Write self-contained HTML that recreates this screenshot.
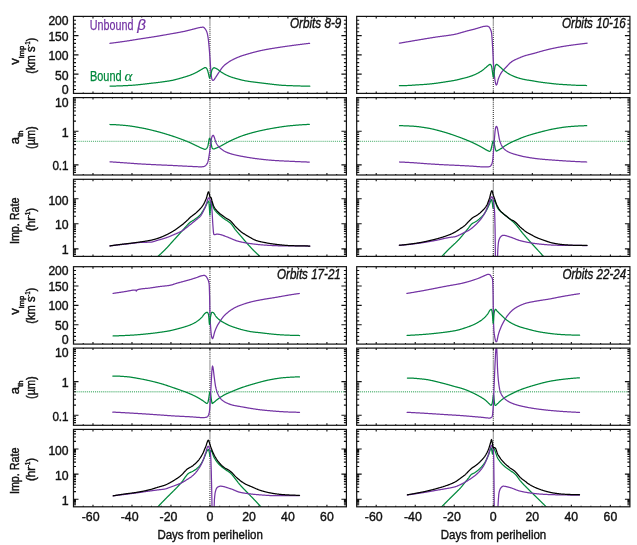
<!DOCTYPE html>
<html><head><meta charset="utf-8"><style>
html,body{margin:0;padding:0;background:#fff;}
svg{display:block;will-change:transform;}
text{font-family:"Liberation Sans",sans-serif;}
</style></head><body>
<svg xmlns="http://www.w3.org/2000/svg" width="637" height="545" viewBox="0 0 637 545"><defs><clipPath id="c00"><rect x="73.50" y="16.40" width="272.90" height="77.00"/></clipPath><clipPath id="c01"><rect x="73.50" y="97.60" width="272.90" height="77.40"/></clipPath><clipPath id="c02"><rect x="73.50" y="179.30" width="272.90" height="77.10"/></clipPath><clipPath id="c03"><rect x="73.50" y="266.70" width="272.90" height="77.40"/></clipPath><clipPath id="c04"><rect x="73.50" y="348.10" width="272.90" height="77.20"/></clipPath><clipPath id="c05"><rect x="73.50" y="429.40" width="272.90" height="77.40"/></clipPath><clipPath id="c10"><rect x="356.70" y="16.40" width="273.20" height="77.00"/></clipPath><clipPath id="c11"><rect x="356.70" y="97.60" width="273.20" height="77.40"/></clipPath><clipPath id="c12"><rect x="356.70" y="179.30" width="273.20" height="77.10"/></clipPath><clipPath id="c13"><rect x="356.70" y="266.70" width="273.20" height="77.40"/></clipPath><clipPath id="c14"><rect x="356.70" y="348.10" width="273.20" height="77.20"/></clipPath><clipPath id="c15"><rect x="356.70" y="429.40" width="273.20" height="77.40"/></clipPath></defs><rect width="637" height="545" fill="#fff"/><line x1="209.95" y1="16.40" x2="209.95" y2="93.40" stroke="#333" stroke-width="1.1" stroke-dasharray="1 1.05"/>
<line x1="209.95" y1="97.60" x2="209.95" y2="175.00" stroke="#333" stroke-width="1.1" stroke-dasharray="1 1.05"/>
<line x1="209.95" y1="179.30" x2="209.95" y2="256.40" stroke="#333" stroke-width="1.1" stroke-dasharray="1 1.05"/>
<line x1="209.95" y1="266.70" x2="209.95" y2="344.10" stroke="#333" stroke-width="1.1" stroke-dasharray="1 1.05"/>
<line x1="209.95" y1="348.10" x2="209.95" y2="425.30" stroke="#333" stroke-width="1.1" stroke-dasharray="1 1.05"/>
<line x1="209.95" y1="429.40" x2="209.95" y2="506.80" stroke="#333" stroke-width="1.1" stroke-dasharray="1 1.05"/>
<line x1="74.50" y1="141.36" x2="346.40" y2="141.36" stroke="#6fbf8b" stroke-width="1.4" stroke-dasharray="1.1 0.95"/>
<line x1="74.50" y1="391.75" x2="346.40" y2="391.75" stroke="#6fbf8b" stroke-width="1.4" stroke-dasharray="1.1 0.95"/>
<line x1="493.30" y1="16.40" x2="493.30" y2="93.40" stroke="#333" stroke-width="1.1" stroke-dasharray="1 1.05"/>
<line x1="493.30" y1="97.60" x2="493.30" y2="175.00" stroke="#333" stroke-width="1.1" stroke-dasharray="1 1.05"/>
<line x1="493.30" y1="179.30" x2="493.30" y2="256.40" stroke="#333" stroke-width="1.1" stroke-dasharray="1 1.05"/>
<line x1="493.30" y1="266.70" x2="493.30" y2="344.10" stroke="#333" stroke-width="1.1" stroke-dasharray="1 1.05"/>
<line x1="493.30" y1="348.10" x2="493.30" y2="425.30" stroke="#333" stroke-width="1.1" stroke-dasharray="1 1.05"/>
<line x1="493.30" y1="429.40" x2="493.30" y2="506.80" stroke="#333" stroke-width="1.1" stroke-dasharray="1 1.05"/>
<line x1="357.70" y1="141.36" x2="629.90" y2="141.36" stroke="#6fbf8b" stroke-width="1.4" stroke-dasharray="1.1 0.95"/>
<line x1="357.70" y1="391.75" x2="629.90" y2="391.75" stroke="#6fbf8b" stroke-width="1.4" stroke-dasharray="1.1 0.95"/>
<path d="M109.90 43.30 L110.24 43.26 L110.59 43.22 L110.93 43.18 L111.27 43.14 L111.62 43.09 L111.96 43.05 L112.30 43.01 L112.65 42.97 L112.99 42.92 L113.33 42.88 L113.68 42.84 L114.02 42.79 L114.36 42.75 L114.70 42.71 L115.05 42.66 L115.39 42.62 L115.73 42.57 L116.08 42.53 L116.42 42.49 L116.76 42.44 L117.11 42.40 L117.45 42.35 L117.79 42.30 L118.14 42.26 L118.48 42.21 L118.82 42.17 L119.17 42.12 L119.51 42.07 L119.85 42.03 L120.20 41.98 L120.54 41.93 L120.88 41.88 L121.22 41.84 L121.57 41.79 L121.91 41.74 L122.25 41.69 L122.60 41.64 L122.94 41.60 L123.28 41.55 L123.63 41.50 L123.97 41.45 L124.31 41.40 L124.66 41.35 L125.00 41.30 L125.35 41.25 L125.70 41.20 L126.05 41.15 L126.40 41.09 L126.74 41.04 L127.09 40.99 L127.44 40.93 L127.79 40.88 L128.14 40.83 L128.49 40.77 L128.84 40.72 L129.19 40.66 L129.53 40.60 L129.88 40.55 L130.23 40.49 L130.58 40.44 L130.93 40.38 L131.28 40.32 L131.63 40.27 L131.98 40.21 L132.33 40.15 L132.67 40.09 L133.02 40.04 L133.37 39.98 L133.72 39.92 L134.07 39.86 L134.42 39.81 L134.77 39.75 L135.12 39.69 L135.47 39.63 L135.81 39.58 L136.16 39.52 L136.51 39.46 L136.86 39.40 L137.21 39.35 L137.56 39.29 L137.91 39.23 L138.26 39.18 L138.60 39.12 L138.95 39.07 L139.30 39.01 L139.65 38.95 L140.00 38.90 L140.35 38.85 L140.70 38.79 L141.05 38.74 L141.40 38.68 L141.74 38.63 L142.09 38.58 L142.44 38.52 L142.79 38.47 L143.14 38.42 L143.49 38.36 L143.84 38.31 L144.19 38.26 L144.53 38.21 L144.88 38.15 L145.23 38.10 L145.58 38.05 L145.93 38.00 L146.28 37.94 L146.63 37.89 L146.98 37.84 L147.33 37.79 L147.67 37.74 L148.02 37.68 L148.37 37.63 L148.72 37.58 L149.07 37.53 L149.42 37.47 L149.77 37.42 L150.12 37.37 L150.47 37.31 L150.81 37.26 L151.16 37.21 L151.51 37.15 L151.86 37.10 L152.21 37.04 L152.56 36.99 L152.91 36.93 L153.26 36.88 L153.60 36.82 L153.95 36.77 L154.30 36.71 L154.65 36.66 L155.00 36.60 L155.35 36.54 L155.70 36.49 L156.05 36.43 L156.40 36.37 L156.74 36.31 L157.09 36.26 L157.44 36.20 L157.79 36.14 L158.14 36.08 L158.49 36.02 L158.84 35.96 L159.19 35.90 L159.53 35.84 L159.88 35.78 L160.23 35.72 L160.58 35.66 L160.93 35.60 L161.28 35.54 L161.63 35.48 L161.98 35.42 L162.33 35.36 L162.67 35.30 L163.02 35.24 L163.37 35.18 L163.72 35.12 L164.07 35.06 L164.42 35.00 L164.77 34.93 L165.12 34.87 L165.47 34.81 L165.81 34.75 L166.16 34.69 L166.51 34.62 L166.86 34.56 L167.21 34.50 L167.56 34.44 L167.91 34.38 L168.26 34.31 L168.60 34.25 L168.95 34.19 L169.30 34.13 L169.65 34.06 L170.00 34.00 L170.35 33.94 L170.70 33.88 L171.05 33.81 L171.40 33.75 L171.74 33.69 L172.09 33.63 L172.44 33.57 L172.79 33.50 L173.14 33.44 L173.49 33.38 L173.84 33.32 L174.19 33.26 L174.53 33.20 L174.88 33.14 L175.23 33.07 L175.58 33.01 L175.93 32.95 L176.28 32.89 L176.63 32.82 L176.98 32.76 L177.33 32.70 L177.67 32.64 L178.02 32.57 L178.37 32.51 L178.72 32.44 L179.07 32.38 L179.42 32.32 L179.77 32.25 L180.12 32.18 L180.47 32.12 L180.81 32.05 L181.16 31.98 L181.51 31.92 L181.86 31.85 L182.21 31.78 L182.56 31.71 L182.91 31.64 L183.26 31.57 L183.60 31.49 L183.95 31.42 L184.30 31.35 L184.65 31.27 L185.00 31.20 L185.34 31.12 L185.69 31.05 L186.03 30.97 L186.38 30.89 L186.72 30.81 L187.07 30.73 L187.41 30.64 L187.76 30.56 L188.10 30.47 L188.45 30.38 L188.79 30.30 L189.14 30.21 L189.48 30.12 L189.83 30.03 L190.17 29.94 L190.52 29.85 L190.86 29.76 L191.21 29.67 L191.55 29.58 L191.90 29.49 L192.24 29.40 L192.59 29.31 L192.93 29.22 L193.28 29.13 L193.62 29.04 L193.97 28.96 L194.31 28.87 L194.66 28.78 L195.00 28.70 L195.33 28.62 L195.67 28.53 L196.00 28.44 L196.33 28.35 L196.67 28.26 L197.00 28.16 L197.33 28.07 L197.67 27.98 L198.00 27.90 L198.33 27.82 L198.67 27.74 L199.00 27.67 L199.33 27.60 L199.67 27.55 L200.00 27.50 L200.32 27.46 L200.64 27.42 L200.96 27.37 L201.28 27.33 L201.60 27.30 L201.92 27.27 L202.24 27.24 L202.56 27.22 L202.88 27.20 L203.20 27.20 L203.52 27.27 L203.83 27.45 L204.15 27.72 L204.47 28.05 L204.78 28.42 L205.10 28.80 L205.43 29.23 L205.77 29.74 L206.10 30.34 L206.43 31.04 L206.77 31.86 L207.10 32.80 L207.40 33.91 L207.70 35.39 L208.00 37.18 L208.30 39.20 L208.60 41.72 L208.90 44.83 L209.20 48.20 L209.47 51.38 L209.73 54.85 L210.00 58.50 L210.25 62.18 L210.50 66.00 L210.70 69.19 L210.90 72.00 L211.20 75.04 L211.50 77.20 L211.85 78.85 L212.20 79.80 L212.47 80.11 L212.73 80.32 L213.00 80.40 L213.33 80.31 L213.67 80.08 L214.00 79.80 L214.33 79.40 L214.67 78.85 L215.00 78.30 L215.32 77.81 L215.65 77.33 L215.97 76.84 L216.30 76.35 L216.62 75.87 L216.95 75.38 L217.28 74.89 L217.60 74.40 L217.91 73.93 L218.22 73.45 L218.54 72.96 L218.85 72.48 L219.16 72.00 L219.47 71.53 L219.79 71.06 L220.10 70.60 L220.43 70.12 L220.76 69.64 L221.09 69.16 L221.41 68.69 L221.74 68.23 L222.07 67.80 L222.40 67.40 L222.72 67.03 L223.04 66.67 L223.37 66.33 L223.69 65.99 L224.01 65.67 L224.33 65.36 L224.66 65.06 L224.98 64.78 L225.30 64.50 L225.65 64.21 L225.99 63.93 L226.34 63.66 L226.68 63.40 L227.03 63.14 L227.38 62.89 L227.72 62.65 L228.07 62.41 L228.42 62.18 L228.76 61.95 L229.11 61.73 L229.45 61.51 L229.80 61.30 L230.15 61.09 L230.49 60.89 L230.84 60.69 L231.18 60.49 L231.53 60.30 L231.88 60.12 L232.22 59.93 L232.57 59.75 L232.92 59.58 L233.26 59.40 L233.61 59.23 L233.95 59.07 L234.30 58.90 L234.64 58.74 L234.97 58.58 L235.31 58.43 L235.65 58.27 L235.98 58.12 L236.32 57.97 L236.66 57.82 L236.99 57.67 L237.33 57.53 L237.67 57.39 L238.01 57.25 L238.34 57.11 L238.68 56.97 L239.02 56.84 L239.35 56.70 L239.69 56.57 L240.03 56.45 L240.36 56.32 L240.70 56.20 L241.04 56.08 L241.37 55.96 L241.71 55.85 L242.05 55.74 L242.38 55.63 L242.72 55.52 L243.06 55.41 L243.39 55.31 L243.73 55.20 L244.07 55.10 L244.41 55.00 L244.74 54.90 L245.08 54.80 L245.42 54.70 L245.75 54.60 L246.09 54.50 L246.43 54.40 L246.76 54.30 L247.10 54.20 L247.43 54.10 L247.76 54.00 L248.09 53.90 L248.43 53.81 L248.76 53.71 L249.09 53.61 L249.42 53.51 L249.75 53.42 L250.08 53.32 L250.42 53.22 L250.75 53.13 L251.08 53.04 L251.41 52.94 L251.74 52.85 L252.07 52.76 L252.41 52.67 L252.74 52.58 L253.07 52.49 L253.40 52.40 L253.74 52.31 L254.08 52.22 L254.42 52.13 L254.76 52.04 L255.10 51.96 L255.43 51.87 L255.77 51.78 L256.11 51.70 L256.45 51.61 L256.79 51.53 L257.13 51.44 L257.47 51.36 L257.81 51.28 L258.15 51.19 L258.49 51.11 L258.83 51.03 L259.17 50.95 L259.50 50.87 L259.84 50.80 L260.18 50.72 L260.52 50.65 L260.86 50.57 L261.20 50.50 L261.55 50.43 L261.90 50.35 L262.25 50.28 L262.59 50.21 L262.94 50.14 L263.29 50.07 L263.64 50.00 L263.99 49.93 L264.34 49.87 L264.68 49.80 L265.03 49.73 L265.38 49.67 L265.73 49.60 L266.08 49.54 L266.43 49.47 L266.77 49.41 L267.12 49.35 L267.47 49.28 L267.82 49.22 L268.17 49.16 L268.52 49.10 L268.86 49.04 L269.21 48.98 L269.56 48.92 L269.91 48.86 L270.26 48.80 L270.61 48.74 L270.95 48.68 L271.30 48.62 L271.65 48.56 L272.00 48.50 L272.34 48.44 L272.68 48.39 L273.03 48.33 L273.37 48.27 L273.71 48.22 L274.05 48.16 L274.39 48.11 L274.74 48.05 L275.08 48.00 L275.42 47.94 L275.76 47.89 L276.11 47.83 L276.45 47.78 L276.79 47.73 L277.13 47.67 L277.47 47.62 L277.82 47.57 L278.16 47.51 L278.50 47.46 L278.84 47.41 L279.18 47.36 L279.53 47.31 L279.87 47.26 L280.21 47.20 L280.55 47.15 L280.89 47.10 L281.24 47.05 L281.58 47.00 L281.92 46.95 L282.26 46.90 L282.61 46.85 L282.95 46.80 L283.29 46.75 L283.63 46.70 L283.97 46.65 L284.32 46.60 L284.66 46.55 L285.00 46.50 L285.35 46.45 L285.70 46.40 L286.04 46.35 L286.39 46.30 L286.74 46.25 L287.09 46.20 L287.44 46.15 L287.79 46.10 L288.13 46.05 L288.48 46.00 L288.83 45.96 L289.18 45.91 L289.53 45.86 L289.87 45.81 L290.22 45.76 L290.57 45.72 L290.92 45.67 L291.27 45.62 L291.61 45.57 L291.96 45.53 L292.31 45.48 L292.66 45.43 L293.01 45.39 L293.36 45.34 L293.70 45.29 L294.05 45.25 L294.40 45.20 L294.75 45.15 L295.10 45.11 L295.44 45.06 L295.79 45.02 L296.14 44.97 L296.49 44.93 L296.84 44.88 L297.19 44.84 L297.53 44.79 L297.88 44.75 L298.23 44.70 L298.58 44.66 L298.93 44.61 L299.27 44.57 L299.62 44.52 L299.97 44.48 L300.32 44.43 L300.67 44.39 L301.01 44.35 L301.36 44.30 L301.71 44.26 L302.06 44.22 L302.41 44.17 L302.76 44.13 L303.10 44.09 L303.45 44.04 L303.80 44.00 L304.14 43.96 L304.48 43.92 L304.82 43.87 L305.16 43.83 L305.51 43.79 L305.85 43.75 L306.19 43.71 L306.53 43.67 L306.87 43.63 L307.21 43.58 L307.55 43.54 L307.89 43.50 L308.24 43.46 L308.58 43.42 L308.92 43.38 L309.26 43.34 L309.60 43.30" fill="none" stroke="#7434a4" stroke-width="1.25" stroke-linejoin="round" stroke-linecap="round" clip-path="url(#c00)"/>
<path d="M110.00 86.10 L110.34 86.10 L110.69 86.10 L111.03 86.09 L111.38 86.09 L111.72 86.09 L112.07 86.08 L112.41 86.08 L112.76 86.08 L113.10 86.07 L113.45 86.06 L113.79 86.06 L114.14 86.05 L114.48 86.04 L114.83 86.04 L115.17 86.03 L115.52 86.02 L115.86 86.01 L116.21 86.00 L116.55 85.99 L116.90 85.98 L117.24 85.97 L117.59 85.96 L117.93 85.95 L118.28 85.94 L118.62 85.92 L118.97 85.91 L119.31 85.90 L119.66 85.89 L120.00 85.87 L120.34 85.86 L120.69 85.85 L121.03 85.83 L121.38 85.82 L121.72 85.80 L122.07 85.79 L122.41 85.77 L122.76 85.76 L123.10 85.74 L123.45 85.73 L123.79 85.71 L124.14 85.69 L124.48 85.68 L124.83 85.66 L125.17 85.64 L125.52 85.63 L125.86 85.61 L126.21 85.59 L126.55 85.58 L126.90 85.56 L127.24 85.54 L127.59 85.52 L127.93 85.51 L128.28 85.49 L128.62 85.47 L128.97 85.45 L129.31 85.44 L129.66 85.42 L130.00 85.40 L130.34 85.38 L130.69 85.36 L131.03 85.34 L131.38 85.32 L131.72 85.30 L132.07 85.28 L132.41 85.25 L132.76 85.23 L133.10 85.20 L133.45 85.18 L133.79 85.15 L134.14 85.12 L134.48 85.09 L134.83 85.06 L135.17 85.03 L135.52 85.00 L135.86 84.97 L136.21 84.94 L136.55 84.91 L136.90 84.88 L137.24 84.84 L137.59 84.81 L137.93 84.77 L138.28 84.74 L138.62 84.70 L138.97 84.67 L139.31 84.63 L139.66 84.60 L140.00 84.56 L140.34 84.52 L140.69 84.48 L141.03 84.44 L141.38 84.41 L141.72 84.37 L142.07 84.33 L142.41 84.29 L142.76 84.25 L143.10 84.21 L143.45 84.17 L143.79 84.13 L144.14 84.09 L144.48 84.05 L144.83 84.01 L145.17 83.97 L145.52 83.93 L145.86 83.89 L146.21 83.84 L146.55 83.80 L146.90 83.76 L147.24 83.72 L147.59 83.68 L147.93 83.64 L148.28 83.60 L148.62 83.56 L148.97 83.52 L149.31 83.48 L149.66 83.44 L150.00 83.40 L150.35 83.36 L150.70 83.32 L151.05 83.28 L151.40 83.24 L151.75 83.20 L152.10 83.16 L152.44 83.12 L152.79 83.08 L153.14 83.04 L153.49 83.00 L153.84 82.96 L154.19 82.92 L154.54 82.88 L154.89 82.84 L155.24 82.80 L155.59 82.76 L155.94 82.72 L156.29 82.67 L156.63 82.63 L156.98 82.59 L157.33 82.55 L157.68 82.51 L158.03 82.47 L158.38 82.42 L158.73 82.38 L159.08 82.34 L159.43 82.29 L159.78 82.25 L160.13 82.21 L160.48 82.16 L160.83 82.12 L161.17 82.07 L161.52 82.03 L161.87 81.98 L162.22 81.93 L162.57 81.89 L162.92 81.84 L163.27 81.79 L163.62 81.74 L163.97 81.69 L164.32 81.65 L164.67 81.60 L165.02 81.55 L165.37 81.49 L165.71 81.44 L166.06 81.39 L166.41 81.34 L166.76 81.28 L167.11 81.23 L167.46 81.18 L167.81 81.12 L168.16 81.06 L168.51 81.01 L168.86 80.95 L169.21 80.89 L169.56 80.83 L169.90 80.77 L170.25 80.71 L170.60 80.65 L170.95 80.59 L171.30 80.53 L171.65 80.46 L172.00 80.40 L172.34 80.34 L172.67 80.27 L173.01 80.20 L173.34 80.12 L173.68 80.04 L174.01 79.96 L174.35 79.88 L174.68 79.80 L175.02 79.71 L175.35 79.63 L175.69 79.54 L176.02 79.45 L176.36 79.36 L176.69 79.27 L177.03 79.18 L177.36 79.09 L177.70 79.00 L178.03 78.91 L178.36 78.82 L178.69 78.73 L179.02 78.64 L179.35 78.55 L179.68 78.46 L180.01 78.37 L180.34 78.27 L180.66 78.18 L180.99 78.08 L181.32 77.99 L181.65 77.89 L181.98 77.79 L182.31 77.69 L182.64 77.60 L182.97 77.50 L183.30 77.40 L183.64 77.30 L183.97 77.20 L184.31 77.10 L184.64 77.00 L184.98 76.90 L185.31 76.80 L185.65 76.70 L185.98 76.59 L186.32 76.49 L186.65 76.38 L186.99 76.28 L187.32 76.17 L187.66 76.06 L187.99 75.95 L188.33 75.83 L188.66 75.72 L189.00 75.60 L189.35 75.47 L189.70 75.35 L190.05 75.21 L190.40 75.08 L190.75 74.95 L191.10 74.81 L191.45 74.67 L191.80 74.53 L192.15 74.38 L192.50 74.24 L192.85 74.09 L193.20 73.93 L193.55 73.78 L193.90 73.62 L194.25 73.46 L194.60 73.30 L194.94 73.14 L195.27 72.98 L195.61 72.81 L195.94 72.64 L196.28 72.46 L196.61 72.28 L196.95 72.10 L197.28 71.91 L197.62 71.73 L197.95 71.54 L198.29 71.35 L198.62 71.16 L198.96 70.97 L199.29 70.77 L199.63 70.58 L199.96 70.39 L200.30 70.20 L200.64 70.00 L200.98 69.80 L201.32 69.59 L201.66 69.37 L202.00 69.16 L202.34 68.95 L202.68 68.75 L203.02 68.55 L203.36 68.37 L203.70 68.20 L204.04 68.02 L204.38 67.84 L204.72 67.67 L205.06 67.55 L205.40 67.50 L205.68 67.56 L205.95 67.72 L206.22 67.94 L206.50 68.20 L206.78 68.57 L207.05 69.12 L207.32 69.78 L207.60 70.50 L207.87 71.32 L208.13 72.29 L208.40 73.30 L208.70 74.66 L209.00 76.20 L209.30 77.47 L209.60 78.00 L209.90 77.60 L210.20 76.64 L210.50 75.43 L210.80 74.30 L211.15 73.01 L211.50 71.60 L211.85 70.34 L212.20 69.50 L212.52 69.03 L212.83 68.60 L213.15 68.24 L213.47 67.95 L213.78 67.77 L214.10 67.70 L214.40 67.75 L214.70 67.87 L215.00 68.00 L215.32 68.13 L215.65 68.27 L215.97 68.42 L216.30 68.58 L216.62 68.75 L216.95 68.92 L217.28 69.11 L217.60 69.30 L217.91 69.50 L218.22 69.73 L218.54 69.97 L218.85 70.22 L219.16 70.47 L219.47 70.73 L219.79 70.97 L220.10 71.20 L220.45 71.44 L220.79 71.69 L221.14 71.93 L221.48 72.16 L221.83 72.40 L222.18 72.63 L222.52 72.86 L222.87 73.08 L223.22 73.30 L223.56 73.51 L223.91 73.71 L224.25 73.91 L224.60 74.10 L224.94 74.28 L225.28 74.46 L225.63 74.63 L225.97 74.81 L226.31 74.97 L226.65 75.14 L226.99 75.30 L227.34 75.46 L227.68 75.62 L228.02 75.77 L228.36 75.92 L228.71 76.07 L229.05 76.21 L229.39 76.35 L229.73 76.49 L230.07 76.62 L230.42 76.75 L230.76 76.88 L231.10 77.00 L231.44 77.12 L231.77 77.23 L232.11 77.35 L232.45 77.46 L232.78 77.56 L233.12 77.67 L233.46 77.77 L233.79 77.87 L234.13 77.97 L234.47 78.07 L234.81 78.16 L235.14 78.26 L235.48 78.35 L235.82 78.44 L236.15 78.53 L236.49 78.63 L236.83 78.72 L237.16 78.81 L237.50 78.90 L237.84 78.99 L238.17 79.08 L238.51 79.17 L238.85 79.27 L239.18 79.36 L239.52 79.45 L239.86 79.54 L240.19 79.62 L240.53 79.71 L240.87 79.80 L241.21 79.88 L241.54 79.97 L241.88 80.05 L242.22 80.13 L242.55 80.21 L242.89 80.28 L243.23 80.36 L243.56 80.43 L243.90 80.50 L244.24 80.57 L244.57 80.63 L244.91 80.70 L245.25 80.76 L245.58 80.83 L245.92 80.89 L246.26 80.95 L246.59 81.01 L246.93 81.07 L247.27 81.13 L247.61 81.18 L247.94 81.24 L248.28 81.29 L248.62 81.35 L248.95 81.40 L249.29 81.45 L249.63 81.50 L249.96 81.55 L250.30 81.60 L250.64 81.65 L250.97 81.69 L251.31 81.74 L251.64 81.78 L251.98 81.83 L252.31 81.87 L252.65 81.91 L252.99 81.95 L253.32 81.99 L253.66 82.04 L253.99 82.08 L254.33 82.12 L254.66 82.16 L255.00 82.20 L255.34 82.24 L255.67 82.28 L256.01 82.33 L256.35 82.37 L256.69 82.41 L257.02 82.45 L257.36 82.49 L257.70 82.53 L258.03 82.57 L258.37 82.61 L258.71 82.65 L259.04 82.69 L259.38 82.73 L259.72 82.77 L260.06 82.81 L260.39 82.86 L260.73 82.90 L261.07 82.94 L261.40 82.98 L261.74 83.02 L262.08 83.06 L262.41 83.10 L262.75 83.14 L263.09 83.18 L263.43 83.22 L263.76 83.26 L264.10 83.30 L264.45 83.34 L264.80 83.39 L265.15 83.43 L265.50 83.47 L265.85 83.51 L266.20 83.56 L266.55 83.60 L266.90 83.65 L267.25 83.69 L267.60 83.73 L267.95 83.78 L268.30 83.82 L268.65 83.86 L269.00 83.91 L269.35 83.95 L269.70 83.99 L270.05 84.04 L270.40 84.08 L270.75 84.12 L271.10 84.16 L271.45 84.20 L271.80 84.24 L272.15 84.28 L272.50 84.32 L272.85 84.36 L273.20 84.40 L273.54 84.44 L273.87 84.47 L274.21 84.51 L274.55 84.55 L274.89 84.59 L275.22 84.63 L275.56 84.66 L275.90 84.70 L276.23 84.74 L276.57 84.78 L276.91 84.81 L277.24 84.85 L277.58 84.89 L277.92 84.92 L278.26 84.96 L278.59 84.99 L278.93 85.03 L279.27 85.06 L279.60 85.09 L279.94 85.12 L280.28 85.15 L280.61 85.18 L280.95 85.21 L281.29 85.23 L281.63 85.26 L281.96 85.28 L282.30 85.30 L282.65 85.32 L283.00 85.34 L283.35 85.36 L283.70 85.38 L284.05 85.40 L284.40 85.42 L284.75 85.43 L285.10 85.45 L285.45 85.47 L285.80 85.48 L286.15 85.50 L286.50 85.51 L286.85 85.53 L287.20 85.54 L287.55 85.55 L287.90 85.57 L288.25 85.58 L288.60 85.60 L288.95 85.61 L289.30 85.62 L289.65 85.63 L290.00 85.65 L290.35 85.66 L290.70 85.67 L291.05 85.69 L291.40 85.70 L291.74 85.71 L292.07 85.73 L292.41 85.74 L292.75 85.75 L293.09 85.76 L293.42 85.77 L293.76 85.79 L294.10 85.80 L294.43 85.81 L294.77 85.82 L295.11 85.83 L295.44 85.85 L295.78 85.86 L296.12 85.87 L296.46 85.88 L296.79 85.89 L297.13 85.90 L297.47 85.91 L297.80 85.92 L298.14 85.93 L298.48 85.94 L298.81 85.95 L299.15 85.96 L299.49 85.97 L299.83 85.98 L300.16 85.99 L300.50 86.00 L300.84 86.01 L301.19 86.02 L301.53 86.03 L301.88 86.04 L302.22 86.04 L302.57 86.05 L302.91 86.06 L303.26 86.07 L303.60 86.08 L303.94 86.08 L304.29 86.09 L304.63 86.10 L304.98 86.11 L305.32 86.12 L305.67 86.12 L306.01 86.13 L306.36 86.14 L306.70 86.14 L307.04 86.15 L307.39 86.16 L307.73 86.16 L308.08 86.17 L308.42 86.18 L308.77 86.18 L309.11 86.19 L309.46 86.19 L309.80 86.20" fill="none" stroke="#00893c" stroke-width="1.25" stroke-linejoin="round" stroke-linecap="round" clip-path="url(#c00)"/>
<path d="M110.00 124.50 L110.35 124.51 L110.70 124.52 L111.05 124.52 L111.40 124.53 L111.74 124.55 L112.09 124.56 L112.44 124.57 L112.79 124.58 L113.14 124.60 L113.49 124.61 L113.84 124.63 L114.19 124.64 L114.54 124.66 L114.88 124.68 L115.23 124.70 L115.58 124.72 L115.93 124.74 L116.28 124.76 L116.63 124.78 L116.98 124.80 L117.33 124.83 L117.68 124.85 L118.02 124.87 L118.37 124.90 L118.72 124.92 L119.07 124.95 L119.42 124.97 L119.77 125.00 L120.12 125.03 L120.47 125.05 L120.82 125.08 L121.16 125.11 L121.51 125.14 L121.86 125.17 L122.21 125.20 L122.56 125.22 L122.91 125.25 L123.26 125.28 L123.61 125.31 L123.96 125.35 L124.30 125.38 L124.65 125.41 L125.00 125.44 L125.35 125.47 L125.70 125.50 L126.05 125.53 L126.40 125.57 L126.75 125.60 L127.10 125.64 L127.44 125.67 L127.79 125.71 L128.14 125.75 L128.49 125.80 L128.84 125.84 L129.19 125.88 L129.54 125.93 L129.89 125.97 L130.24 126.02 L130.58 126.07 L130.93 126.12 L131.28 126.17 L131.63 126.22 L131.98 126.27 L132.33 126.32 L132.68 126.38 L133.03 126.43 L133.38 126.49 L133.72 126.54 L134.07 126.60 L134.42 126.66 L134.77 126.72 L135.12 126.78 L135.47 126.84 L135.82 126.90 L136.17 126.96 L136.52 127.02 L136.86 127.08 L137.21 127.14 L137.56 127.20 L137.91 127.26 L138.26 127.33 L138.61 127.39 L138.96 127.45 L139.31 127.52 L139.66 127.58 L140.00 127.64 L140.35 127.71 L140.70 127.77 L141.05 127.84 L141.40 127.90 L141.75 127.96 L142.10 128.03 L142.45 128.10 L142.80 128.16 L143.14 128.23 L143.49 128.30 L143.84 128.37 L144.19 128.44 L144.54 128.51 L144.89 128.58 L145.24 128.66 L145.59 128.73 L145.94 128.81 L146.28 128.88 L146.63 128.96 L146.98 129.03 L147.33 129.11 L147.68 129.19 L148.03 129.27 L148.38 129.35 L148.73 129.43 L149.08 129.51 L149.42 129.59 L149.77 129.67 L150.12 129.76 L150.47 129.84 L150.82 129.92 L151.17 130.01 L151.52 130.09 L151.87 130.18 L152.22 130.26 L152.56 130.35 L152.91 130.43 L153.26 130.52 L153.61 130.61 L153.96 130.70 L154.31 130.78 L154.66 130.87 L155.01 130.96 L155.36 131.05 L155.70 131.14 L156.05 131.23 L156.40 131.32 L156.75 131.41 L157.10 131.50 L157.45 131.59 L157.80 131.68 L158.15 131.78 L158.50 131.87 L158.84 131.96 L159.19 132.06 L159.54 132.15 L159.89 132.25 L160.24 132.34 L160.59 132.44 L160.94 132.54 L161.29 132.64 L161.64 132.74 L161.98 132.84 L162.33 132.94 L162.68 133.04 L163.03 133.14 L163.38 133.24 L163.73 133.35 L164.08 133.45 L164.43 133.55 L164.78 133.66 L165.12 133.76 L165.47 133.87 L165.82 133.98 L166.17 134.08 L166.52 134.19 L166.87 134.30 L167.22 134.41 L167.57 134.51 L167.92 134.62 L168.26 134.73 L168.61 134.84 L168.96 134.95 L169.31 135.07 L169.66 135.18 L170.01 135.29 L170.36 135.40 L170.71 135.51 L171.06 135.63 L171.40 135.74 L171.75 135.86 L172.10 135.97 L172.45 136.08 L172.80 136.20 L173.15 136.32 L173.50 136.43 L173.85 136.55 L174.20 136.67 L174.54 136.78 L174.89 136.90 L175.24 137.02 L175.59 137.14 L175.94 137.26 L176.29 137.38 L176.64 137.50 L176.99 137.62 L177.34 137.74 L177.68 137.86 L178.03 137.99 L178.38 138.11 L178.73 138.24 L179.08 138.36 L179.43 138.49 L179.78 138.61 L180.13 138.74 L180.48 138.87 L180.82 138.99 L181.17 139.12 L181.52 139.25 L181.87 139.38 L182.22 139.51 L182.57 139.65 L182.92 139.78 L183.27 139.91 L183.62 140.04 L183.96 140.18 L184.31 140.31 L184.66 140.45 L185.01 140.59 L185.36 140.72 L185.71 140.86 L186.06 141.00 L186.41 141.14 L186.76 141.28 L187.10 141.42 L187.45 141.57 L187.80 141.71 L188.15 141.85 L188.50 142.00 L188.85 142.15 L189.20 142.30 L189.54 142.45 L189.89 142.60 L190.24 142.76 L190.59 142.92 L190.94 143.08 L191.29 143.24 L191.63 143.40 L191.98 143.56 L192.33 143.73 L192.68 143.90 L193.03 144.06 L193.37 144.23 L193.72 144.40 L194.07 144.57 L194.42 144.74 L194.77 144.91 L195.11 145.08 L195.46 145.24 L195.81 145.41 L196.16 145.58 L196.51 145.75 L196.86 145.91 L197.20 146.08 L197.55 146.24 L197.90 146.40 L198.23 146.55 L198.56 146.71 L198.89 146.87 L199.21 147.03 L199.54 147.19 L199.87 147.35 L200.20 147.50 L200.53 147.66 L200.86 147.81 L201.19 147.96 L201.51 148.10 L201.84 148.24 L202.17 148.37 L202.50 148.50 L202.81 148.62 L203.12 148.76 L203.44 148.89 L203.75 149.02 L204.06 149.13 L204.38 149.22 L204.69 149.28 L205.00 149.30 L205.33 149.26 L205.67 149.15 L206.00 149.00 L206.33 148.73 L206.67 148.30 L207.00 147.80 L207.27 147.37 L207.53 146.86 L207.80 146.20 L208.07 145.21 L208.33 143.89 L208.60 142.50 L208.83 141.03 L209.07 139.49 L209.30 138.60 L209.55 138.32 L209.80 138.20 L210.10 138.82 L210.40 140.00 L210.70 141.37 L211.00 143.00 L211.30 144.50 L211.63 146.05 L211.97 147.49 L212.30 148.30 L212.62 148.59 L212.95 148.81 L213.28 148.95 L213.60 149.00 L213.92 148.97 L214.23 148.90 L214.55 148.79 L214.87 148.66 L215.18 148.52 L215.50 148.40 L215.81 148.28 L216.12 148.16 L216.43 148.04 L216.74 147.90 L217.06 147.77 L217.37 147.63 L217.68 147.49 L217.99 147.34 L218.30 147.20 L218.64 147.04 L218.97 146.88 L219.31 146.72 L219.64 146.55 L219.98 146.38 L220.31 146.21 L220.65 146.04 L220.99 145.87 L221.32 145.69 L221.66 145.51 L221.99 145.34 L222.33 145.16 L222.66 144.98 L223.00 144.80 L223.34 144.62 L223.67 144.44 L224.01 144.25 L224.34 144.06 L224.68 143.87 L225.01 143.68 L225.35 143.49 L225.69 143.30 L226.02 143.11 L226.36 142.92 L226.69 142.74 L227.03 142.55 L227.36 142.37 L227.70 142.20 L228.04 142.03 L228.38 141.85 L228.72 141.68 L229.06 141.51 L229.40 141.34 L229.73 141.17 L230.07 141.01 L230.41 140.84 L230.75 140.67 L231.09 140.51 L231.43 140.35 L231.77 140.19 L232.11 140.03 L232.45 139.87 L232.79 139.71 L233.13 139.55 L233.47 139.40 L233.80 139.25 L234.14 139.09 L234.48 138.94 L234.82 138.79 L235.16 138.65 L235.50 138.50 L235.84 138.35 L236.19 138.21 L236.53 138.06 L236.87 137.91 L237.22 137.77 L237.56 137.63 L237.90 137.48 L238.25 137.34 L238.59 137.20 L238.93 137.06 L239.28 136.92 L239.62 136.79 L239.97 136.65 L240.31 136.52 L240.65 136.39 L241.00 136.26 L241.34 136.13 L241.68 136.00 L242.03 135.88 L242.37 135.75 L242.71 135.63 L243.06 135.52 L243.40 135.40 L243.75 135.28 L244.10 135.17 L244.45 135.06 L244.80 134.94 L245.14 134.83 L245.49 134.72 L245.84 134.61 L246.19 134.50 L246.54 134.39 L246.89 134.28 L247.24 134.17 L247.59 134.07 L247.94 133.96 L248.28 133.86 L248.63 133.75 L248.98 133.65 L249.33 133.55 L249.68 133.45 L250.03 133.35 L250.38 133.25 L250.73 133.15 L251.08 133.05 L251.42 132.95 L251.77 132.86 L252.12 132.76 L252.47 132.66 L252.82 132.57 L253.17 132.48 L253.52 132.38 L253.87 132.29 L254.22 132.20 L254.56 132.11 L254.91 132.02 L255.26 131.93 L255.61 131.84 L255.96 131.76 L256.31 131.67 L256.66 131.58 L257.01 131.50 L257.36 131.41 L257.70 131.33 L258.05 131.25 L258.40 131.16 L258.75 131.08 L259.10 131.00 L259.45 130.92 L259.80 130.84 L260.15 130.76 L260.50 130.68 L260.84 130.60 L261.19 130.52 L261.54 130.45 L261.89 130.37 L262.24 130.29 L262.59 130.22 L262.94 130.14 L263.29 130.07 L263.64 129.99 L263.98 129.92 L264.33 129.85 L264.68 129.78 L265.03 129.70 L265.38 129.63 L265.73 129.56 L266.08 129.49 L266.43 129.42 L266.78 129.35 L267.12 129.28 L267.47 129.21 L267.82 129.15 L268.17 129.08 L268.52 129.01 L268.87 128.95 L269.22 128.88 L269.57 128.82 L269.92 128.75 L270.26 128.69 L270.61 128.62 L270.96 128.56 L271.31 128.50 L271.66 128.44 L272.01 128.37 L272.36 128.31 L272.71 128.25 L273.06 128.19 L273.40 128.13 L273.75 128.07 L274.10 128.02 L274.45 127.96 L274.80 127.90 L275.15 127.84 L275.50 127.79 L275.85 127.73 L276.20 127.67 L276.54 127.61 L276.89 127.56 L277.24 127.50 L277.59 127.44 L277.94 127.39 L278.29 127.33 L278.64 127.28 L278.99 127.22 L279.34 127.17 L279.68 127.11 L280.03 127.06 L280.38 127.00 L280.73 126.95 L281.08 126.90 L281.43 126.84 L281.78 126.79 L282.13 126.74 L282.48 126.69 L282.82 126.64 L283.17 126.59 L283.52 126.54 L283.87 126.49 L284.22 126.44 L284.57 126.39 L284.92 126.34 L285.27 126.30 L285.62 126.25 L285.96 126.21 L286.31 126.16 L286.66 126.12 L287.01 126.08 L287.36 126.03 L287.71 125.99 L288.06 125.95 L288.41 125.91 L288.76 125.88 L289.10 125.84 L289.45 125.80 L289.80 125.77 L290.15 125.73 L290.50 125.70 L290.85 125.67 L291.20 125.64 L291.54 125.60 L291.89 125.57 L292.24 125.54 L292.59 125.51 L292.94 125.48 L293.29 125.44 L293.63 125.41 L293.98 125.38 L294.33 125.35 L294.68 125.32 L295.03 125.29 L295.37 125.26 L295.72 125.23 L296.07 125.20 L296.42 125.17 L296.77 125.14 L297.11 125.12 L297.46 125.09 L297.81 125.06 L298.16 125.03 L298.51 125.01 L298.86 124.98 L299.20 124.95 L299.55 124.93 L299.90 124.90 L300.25 124.88 L300.60 124.85 L300.94 124.83 L301.29 124.80 L301.64 124.78 L301.99 124.76 L302.34 124.74 L302.69 124.71 L303.03 124.69 L303.38 124.67 L303.73 124.65 L304.08 124.63 L304.43 124.61 L304.77 124.59 L305.12 124.57 L305.47 124.56 L305.82 124.54 L306.17 124.52 L306.51 124.51 L306.86 124.49 L307.21 124.48 L307.56 124.46 L307.91 124.45 L308.26 124.43 L308.60 124.42 L308.95 124.41 L309.30 124.40" fill="none" stroke="#00893c" stroke-width="1.25" stroke-linejoin="round" stroke-linecap="round" clip-path="url(#c01)"/>
<path d="M110.00 161.80 L110.35 161.82 L110.70 161.85 L111.05 161.87 L111.40 161.90 L111.74 161.92 L112.09 161.95 L112.44 161.97 L112.79 162.00 L113.14 162.02 L113.49 162.04 L113.84 162.07 L114.19 162.09 L114.54 162.12 L114.88 162.14 L115.23 162.17 L115.58 162.19 L115.93 162.22 L116.28 162.24 L116.63 162.26 L116.98 162.29 L117.33 162.31 L117.68 162.34 L118.02 162.36 L118.37 162.39 L118.72 162.41 L119.07 162.44 L119.42 162.46 L119.77 162.48 L120.12 162.51 L120.47 162.53 L120.82 162.56 L121.16 162.58 L121.51 162.61 L121.86 162.63 L122.21 162.66 L122.56 162.68 L122.91 162.70 L123.26 162.73 L123.61 162.75 L123.96 162.78 L124.30 162.80 L124.65 162.83 L125.00 162.85 L125.35 162.88 L125.70 162.90 L126.05 162.92 L126.40 162.95 L126.75 162.97 L127.10 163.00 L127.44 163.02 L127.79 163.05 L128.14 163.07 L128.49 163.10 L128.84 163.13 L129.19 163.15 L129.54 163.18 L129.89 163.20 L130.24 163.23 L130.58 163.25 L130.93 163.28 L131.28 163.31 L131.63 163.33 L131.98 163.36 L132.33 163.38 L132.68 163.41 L133.03 163.43 L133.38 163.46 L133.72 163.48 L134.07 163.51 L134.42 163.53 L134.77 163.56 L135.12 163.59 L135.47 163.61 L135.82 163.63 L136.17 163.66 L136.52 163.68 L136.86 163.71 L137.21 163.73 L137.56 163.76 L137.91 163.78 L138.26 163.80 L138.61 163.83 L138.96 163.85 L139.31 163.87 L139.66 163.89 L140.00 163.92 L140.35 163.94 L140.70 163.96 L141.05 163.98 L141.40 164.00 L141.75 164.02 L142.10 164.04 L142.45 164.06 L142.80 164.08 L143.14 164.10 L143.49 164.12 L143.84 164.14 L144.19 164.16 L144.54 164.18 L144.89 164.20 L145.24 164.22 L145.59 164.23 L145.94 164.25 L146.28 164.27 L146.63 164.29 L146.98 164.31 L147.33 164.33 L147.68 164.34 L148.03 164.36 L148.38 164.38 L148.73 164.40 L149.08 164.41 L149.42 164.43 L149.77 164.45 L150.12 164.47 L150.47 164.48 L150.82 164.50 L151.17 164.52 L151.52 164.53 L151.87 164.55 L152.22 164.57 L152.56 164.58 L152.91 164.60 L153.26 164.62 L153.61 164.63 L153.96 164.65 L154.31 164.67 L154.66 164.68 L155.01 164.70 L155.36 164.72 L155.70 164.73 L156.05 164.75 L156.40 164.77 L156.75 164.78 L157.10 164.80 L157.45 164.82 L157.80 164.83 L158.15 164.85 L158.50 164.87 L158.84 164.88 L159.19 164.90 L159.54 164.91 L159.89 164.93 L160.24 164.94 L160.59 164.96 L160.94 164.98 L161.29 164.99 L161.64 165.01 L161.98 165.02 L162.33 165.04 L162.68 165.05 L163.03 165.07 L163.38 165.08 L163.73 165.10 L164.08 165.11 L164.43 165.13 L164.78 165.14 L165.12 165.16 L165.47 165.17 L165.82 165.19 L166.17 165.20 L166.52 165.22 L166.87 165.23 L167.22 165.25 L167.57 165.26 L167.92 165.28 L168.26 165.29 L168.61 165.31 L168.96 165.32 L169.31 165.34 L169.66 165.36 L170.01 165.37 L170.36 165.39 L170.71 165.40 L171.06 165.42 L171.40 165.43 L171.75 165.45 L172.10 165.47 L172.45 165.48 L172.80 165.50 L173.15 165.52 L173.50 165.53 L173.85 165.55 L174.20 165.57 L174.54 165.59 L174.89 165.60 L175.24 165.62 L175.59 165.64 L175.94 165.66 L176.29 165.67 L176.64 165.69 L176.99 165.71 L177.34 165.73 L177.68 165.75 L178.03 165.77 L178.38 165.78 L178.73 165.80 L179.08 165.82 L179.43 165.84 L179.78 165.86 L180.13 165.88 L180.48 165.90 L180.82 165.92 L181.17 165.93 L181.52 165.95 L181.87 165.97 L182.22 165.99 L182.57 166.01 L182.92 166.03 L183.27 166.04 L183.62 166.06 L183.96 166.08 L184.31 166.10 L184.66 166.12 L185.01 166.13 L185.36 166.15 L185.71 166.17 L186.06 166.19 L186.41 166.20 L186.76 166.22 L187.10 166.24 L187.45 166.25 L187.80 166.27 L188.15 166.28 L188.50 166.30 L188.85 166.32 L189.20 166.33 L189.55 166.35 L189.90 166.37 L190.25 166.38 L190.60 166.40 L190.95 166.42 L191.30 166.44 L191.65 166.46 L192.00 166.48 L192.35 166.49 L192.70 166.51 L193.05 166.53 L193.40 166.55 L193.75 166.57 L194.10 166.59 L194.45 166.60 L194.80 166.62 L195.15 166.64 L195.50 166.65 L195.85 166.67 L196.20 166.68 L196.55 166.70 L196.90 166.71 L197.25 166.72 L197.60 166.74 L197.95 166.75 L198.30 166.76 L198.65 166.77 L199.00 166.78 L199.35 166.78 L199.70 166.79 L200.05 166.79 L200.40 166.80 L200.75 166.80 L201.10 166.80 L201.44 166.80 L201.79 166.78 L202.13 166.76 L202.47 166.73 L202.81 166.69 L203.16 166.65 L203.50 166.60 L203.80 166.54 L204.10 166.44 L204.40 166.31 L204.70 166.16 L205.00 166.00 L205.32 165.78 L205.65 165.49 L205.98 165.16 L206.30 164.80 L206.63 164.42 L206.97 163.97 L207.30 163.40 L207.60 162.66 L207.90 161.66 L208.20 160.50 L208.48 159.21 L208.76 157.68 L209.04 155.98 L209.32 154.16 L209.60 152.30 L209.90 150.12 L210.20 147.71 L210.50 145.32 L210.80 143.20 L211.10 141.19 L211.40 139.22 L211.70 137.58 L212.00 136.60 L212.30 136.09 L212.60 135.68 L212.90 135.40 L213.20 135.30 L213.50 135.55 L213.80 136.13 L214.10 136.80 L214.43 137.68 L214.77 138.76 L215.10 139.80 L215.38 140.61 L215.66 141.42 L215.94 142.20 L216.22 142.90 L216.50 143.50 L216.80 144.04 L217.10 144.53 L217.40 144.97 L217.70 145.37 L218.00 145.75 L218.30 146.10 L218.64 146.48 L218.97 146.84 L219.31 147.20 L219.64 147.54 L219.98 147.87 L220.31 148.19 L220.65 148.49 L220.99 148.78 L221.32 149.07 L221.66 149.34 L221.99 149.59 L222.33 149.84 L222.66 150.08 L223.00 150.30 L223.34 150.51 L223.67 150.72 L224.01 150.92 L224.34 151.12 L224.68 151.30 L225.01 151.48 L225.35 151.66 L225.69 151.82 L226.02 151.99 L226.36 152.14 L226.69 152.29 L227.03 152.43 L227.36 152.57 L227.70 152.70 L228.04 152.83 L228.38 152.95 L228.72 153.07 L229.06 153.19 L229.40 153.31 L229.73 153.42 L230.07 153.53 L230.41 153.63 L230.75 153.74 L231.09 153.84 L231.43 153.94 L231.77 154.04 L232.11 154.13 L232.45 154.23 L232.79 154.32 L233.13 154.41 L233.47 154.50 L233.80 154.58 L234.14 154.67 L234.48 154.75 L234.82 154.84 L235.16 154.92 L235.50 155.00 L235.84 155.08 L236.19 155.16 L236.53 155.24 L236.87 155.32 L237.22 155.39 L237.56 155.47 L237.90 155.54 L238.25 155.62 L238.59 155.69 L238.93 155.76 L239.28 155.83 L239.62 155.90 L239.97 155.96 L240.31 156.03 L240.65 156.10 L241.00 156.16 L241.34 156.23 L241.68 156.29 L242.03 156.35 L242.37 156.42 L242.71 156.48 L243.06 156.54 L243.40 156.60 L243.75 156.66 L244.10 156.72 L244.45 156.78 L244.80 156.85 L245.14 156.91 L245.49 156.97 L245.84 157.03 L246.19 157.09 L246.54 157.15 L246.89 157.21 L247.24 157.26 L247.59 157.32 L247.94 157.38 L248.28 157.44 L248.63 157.50 L248.98 157.55 L249.33 157.61 L249.68 157.67 L250.03 157.72 L250.38 157.78 L250.73 157.83 L251.08 157.89 L251.42 157.94 L251.77 158.00 L252.12 158.05 L252.47 158.10 L252.82 158.16 L253.17 158.21 L253.52 158.26 L253.87 158.31 L254.22 158.36 L254.56 158.41 L254.91 158.46 L255.26 158.51 L255.61 158.56 L255.96 158.60 L256.31 158.65 L256.66 158.70 L257.01 158.74 L257.36 158.79 L257.70 158.83 L258.05 158.87 L258.40 158.92 L258.75 158.96 L259.10 159.00 L259.45 159.04 L259.80 159.08 L260.15 159.12 L260.50 159.16 L260.84 159.20 L261.19 159.24 L261.54 159.28 L261.89 159.32 L262.24 159.36 L262.59 159.40 L262.94 159.44 L263.29 159.47 L263.64 159.51 L263.98 159.55 L264.33 159.59 L264.68 159.62 L265.03 159.66 L265.38 159.69 L265.73 159.73 L266.08 159.76 L266.43 159.80 L266.78 159.83 L267.12 159.87 L267.47 159.90 L267.82 159.93 L268.17 159.97 L268.52 160.00 L268.87 160.03 L269.22 160.06 L269.57 160.09 L269.92 160.12 L270.26 160.15 L270.61 160.18 L270.96 160.21 L271.31 160.24 L271.66 160.27 L272.01 160.30 L272.36 160.32 L272.71 160.35 L273.06 160.38 L273.40 160.40 L273.75 160.43 L274.10 160.45 L274.45 160.48 L274.80 160.50 L275.15 160.52 L275.50 160.55 L275.85 160.57 L276.20 160.59 L276.54 160.61 L276.89 160.63 L277.24 160.65 L277.59 160.67 L277.94 160.69 L278.29 160.71 L278.64 160.73 L278.99 160.75 L279.34 160.77 L279.68 160.79 L280.03 160.81 L280.38 160.83 L280.73 160.84 L281.08 160.86 L281.43 160.88 L281.78 160.90 L282.13 160.91 L282.48 160.93 L282.82 160.95 L283.17 160.96 L283.52 160.98 L283.87 161.00 L284.22 161.01 L284.57 161.03 L284.92 161.05 L285.27 161.06 L285.62 161.08 L285.96 161.09 L286.31 161.11 L286.66 161.13 L287.01 161.14 L287.36 161.16 L287.71 161.17 L288.06 161.19 L288.41 161.20 L288.76 161.22 L289.10 161.24 L289.45 161.25 L289.80 161.27 L290.15 161.28 L290.50 161.30 L290.85 161.32 L291.20 161.33 L291.54 161.35 L291.89 161.36 L292.24 161.38 L292.59 161.40 L292.94 161.41 L293.29 161.43 L293.63 161.44 L293.98 161.46 L294.33 161.48 L294.68 161.49 L295.03 161.51 L295.37 161.52 L295.72 161.54 L296.07 161.55 L296.42 161.57 L296.77 161.58 L297.11 161.60 L297.46 161.61 L297.81 161.63 L298.16 161.65 L298.51 161.66 L298.86 161.68 L299.20 161.69 L299.55 161.71 L299.90 161.72 L300.25 161.73 L300.60 161.75 L300.94 161.76 L301.29 161.78 L301.64 161.79 L301.99 161.81 L302.34 161.82 L302.69 161.84 L303.03 161.85 L303.38 161.87 L303.73 161.88 L304.08 161.89 L304.43 161.91 L304.77 161.92 L305.12 161.94 L305.47 161.95 L305.82 161.96 L306.17 161.98 L306.51 161.99 L306.86 162.01 L307.21 162.02 L307.56 162.03 L307.91 162.05 L308.26 162.06 L308.60 162.07 L308.95 162.09 L309.30 162.10" fill="none" stroke="#7434a4" stroke-width="1.25" stroke-linejoin="round" stroke-linecap="round" clip-path="url(#c01)"/>
<path d="M157.20 257.00 L157.43 256.80 L157.67 256.60 L157.90 256.40 L158.24 256.09 L158.59 255.79 L158.93 255.48 L159.27 255.17 L159.62 254.85 L159.96 254.54 L160.30 254.22 L160.65 253.91 L160.99 253.59 L161.33 253.27 L161.68 252.94 L162.02 252.62 L162.37 252.29 L162.71 251.96 L163.05 251.63 L163.40 251.30 L163.74 250.96 L164.08 250.62 L164.43 250.28 L164.77 249.94 L165.11 249.60 L165.46 249.25 L165.80 248.90 L166.14 248.55 L166.49 248.19 L166.83 247.83 L167.17 247.46 L167.52 247.09 L167.86 246.72 L168.20 246.35 L168.55 245.97 L168.89 245.59 L169.23 245.21 L169.58 244.82 L169.92 244.44 L170.27 244.05 L170.61 243.67 L170.95 243.28 L171.30 242.89 L171.64 242.50 L171.98 242.12 L172.33 241.73 L172.67 241.34 L173.01 240.96 L173.36 240.58 L173.70 240.20 L174.04 239.83 L174.38 239.45 L174.72 239.08 L175.06 238.71 L175.40 238.33 L175.73 237.96 L176.07 237.59 L176.41 237.22 L176.75 236.84 L177.09 236.47 L177.43 236.10 L177.77 235.73 L178.11 235.35 L178.45 234.98 L178.79 234.61 L179.13 234.23 L179.47 233.86 L179.80 233.48 L180.14 233.11 L180.48 232.73 L180.82 232.35 L181.16 231.98 L181.50 231.60 L181.85 231.21 L182.20 230.81 L182.55 230.42 L182.90 230.02 L183.25 229.62 L183.60 229.22 L183.95 228.82 L184.30 228.42 L184.65 228.03 L185.00 227.63 L185.35 227.23 L185.70 226.84 L186.05 226.45 L186.40 226.06 L186.75 225.68 L187.10 225.30 L187.43 224.94 L187.76 224.58 L188.09 224.21 L188.41 223.85 L188.74 223.51 L189.07 223.19 L189.40 222.90 L189.74 222.62 L190.09 222.36 L190.43 222.12 L190.77 221.89 L191.11 221.66 L191.46 221.45 L191.80 221.24 L192.14 221.03 L192.49 220.82 L192.83 220.61 L193.17 220.40 L193.51 220.17 L193.86 219.94 L194.20 219.70 L194.54 219.45 L194.88 219.21 L195.22 218.96 L195.56 218.72 L195.91 218.47 L196.25 218.22 L196.59 217.97 L196.93 217.72 L197.27 217.45 L197.61 217.18 L197.95 216.91 L198.29 216.62 L198.64 216.32 L198.98 216.01 L199.32 215.69 L199.66 215.35 L200.00 215.00 L200.33 214.63 L200.67 214.23 L201.00 213.81 L201.33 213.36 L201.67 212.89 L202.00 212.39 L202.33 211.89 L202.67 211.37 L203.00 210.84 L203.33 210.30 L203.67 209.76 L204.00 209.21 L204.33 208.67 L204.67 208.13 L205.00 207.60 L205.35 207.00 L205.69 206.31 L206.04 205.57 L206.38 204.79 L206.73 204.02 L207.07 203.29 L207.42 202.62 L207.76 202.04 L208.11 201.60 L208.45 201.30 L208.80 201.20 L209.10 203.66 L209.40 208.00 L209.65 212.29 L209.90 215.00 L210.15 212.29 L210.40 208.00 L210.70 203.66 L211.00 201.20 L211.31 201.40 L211.62 201.94 L211.93 202.75 L212.24 203.73 L212.56 204.82 L212.87 205.92 L213.18 206.95 L213.49 207.84 L213.80 208.50 L214.14 209.05 L214.49 209.57 L214.83 210.06 L215.18 210.53 L215.52 210.96 L215.86 211.38 L216.21 211.77 L216.55 212.14 L216.89 212.50 L217.24 212.85 L217.58 213.19 L217.93 213.52 L218.27 213.84 L218.61 214.16 L218.96 214.48 L219.30 214.80 L219.64 215.12 L219.99 215.43 L220.33 215.73 L220.68 216.02 L221.02 216.31 L221.36 216.59 L221.71 216.87 L222.05 217.14 L222.39 217.40 L222.74 217.67 L223.08 217.93 L223.43 218.18 L223.77 218.44 L224.11 218.69 L224.46 218.95 L224.80 219.20 L225.14 219.45 L225.49 219.69 L225.83 219.91 L226.18 220.13 L226.52 220.35 L226.86 220.56 L227.21 220.77 L227.55 220.99 L227.89 221.20 L228.24 221.43 L228.58 221.66 L228.93 221.90 L229.27 222.15 L229.61 222.42 L229.96 222.70 L230.30 223.00 L230.64 223.33 L230.99 223.69 L231.33 224.09 L231.68 224.51 L232.02 224.95 L232.36 225.41 L232.71 225.89 L233.05 226.37 L233.39 226.87 L233.74 227.37 L234.08 227.86 L234.43 228.36 L234.77 228.84 L235.11 229.31 L235.46 229.77 L235.80 230.20 L236.14 230.62 L236.49 231.04 L236.83 231.45 L237.18 231.85 L237.52 232.25 L237.86 232.65 L238.21 233.05 L238.55 233.44 L238.89 233.83 L239.24 234.23 L239.58 234.62 L239.93 235.01 L240.27 235.41 L240.61 235.80 L240.96 236.20 L241.30 236.60 L241.65 237.01 L242.00 237.42 L242.35 237.84 L242.70 238.26 L243.05 238.68 L243.40 239.09 L243.75 239.51 L244.10 239.93 L244.45 240.35 L244.80 240.76 L245.15 241.18 L245.50 241.59 L245.85 242.00 L246.20 242.40 L246.55 242.80 L246.90 243.20 L247.25 243.59 L247.59 243.98 L247.94 244.37 L248.29 244.76 L248.64 245.14 L248.98 245.53 L249.33 245.91 L249.68 246.29 L250.03 246.67 L250.37 247.04 L250.72 247.41 L251.07 247.79 L251.42 248.15 L251.76 248.52 L252.11 248.88 L252.46 249.24 L252.81 249.60 L253.15 249.95 L253.50 250.30 L253.84 250.64 L254.18 250.98 L254.52 251.32 L254.86 251.65 L255.20 251.98 L255.55 252.31 L255.89 252.64 L256.23 252.97 L256.57 253.29 L256.91 253.61 L257.25 253.93 L257.59 254.25 L257.93 254.57 L258.27 254.88 L258.61 255.19 L258.95 255.50 L259.30 255.81 L259.64 256.11 L259.98 256.41 L260.32 256.71 L260.66 257.01 L261.00 257.30" fill="none" stroke="#00893c" stroke-width="1.25" stroke-linejoin="round" stroke-linecap="round" clip-path="url(#c02)"/>
<path d="M110.00 245.90 L110.35 245.86 L110.69 245.82 L111.04 245.77 L111.39 245.73 L111.73 245.69 L112.08 245.65 L112.43 245.61 L112.77 245.57 L113.12 245.53 L113.47 245.48 L113.81 245.44 L114.16 245.40 L114.51 245.36 L114.85 245.32 L115.20 245.28 L115.54 245.24 L115.89 245.20 L116.24 245.16 L116.58 245.12 L116.93 245.08 L117.28 245.04 L117.62 245.00 L117.97 244.96 L118.32 244.92 L118.66 244.88 L119.01 244.84 L119.36 244.80 L119.70 244.76 L120.05 244.72 L120.40 244.68 L120.74 244.64 L121.09 244.60 L121.44 244.56 L121.78 244.52 L122.13 244.48 L122.48 244.44 L122.82 244.40 L123.17 244.36 L123.52 244.32 L123.86 244.29 L124.21 244.25 L124.56 244.21 L124.90 244.17 L125.25 244.13 L125.59 244.09 L125.94 244.05 L126.29 244.02 L126.63 243.98 L126.98 243.94 L127.33 243.90 L127.67 243.86 L128.02 243.83 L128.37 243.79 L128.71 243.75 L129.06 243.71 L129.41 243.68 L129.75 243.64 L130.10 243.60 L130.45 243.56 L130.80 243.52 L131.15 243.48 L131.50 243.44 L131.85 243.40 L132.20 243.35 L132.55 243.31 L132.90 243.26 L133.25 243.22 L133.60 243.17 L133.95 243.13 L134.30 243.08 L134.65 243.04 L135.00 242.99 L135.35 242.95 L135.70 242.90 L136.05 242.86 L136.40 242.82 L136.75 242.77 L137.10 242.73 L137.45 242.69 L137.80 242.65 L138.15 242.61 L138.50 242.58 L138.85 242.54 L139.20 242.51 L139.55 242.48 L139.90 242.45 L140.25 242.42 L140.60 242.40 L140.95 242.38 L141.30 242.35 L141.65 242.34 L142.00 242.32 L142.35 242.31 L142.70 242.30 L143.05 242.29 L143.40 242.29 L143.74 242.28 L144.09 242.28 L144.44 242.27 L144.79 242.27 L145.13 242.26 L145.48 242.26 L145.83 242.26 L146.18 242.25 L146.52 242.25 L146.87 242.25 L147.22 242.25 L147.57 242.24 L147.91 242.24 L148.26 242.23 L148.61 242.23 L148.96 242.22 L149.30 242.22 L149.65 242.21 L150.00 242.20 L150.34 242.18 L150.69 242.16 L151.03 242.12 L151.37 242.07 L151.72 242.01 L152.06 241.94 L152.40 241.86 L152.75 241.78 L153.09 241.69 L153.43 241.59 L153.78 241.49 L154.12 241.39 L154.47 241.28 L154.81 241.17 L155.15 241.06 L155.50 240.95 L155.84 240.83 L156.18 240.72 L156.53 240.61 L156.87 240.50 L157.21 240.40 L157.56 240.30 L157.90 240.20 L158.24 240.11 L158.59 240.01 L158.93 239.92 L159.27 239.83 L159.62 239.74 L159.96 239.64 L160.30 239.55 L160.65 239.45 L160.99 239.36 L161.33 239.26 L161.68 239.17 L162.02 239.07 L162.37 238.97 L162.71 238.87 L163.05 238.77 L163.40 238.67 L163.74 238.56 L164.08 238.46 L164.43 238.35 L164.77 238.24 L165.11 238.13 L165.46 238.02 L165.80 237.90 L166.14 237.78 L166.49 237.66 L166.83 237.54 L167.17 237.41 L167.52 237.28 L167.86 237.15 L168.20 237.01 L168.55 236.88 L168.89 236.74 L169.23 236.60 L169.58 236.46 L169.92 236.31 L170.27 236.17 L170.61 236.02 L170.95 235.88 L171.30 235.73 L171.64 235.58 L171.98 235.44 L172.33 235.29 L172.67 235.14 L173.01 234.99 L173.36 234.85 L173.70 234.70 L174.04 234.56 L174.38 234.41 L174.72 234.27 L175.06 234.13 L175.40 234.00 L175.73 233.86 L176.07 233.72 L176.41 233.58 L176.75 233.44 L177.09 233.30 L177.43 233.15 L177.77 233.01 L178.11 232.86 L178.45 232.71 L178.79 232.56 L179.13 232.40 L179.47 232.25 L179.80 232.08 L180.14 231.92 L180.48 231.75 L180.82 231.57 L181.16 231.39 L181.50 231.20 L181.84 231.00 L182.19 230.80 L182.53 230.58 L182.87 230.35 L183.22 230.12 L183.56 229.88 L183.90 229.64 L184.25 229.38 L184.59 229.13 L184.93 228.87 L185.28 228.60 L185.62 228.33 L185.97 228.06 L186.31 227.78 L186.65 227.50 L187.00 227.23 L187.34 226.95 L187.68 226.67 L188.03 226.39 L188.37 226.12 L188.71 225.84 L189.06 225.57 L189.40 225.30 L189.74 225.03 L190.09 224.76 L190.43 224.49 L190.77 224.22 L191.12 223.95 L191.46 223.68 L191.80 223.40 L192.15 223.13 L192.49 222.85 L192.83 222.57 L193.18 222.30 L193.52 222.02 L193.87 221.74 L194.21 221.46 L194.55 221.17 L194.90 220.89 L195.24 220.61 L195.58 220.33 L195.93 220.04 L196.27 219.76 L196.61 219.47 L196.96 219.19 L197.30 218.90 L197.64 218.63 L197.98 218.36 L198.31 218.11 L198.65 217.84 L198.99 217.57 L199.32 217.28 L199.66 216.96 L200.00 216.60 L200.33 216.21 L200.67 215.77 L201.00 215.30 L201.33 214.79 L201.67 214.25 L202.00 213.68 L202.33 213.08 L202.67 212.46 L203.00 211.81 L203.33 211.16 L203.67 210.48 L204.00 209.80 L204.31 209.12 L204.62 208.39 L204.94 207.62 L205.25 206.82 L205.56 205.99 L205.88 205.15 L206.19 204.32 L206.50 203.50 L206.85 202.45 L207.20 201.24 L207.55 200.02 L207.90 198.95 L208.25 198.19 L208.60 197.90 L208.93 198.02 L209.25 198.34 L209.57 198.79 L209.90 199.30 L210.18 199.80 L210.46 200.43 L210.74 201.24 L211.02 202.25 L211.30 203.50 L211.57 205.51 L211.83 208.53 L212.10 212.00 L212.33 215.80 L212.57 220.22 L212.80 224.00 L213.13 228.53 L213.47 232.44 L213.80 234.30 L214.15 234.59 L214.50 234.70 L214.81 234.67 L215.12 234.61 L215.44 234.51 L215.75 234.40 L216.06 234.29 L216.38 234.19 L216.69 234.13 L217.00 234.10 L217.33 234.11 L217.67 234.13 L218.00 234.16 L218.33 234.21 L218.67 234.26 L219.00 234.32 L219.33 234.38 L219.67 234.44 L220.00 234.50 L220.35 234.57 L220.70 234.65 L221.05 234.73 L221.40 234.83 L221.75 234.93 L222.10 235.04 L222.45 235.16 L222.80 235.28 L223.15 235.41 L223.50 235.54 L223.85 235.67 L224.20 235.81 L224.55 235.95 L224.90 236.09 L225.25 236.23 L225.60 236.37 L225.95 236.50 L226.30 236.64 L226.65 236.77 L227.00 236.90 L227.34 237.03 L227.69 237.16 L228.03 237.29 L228.38 237.43 L228.72 237.57 L229.06 237.71 L229.41 237.85 L229.75 238.00 L230.09 238.14 L230.44 238.29 L230.78 238.44 L231.12 238.59 L231.47 238.74 L231.81 238.89 L232.16 239.04 L232.50 239.19 L232.84 239.33 L233.19 239.48 L233.53 239.62 L233.88 239.76 L234.22 239.90 L234.56 240.04 L234.91 240.18 L235.25 240.31 L235.59 240.43 L235.94 240.56 L236.28 240.68 L236.62 240.79 L236.97 240.90 L237.31 241.01 L237.66 241.11 L238.00 241.20 L238.34 241.29 L238.69 241.38 L239.03 241.47 L239.38 241.55 L239.72 241.64 L240.06 241.72 L240.41 241.80 L240.75 241.88 L241.09 241.96 L241.44 242.04 L241.78 242.11 L242.12 242.19 L242.47 242.26 L242.81 242.33 L243.16 242.40 L243.50 242.47 L243.84 242.54 L244.19 242.60 L244.53 242.67 L244.88 242.73 L245.22 242.79 L245.56 242.86 L245.91 242.92 L246.25 242.97 L246.59 243.03 L246.94 243.09 L247.28 243.14 L247.62 243.20 L247.97 243.25 L248.31 243.30 L248.66 243.35 L249.00 243.40 L249.35 243.45 L249.70 243.50 L250.04 243.55 L250.39 243.59 L250.74 243.64 L251.09 243.69 L251.43 243.73 L251.78 243.78 L252.13 243.82 L252.48 243.87 L252.83 243.91 L253.17 243.96 L253.52 244.00 L253.87 244.04 L254.22 244.09 L254.57 244.13 L254.91 244.17 L255.26 244.21 L255.61 244.25 L255.96 244.29 L256.30 244.33 L256.65 244.37 L257.00 244.40 L257.35 244.44 L257.70 244.48 L258.04 244.51 L258.39 244.55 L258.74 244.58 L259.09 244.62 L259.43 244.65 L259.78 244.68 L260.13 244.72 L260.48 244.75 L260.83 244.78 L261.17 244.81 L261.52 244.84 L261.87 244.87 L262.22 244.90 L262.57 244.93 L262.91 244.95 L263.26 244.98 L263.61 245.00 L263.96 245.03 L264.30 245.05 L264.65 245.08 L265.00 245.10 L265.35 245.12 L265.70 245.14 L266.05 245.17 L266.40 245.19 L266.74 245.21 L267.09 245.23 L267.44 245.26 L267.79 245.28 L268.14 245.30 L268.49 245.32 L268.84 245.34 L269.19 245.36 L269.53 245.38 L269.88 245.40 L270.23 245.42 L270.58 245.44 L270.93 245.46 L271.28 245.48 L271.63 245.50 L271.98 245.52 L272.33 245.54 L272.67 245.56 L273.02 245.57 L273.37 245.59 L273.72 245.61 L274.07 245.62 L274.42 245.64 L274.77 245.65 L275.12 245.67 L275.47 245.68 L275.81 245.69 L276.16 245.71 L276.51 245.72 L276.86 245.73 L277.21 245.74 L277.56 245.75 L277.91 245.76 L278.26 245.77 L278.60 245.78 L278.95 245.78 L279.30 245.79 L279.65 245.80 L280.00 245.80 L280.35 245.80 L280.69 245.81 L281.04 245.81 L281.39 245.82 L281.73 245.82 L282.08 245.83 L282.43 245.83 L282.77 245.83 L283.12 245.84 L283.47 245.84 L283.81 245.85 L284.16 245.85 L284.50 245.85 L284.85 245.86 L285.20 245.86 L285.54 245.87 L285.89 245.87 L286.24 245.87 L286.58 245.88 L286.93 245.88 L287.28 245.88 L287.62 245.89 L287.97 245.89 L288.32 245.89 L288.66 245.90 L289.01 245.90 L289.36 245.90 L289.70 245.91 L290.05 245.91 L290.40 245.91 L290.74 245.92 L291.09 245.92 L291.43 245.92 L291.78 245.92 L292.13 245.93 L292.47 245.93 L292.82 245.93 L293.17 245.94 L293.51 245.94 L293.86 245.94 L294.21 245.94 L294.55 245.95 L294.90 245.95 L295.25 245.95 L295.59 245.95 L295.94 245.95 L296.29 245.96 L296.63 245.96 L296.98 245.96 L297.33 245.96 L297.67 245.97 L298.02 245.97 L298.37 245.97 L298.71 245.97 L299.06 245.97 L299.40 245.97 L299.75 245.98 L300.10 245.98 L300.44 245.98 L300.79 245.98 L301.14 245.98 L301.48 245.98 L301.83 245.98 L302.18 245.99 L302.52 245.99 L302.87 245.99 L303.22 245.99 L303.56 245.99 L303.91 245.99 L304.26 245.99 L304.60 245.99 L304.95 245.99 L305.30 246.00 L305.64 246.00 L305.99 246.00 L306.33 246.00 L306.68 246.00 L307.03 246.00 L307.37 246.00 L307.72 246.00 L308.07 246.00 L308.41 246.00 L308.76 246.00 L309.11 246.00 L309.45 246.00 L309.80 246.00" fill="none" stroke="#7434a4" stroke-width="1.25" stroke-linejoin="round" stroke-linecap="round" clip-path="url(#c02)"/>
<path d="M110.00 245.90 L110.35 245.85 L110.69 245.79 L111.04 245.74 L111.38 245.69 L111.73 245.64 L112.07 245.58 L112.42 245.53 L112.76 245.48 L113.11 245.43 L113.45 245.38 L113.80 245.33 L114.15 245.28 L114.49 245.23 L114.84 245.18 L115.18 245.13 L115.53 245.08 L115.87 245.03 L116.22 244.99 L116.56 244.94 L116.91 244.89 L117.25 244.85 L117.60 244.80 L117.95 244.75 L118.29 244.71 L118.64 244.66 L118.99 244.62 L119.34 244.58 L119.68 244.53 L120.03 244.49 L120.38 244.45 L120.72 244.41 L121.07 244.37 L121.42 244.32 L121.77 244.28 L122.11 244.24 L122.46 244.20 L122.81 244.16 L123.16 244.12 L123.50 244.08 L123.85 244.04 L124.20 244.00 L124.54 243.96 L124.89 243.92 L125.24 243.88 L125.59 243.84 L125.93 243.80 L126.28 243.76 L126.63 243.72 L126.97 243.68 L127.32 243.64 L127.67 243.60 L128.02 243.56 L128.36 243.51 L128.71 243.47 L129.06 243.43 L129.41 243.39 L129.75 243.34 L130.10 243.30 L130.45 243.26 L130.80 243.21 L131.15 243.17 L131.50 243.12 L131.85 243.08 L132.20 243.03 L132.55 242.99 L132.90 242.94 L133.25 242.90 L133.60 242.85 L133.95 242.81 L134.30 242.76 L134.65 242.72 L135.00 242.67 L135.35 242.62 L135.70 242.58 L136.05 242.53 L136.40 242.49 L136.75 242.44 L137.10 242.39 L137.45 242.34 L137.80 242.30 L138.15 242.25 L138.50 242.20 L138.85 242.15 L139.20 242.10 L139.55 242.06 L139.90 242.01 L140.25 241.96 L140.60 241.91 L140.95 241.86 L141.30 241.81 L141.65 241.76 L142.00 241.70 L142.35 241.65 L142.70 241.60 L143.05 241.55 L143.40 241.50 L143.74 241.44 L144.09 241.39 L144.44 241.34 L144.79 241.29 L145.13 241.24 L145.48 241.18 L145.83 241.13 L146.18 241.08 L146.52 241.02 L146.87 240.96 L147.22 240.91 L147.57 240.85 L147.91 240.79 L148.26 240.73 L148.61 240.67 L148.96 240.60 L149.30 240.54 L149.65 240.47 L150.00 240.40 L150.34 240.33 L150.69 240.26 L151.03 240.18 L151.37 240.11 L151.72 240.03 L152.06 239.95 L152.40 239.86 L152.75 239.78 L153.09 239.69 L153.43 239.60 L153.78 239.51 L154.12 239.42 L154.47 239.33 L154.81 239.23 L155.15 239.13 L155.50 239.04 L155.84 238.94 L156.18 238.83 L156.53 238.73 L156.87 238.62 L157.21 238.52 L157.56 238.41 L157.90 238.30 L158.24 238.19 L158.59 238.07 L158.93 237.96 L159.27 237.83 L159.62 237.71 L159.96 237.58 L160.30 237.45 L160.65 237.32 L160.99 237.19 L161.33 237.05 L161.68 236.91 L162.02 236.77 L162.37 236.63 L162.71 236.48 L163.05 236.33 L163.40 236.19 L163.74 236.04 L164.08 235.88 L164.43 235.73 L164.77 235.57 L165.11 235.42 L165.46 235.26 L165.80 235.10 L166.14 234.94 L166.49 234.78 L166.83 234.61 L167.17 234.44 L167.52 234.27 L167.86 234.10 L168.20 233.92 L168.55 233.74 L168.89 233.56 L169.23 233.38 L169.58 233.19 L169.92 233.00 L170.27 232.81 L170.61 232.62 L170.95 232.43 L171.30 232.23 L171.64 232.03 L171.98 231.83 L172.33 231.63 L172.67 231.42 L173.01 231.22 L173.36 231.01 L173.70 230.80 L174.04 230.59 L174.38 230.38 L174.72 230.16 L175.06 229.94 L175.40 229.72 L175.73 229.50 L176.07 229.27 L176.41 229.04 L176.75 228.81 L177.09 228.57 L177.43 228.33 L177.77 228.09 L178.11 227.85 L178.45 227.61 L178.79 227.36 L179.13 227.11 L179.47 226.86 L179.80 226.60 L180.14 226.35 L180.48 226.09 L180.82 225.83 L181.16 225.56 L181.50 225.30 L181.84 225.03 L182.17 224.76 L182.51 224.49 L182.85 224.21 L183.18 223.93 L183.52 223.65 L183.86 223.36 L184.19 223.07 L184.53 222.78 L184.87 222.48 L185.21 222.18 L185.54 221.88 L185.88 221.57 L186.22 221.27 L186.55 220.96 L186.89 220.65 L187.23 220.33 L187.56 220.02 L187.90 219.70 L188.24 219.37 L188.59 219.01 L188.93 218.65 L189.27 218.29 L189.61 217.94 L189.96 217.61 L190.30 217.30 L190.63 217.03 L190.96 216.78 L191.29 216.54 L191.61 216.31 L191.94 216.08 L192.27 215.85 L192.60 215.60 L192.94 215.34 L193.27 215.08 L193.61 214.82 L193.95 214.56 L194.28 214.30 L194.62 214.03 L194.95 213.76 L195.29 213.48 L195.63 213.20 L195.96 212.90 L196.30 212.60 L196.65 212.28 L196.99 211.96 L197.34 211.64 L197.69 211.32 L198.04 210.99 L198.38 210.66 L198.73 210.32 L199.08 209.98 L199.43 209.63 L199.77 209.26 L200.12 208.89 L200.47 208.51 L200.82 208.11 L201.16 207.70 L201.51 207.27 L201.86 206.83 L202.21 206.37 L202.55 205.90 L202.90 205.40 L203.23 204.90 L203.56 204.35 L203.89 203.76 L204.22 203.14 L204.55 202.49 L204.88 201.80 L205.21 201.08 L205.54 200.34 L205.87 199.58 L206.20 198.80 L206.54 197.81 L206.89 196.57 L207.23 195.24 L207.57 193.95 L207.91 192.85 L208.26 192.09 L208.60 191.80 L208.90 192.40 L209.20 193.72 L209.50 195.00 L209.77 196.08 L210.03 197.13 L210.30 197.60 L210.65 197.55 L211.00 197.50 L211.33 198.17 L211.67 199.61 L212.00 201.00 L212.30 201.99 L212.60 202.98 L212.90 203.95 L213.20 204.86 L213.50 205.65 L213.80 206.30 L214.14 206.92 L214.49 207.51 L214.83 208.05 L215.18 208.57 L215.52 209.05 L215.86 209.50 L216.21 209.93 L216.55 210.34 L216.89 210.72 L217.24 211.09 L217.58 211.45 L217.93 211.79 L218.27 212.12 L218.61 212.45 L218.96 212.78 L219.30 213.10 L219.64 213.42 L219.99 213.73 L220.33 214.02 L220.68 214.31 L221.02 214.58 L221.36 214.85 L221.71 215.12 L222.05 215.37 L222.39 215.62 L222.74 215.87 L223.08 216.11 L223.43 216.35 L223.77 216.59 L224.11 216.83 L224.46 217.06 L224.80 217.30 L225.14 217.53 L225.49 217.75 L225.83 217.97 L226.18 218.18 L226.52 218.38 L226.86 218.58 L227.21 218.77 L227.55 218.97 L227.89 219.17 L228.24 219.38 L228.58 219.59 L228.93 219.81 L229.27 220.04 L229.61 220.28 L229.96 220.53 L230.30 220.80 L230.64 221.09 L230.99 221.41 L231.33 221.76 L231.68 222.12 L232.02 222.50 L232.36 222.90 L232.71 223.31 L233.05 223.72 L233.39 224.14 L233.74 224.56 L234.08 224.97 L234.43 225.38 L234.77 225.78 L235.11 226.17 L235.46 226.55 L235.80 226.90 L236.14 227.24 L236.49 227.58 L236.83 227.92 L237.18 228.26 L237.52 228.59 L237.86 228.92 L238.21 229.25 L238.55 229.57 L238.89 229.88 L239.24 230.19 L239.58 230.50 L239.93 230.79 L240.27 231.08 L240.61 231.36 L240.96 231.64 L241.30 231.90 L241.65 232.16 L242.00 232.42 L242.35 232.67 L242.70 232.92 L243.05 233.16 L243.40 233.40 L243.75 233.64 L244.10 233.87 L244.45 234.09 L244.80 234.32 L245.15 234.54 L245.50 234.76 L245.85 234.97 L246.20 235.18 L246.55 235.39 L246.90 235.60 L247.25 235.80 L247.60 236.01 L247.95 236.21 L248.30 236.41 L248.65 236.60 L249.00 236.80 L249.34 236.99 L249.68 237.18 L250.02 237.38 L250.36 237.57 L250.70 237.76 L251.03 237.96 L251.37 238.15 L251.71 238.34 L252.05 238.53 L252.39 238.71 L252.73 238.90 L253.07 239.08 L253.41 239.25 L253.75 239.42 L254.09 239.59 L254.43 239.75 L254.77 239.91 L255.10 240.06 L255.44 240.20 L255.78 240.34 L256.12 240.47 L256.46 240.59 L256.80 240.70 L257.14 240.81 L257.48 240.91 L257.82 241.01 L258.17 241.10 L258.51 241.20 L258.85 241.29 L259.19 241.37 L259.53 241.46 L259.88 241.54 L260.22 241.62 L260.56 241.69 L260.90 241.77 L261.24 241.84 L261.58 241.92 L261.93 241.99 L262.27 242.06 L262.61 242.13 L262.95 242.19 L263.29 242.26 L263.63 242.33 L263.98 242.40 L264.32 242.46 L264.66 242.53 L265.00 242.60 L265.33 242.67 L265.67 242.73 L266.00 242.80 L266.33 242.86 L266.67 242.92 L267.00 242.99 L267.33 243.05 L267.67 243.11 L268.00 243.17 L268.33 243.23 L268.67 243.28 L269.00 243.34 L269.33 243.39 L269.67 243.45 L270.00 243.50 L270.34 243.55 L270.69 243.61 L271.03 243.66 L271.38 243.71 L271.72 243.76 L272.07 243.81 L272.41 243.86 L272.76 243.91 L273.10 243.96 L273.45 244.01 L273.79 244.06 L274.14 244.10 L274.48 244.15 L274.83 244.20 L275.17 244.24 L275.52 244.29 L275.86 244.33 L276.21 244.37 L276.55 244.42 L276.90 244.46 L277.24 244.50 L277.59 244.54 L277.93 244.58 L278.28 244.62 L278.62 244.66 L278.97 244.69 L279.31 244.73 L279.66 244.77 L280.00 244.80 L280.34 244.83 L280.69 244.87 L281.03 244.90 L281.38 244.94 L281.72 244.97 L282.07 245.01 L282.41 245.04 L282.76 245.07 L283.10 245.11 L283.45 245.14 L283.79 245.17 L284.14 245.20 L284.48 245.24 L284.83 245.27 L285.17 245.30 L285.52 245.32 L285.86 245.35 L286.21 245.38 L286.55 245.41 L286.90 245.43 L287.24 245.46 L287.59 245.48 L287.93 245.50 L288.28 245.52 L288.62 245.54 L288.97 245.56 L289.31 245.57 L289.66 245.59 L290.00 245.60 L290.35 245.61 L290.69 245.62 L291.04 245.64 L291.39 245.65 L291.74 245.66 L292.08 245.67 L292.43 245.68 L292.78 245.69 L293.13 245.70 L293.47 245.71 L293.82 245.72 L294.17 245.74 L294.52 245.75 L294.86 245.76 L295.21 245.77 L295.56 245.78 L295.91 245.79 L296.25 245.80 L296.60 245.80 L296.95 245.81 L297.29 245.82 L297.64 245.83 L297.99 245.84 L298.34 245.85 L298.68 245.86 L299.03 245.87 L299.38 245.87 L299.73 245.88 L300.07 245.89 L300.42 245.90 L300.77 245.90 L301.12 245.91 L301.46 245.92 L301.81 245.92 L302.16 245.93 L302.51 245.94 L302.85 245.94 L303.20 245.95 L303.55 245.95 L303.89 245.96 L304.24 245.96 L304.59 245.97 L304.94 245.97 L305.28 245.97 L305.63 245.98 L305.98 245.98 L306.33 245.98 L306.67 245.99 L307.02 245.99 L307.37 245.99 L307.72 245.99 L308.06 246.00 L308.41 246.00 L308.76 246.00 L309.11 246.00 L309.45 246.00 L309.80 246.00" fill="none" stroke="#000" stroke-width="1.25" stroke-linejoin="round" stroke-linecap="round" clip-path="url(#c02)"/>
<path d="M113.10 293.40 L113.44 293.35 L113.78 293.30 L114.12 293.25 L114.46 293.19 L114.80 293.14 L115.14 293.09 L115.48 293.04 L115.82 292.99 L116.16 292.94 L116.50 292.89 L116.84 292.83 L117.18 292.78 L117.52 292.73 L117.86 292.68 L118.20 292.63 L118.54 292.58 L118.88 292.53 L119.22 292.47 L119.56 292.42 L119.90 292.37 L120.24 292.32 L120.58 292.27 L120.92 292.22 L121.26 292.17 L121.60 292.11 L121.94 292.06 L122.28 292.01 L122.62 291.96 L122.96 291.91 L123.30 291.86 L123.64 291.81 L123.98 291.75 L124.32 291.70 L124.66 291.65 L125.00 291.60 L125.34 291.55 L125.68 291.49 L126.03 291.43 L126.37 291.37 L126.71 291.31 L127.05 291.24 L127.39 291.18 L127.74 291.11 L128.08 291.04 L128.42 290.97 L128.76 290.90 L129.10 290.83 L129.45 290.77 L129.79 290.70 L130.13 290.63 L130.47 290.57 L130.81 290.51 L131.15 290.44 L131.50 290.39 L131.84 290.33 L132.18 290.28 L132.52 290.23 L132.86 290.19 L133.21 290.14 L133.55 290.11 L133.89 290.08 L134.23 290.05 L134.57 290.03 L134.92 290.01 L135.26 290.00 L135.60 290.00 L135.83 290.26 L136.07 290.74 L136.30 291.00 L136.57 290.74 L136.83 290.23 L137.10 289.90 L137.45 289.78 L137.80 289.67 L138.15 289.57 L138.49 289.47 L138.84 289.38 L139.19 289.30 L139.54 289.22 L139.89 289.14 L140.24 289.08 L140.59 289.01 L140.94 288.95 L141.28 288.90 L141.63 288.85 L141.98 288.80 L142.33 288.76 L142.68 288.72 L143.03 288.68 L143.38 288.64 L143.72 288.61 L144.07 288.58 L144.42 288.55 L144.77 288.52 L145.12 288.49 L145.47 288.46 L145.82 288.43 L146.16 288.41 L146.51 288.38 L146.86 288.35 L147.21 288.32 L147.56 288.29 L147.91 288.25 L148.26 288.22 L148.61 288.18 L148.95 288.14 L149.30 288.10 L149.65 288.05 L150.00 288.00 L150.34 287.95 L150.69 287.90 L151.03 287.84 L151.38 287.79 L151.72 287.74 L152.07 287.69 L152.41 287.63 L152.76 287.58 L153.10 287.53 L153.45 287.47 L153.79 287.42 L154.14 287.36 L154.48 287.31 L154.83 287.26 L155.17 287.20 L155.52 287.15 L155.86 287.10 L156.21 287.05 L156.55 286.99 L156.90 286.94 L157.24 286.89 L157.59 286.84 L157.93 286.79 L158.28 286.74 L158.62 286.69 L158.97 286.64 L159.31 286.59 L159.66 286.55 L160.00 286.50 L160.34 286.45 L160.69 286.41 L161.03 286.37 L161.38 286.33 L161.72 286.29 L162.07 286.25 L162.41 286.22 L162.76 286.18 L163.10 286.15 L163.45 286.11 L163.79 286.08 L164.14 286.04 L164.48 286.01 L164.83 285.97 L165.17 285.94 L165.52 285.90 L165.86 285.86 L166.21 285.83 L166.55 285.79 L166.90 285.75 L167.24 285.71 L167.59 285.66 L167.93 285.62 L168.28 285.57 L168.62 285.52 L168.97 285.47 L169.31 285.42 L169.66 285.36 L170.00 285.30 L170.35 285.23 L170.69 285.16 L171.04 285.08 L171.39 284.98 L171.74 284.89 L172.08 284.78 L172.43 284.68 L172.78 284.56 L173.13 284.45 L173.47 284.33 L173.82 284.21 L174.17 284.09 L174.52 283.97 L174.86 283.85 L175.21 283.74 L175.56 283.62 L175.91 283.51 L176.25 283.40 L176.60 283.30 L176.95 283.20 L177.29 283.10 L177.64 283.01 L177.99 282.91 L178.34 282.81 L178.68 282.72 L179.03 282.62 L179.38 282.53 L179.73 282.43 L180.07 282.34 L180.42 282.25 L180.77 282.16 L181.12 282.06 L181.46 281.97 L181.81 281.88 L182.16 281.78 L182.51 281.69 L182.85 281.59 L183.20 281.50 L183.55 281.41 L183.89 281.31 L184.24 281.22 L184.59 281.13 L184.94 281.03 L185.28 280.94 L185.63 280.85 L185.98 280.76 L186.33 280.66 L186.67 280.57 L187.02 280.48 L187.37 280.38 L187.72 280.29 L188.06 280.19 L188.41 280.10 L188.76 280.00 L189.11 279.90 L189.45 279.80 L189.80 279.70 L190.15 279.60 L190.49 279.49 L190.84 279.39 L191.19 279.28 L191.54 279.18 L191.88 279.07 L192.23 278.96 L192.58 278.85 L192.93 278.74 L193.27 278.63 L193.62 278.51 L193.97 278.40 L194.32 278.29 L194.66 278.17 L195.01 278.06 L195.36 277.95 L195.71 277.83 L196.05 277.72 L196.40 277.60 L196.75 277.48 L197.09 277.36 L197.44 277.22 L197.79 277.09 L198.13 276.95 L198.48 276.82 L198.83 276.68 L199.17 276.55 L199.52 276.42 L199.87 276.29 L200.21 276.17 L200.56 276.06 L200.91 275.96 L201.25 275.88 L201.60 275.80 L201.94 275.73 L202.28 275.66 L202.61 275.59 L202.95 275.53 L203.29 275.48 L203.62 275.44 L203.96 275.41 L204.30 275.40 L204.62 275.44 L204.94 275.57 L205.26 275.74 L205.58 275.96 L205.90 276.20 L206.24 276.53 L206.58 277.00 L206.92 277.57 L207.26 278.22 L207.60 278.90 L207.93 279.55 L208.25 280.28 L208.57 281.22 L208.90 282.50 L209.10 283.77 L209.30 286.00 L209.60 296.00 L209.90 312.50 L210.25 321.14 L210.60 326.80 L210.83 330.06 L211.07 332.81 L211.30 334.80 L211.65 336.81 L212.00 338.00 L212.30 338.49 L212.60 338.70 L212.83 338.41 L213.07 337.74 L213.30 337.00 L213.60 335.98 L213.90 334.78 L214.20 333.56 L214.50 332.50 L214.84 331.48 L215.19 330.52 L215.53 329.61 L215.87 328.76 L216.21 327.96 L216.56 327.21 L216.90 326.50 L217.23 325.86 L217.55 325.25 L217.88 324.67 L218.21 324.11 L218.54 323.57 L218.86 323.05 L219.19 322.54 L219.52 322.05 L219.85 321.56 L220.17 321.08 L220.50 320.60 L220.83 320.12 L221.15 319.64 L221.48 319.17 L221.81 318.70 L222.14 318.24 L222.46 317.80 L222.79 317.36 L223.12 316.94 L223.45 316.54 L223.77 316.16 L224.10 315.80 L224.44 315.44 L224.79 315.09 L225.13 314.76 L225.47 314.43 L225.81 314.12 L226.16 313.81 L226.50 313.51 L226.84 313.22 L227.19 312.94 L227.53 312.66 L227.87 312.39 L228.21 312.12 L228.56 311.86 L228.90 311.60 L229.25 311.34 L229.59 311.08 L229.94 310.82 L230.29 310.57 L230.64 310.32 L230.98 310.07 L231.33 309.83 L231.68 309.60 L232.02 309.36 L232.37 309.13 L232.72 308.91 L233.06 308.69 L233.41 308.48 L233.76 308.28 L234.11 308.08 L234.45 307.89 L234.80 307.70 L235.13 307.53 L235.47 307.36 L235.80 307.19 L236.13 307.03 L236.47 306.88 L236.80 306.72 L237.13 306.57 L237.47 306.42 L237.80 306.28 L238.13 306.14 L238.47 306.00 L238.80 305.86 L239.13 305.73 L239.47 305.60 L239.80 305.47 L240.13 305.35 L240.47 305.22 L240.80 305.10 L241.15 304.97 L241.50 304.85 L241.85 304.72 L242.20 304.60 L242.55 304.48 L242.90 304.36 L243.25 304.24 L243.60 304.12 L243.95 304.00 L244.30 303.89 L244.65 303.77 L245.00 303.66 L245.35 303.55 L245.70 303.44 L246.05 303.33 L246.40 303.22 L246.75 303.11 L247.10 303.01 L247.45 302.90 L247.80 302.80 L248.15 302.70 L248.50 302.60 L248.85 302.50 L249.20 302.40 L249.55 302.30 L249.90 302.21 L250.25 302.12 L250.60 302.02 L250.95 301.93 L251.30 301.84 L251.65 301.76 L252.00 301.67 L252.35 301.58 L252.70 301.50 L253.04 301.42 L253.38 301.34 L253.72 301.26 L254.07 301.18 L254.41 301.11 L254.75 301.03 L255.09 300.96 L255.43 300.89 L255.77 300.81 L256.12 300.74 L256.46 300.67 L256.80 300.60 L257.14 300.53 L257.48 300.47 L257.82 300.40 L258.17 300.33 L258.51 300.27 L258.85 300.20 L259.19 300.14 L259.53 300.07 L259.88 300.01 L260.22 299.94 L260.56 299.88 L260.90 299.82 L261.24 299.76 L261.58 299.70 L261.93 299.64 L262.27 299.58 L262.61 299.52 L262.95 299.46 L263.29 299.40 L263.63 299.34 L263.98 299.28 L264.32 299.22 L264.66 299.16 L265.00 299.10 L265.35 299.04 L265.70 298.98 L266.05 298.92 L266.40 298.87 L266.75 298.81 L267.10 298.76 L267.45 298.70 L267.80 298.65 L268.15 298.59 L268.50 298.54 L268.85 298.49 L269.20 298.44 L269.55 298.38 L269.90 298.33 L270.25 298.28 L270.60 298.22 L270.95 298.17 L271.30 298.11 L271.65 298.06 L272.00 298.00 L272.34 297.94 L272.68 297.89 L273.01 297.83 L273.35 297.78 L273.69 297.72 L274.03 297.67 L274.37 297.61 L274.70 297.55 L275.04 297.50 L275.38 297.44 L275.72 297.38 L276.06 297.32 L276.40 297.27 L276.73 297.21 L277.07 297.15 L277.41 297.09 L277.75 297.03 L278.09 296.98 L278.42 296.92 L278.76 296.86 L279.10 296.80 L279.44 296.74 L279.78 296.68 L280.12 296.62 L280.46 296.56 L280.80 296.50 L281.14 296.44 L281.48 296.38 L281.81 296.31 L282.15 296.25 L282.49 296.19 L282.83 296.13 L283.17 296.06 L283.51 296.00 L283.85 295.94 L284.19 295.88 L284.53 295.81 L284.87 295.75 L285.21 295.69 L285.55 295.63 L285.89 295.57 L286.23 295.51 L286.56 295.45 L286.90 295.39 L287.24 295.33 L287.58 295.27 L287.92 295.21 L288.26 295.16 L288.60 295.10 L288.95 295.04 L289.29 294.99 L289.64 294.93 L289.98 294.88 L290.33 294.82 L290.67 294.77 L291.02 294.71 L291.36 294.66 L291.71 294.60 L292.05 294.55 L292.40 294.50 L292.74 294.44 L293.09 294.39 L293.43 294.34 L293.78 294.29 L294.12 294.24 L294.47 294.18 L294.81 294.13 L295.16 294.08 L295.50 294.03 L295.85 293.98 L296.19 293.93 L296.54 293.88 L296.88 293.83 L297.23 293.78 L297.57 293.74 L297.92 293.69 L298.26 293.64 L298.61 293.59 L298.95 293.55 L299.30 293.50" fill="none" stroke="#7434a4" stroke-width="1.25" stroke-linejoin="round" stroke-linecap="round" clip-path="url(#c03)"/>
<path d="M113.10 335.90 L113.45 335.89 L113.80 335.89 L114.15 335.88 L114.50 335.87 L114.85 335.87 L115.19 335.86 L115.54 335.85 L115.89 335.84 L116.24 335.83 L116.59 335.82 L116.94 335.81 L117.29 335.80 L117.64 335.79 L117.99 335.78 L118.34 335.77 L118.68 335.76 L119.03 335.74 L119.38 335.73 L119.73 335.72 L120.08 335.71 L120.43 335.69 L120.78 335.68 L121.13 335.67 L121.48 335.65 L121.83 335.64 L122.17 335.62 L122.52 335.61 L122.87 335.59 L123.22 335.58 L123.57 335.56 L123.92 335.55 L124.27 335.53 L124.62 335.52 L124.97 335.50 L125.32 335.48 L125.66 335.47 L126.01 335.45 L126.36 335.43 L126.71 335.42 L127.06 335.40 L127.41 335.38 L127.76 335.36 L128.11 335.35 L128.46 335.33 L128.81 335.31 L129.15 335.29 L129.50 335.27 L129.85 335.26 L130.20 335.24 L130.55 335.22 L130.90 335.20 L131.25 335.18 L131.60 335.16 L131.94 335.14 L132.29 335.12 L132.64 335.10 L132.99 335.08 L133.34 335.06 L133.69 335.03 L134.03 335.01 L134.38 334.99 L134.73 334.96 L135.08 334.94 L135.43 334.91 L135.77 334.89 L136.12 334.86 L136.47 334.83 L136.82 334.81 L137.17 334.78 L137.51 334.75 L137.86 334.72 L138.21 334.70 L138.56 334.67 L138.91 334.64 L139.26 334.61 L139.60 334.58 L139.95 334.55 L140.30 334.52 L140.65 334.49 L141.00 334.46 L141.34 334.42 L141.69 334.39 L142.04 334.36 L142.39 334.33 L142.74 334.29 L143.09 334.26 L143.43 334.23 L143.78 334.20 L144.13 334.16 L144.48 334.13 L144.83 334.09 L145.17 334.06 L145.52 334.03 L145.87 333.99 L146.22 333.96 L146.57 333.92 L146.91 333.89 L147.26 333.85 L147.61 333.81 L147.96 333.78 L148.31 333.74 L148.66 333.71 L149.00 333.67 L149.35 333.64 L149.70 333.60 L150.04 333.56 L150.39 333.53 L150.73 333.49 L151.07 333.45 L151.42 333.41 L151.76 333.37 L152.10 333.34 L152.45 333.29 L152.79 333.25 L153.13 333.21 L153.48 333.17 L153.82 333.13 L154.16 333.09 L154.51 333.04 L154.85 333.00 L155.19 332.95 L155.54 332.91 L155.88 332.86 L156.22 332.82 L156.57 332.77 L156.91 332.73 L157.25 332.68 L157.60 332.63 L157.94 332.59 L158.28 332.54 L158.63 332.49 L158.97 332.44 L159.31 332.40 L159.66 332.35 L160.00 332.30 L160.34 332.25 L160.69 332.20 L161.03 332.15 L161.38 332.10 L161.72 332.06 L162.07 332.01 L162.41 331.96 L162.76 331.91 L163.10 331.85 L163.45 331.80 L163.79 331.75 L164.14 331.70 L164.48 331.65 L164.83 331.59 L165.17 331.54 L165.52 331.49 L165.86 331.43 L166.21 331.38 L166.55 331.32 L166.90 331.26 L167.24 331.20 L167.59 331.14 L167.93 331.08 L168.28 331.02 L168.62 330.96 L168.97 330.90 L169.31 330.83 L169.66 330.77 L170.00 330.70 L170.35 330.63 L170.69 330.56 L171.04 330.48 L171.39 330.41 L171.74 330.33 L172.08 330.25 L172.43 330.16 L172.78 330.08 L173.13 329.99 L173.47 329.91 L173.82 329.82 L174.17 329.73 L174.52 329.64 L174.86 329.55 L175.21 329.46 L175.56 329.37 L175.91 329.28 L176.25 329.19 L176.60 329.10 L176.95 329.01 L177.29 328.92 L177.64 328.83 L177.99 328.74 L178.34 328.65 L178.68 328.56 L179.03 328.47 L179.38 328.38 L179.73 328.28 L180.07 328.19 L180.42 328.09 L180.77 328.00 L181.12 327.90 L181.46 327.80 L181.81 327.71 L182.16 327.61 L182.51 327.51 L182.85 327.40 L183.20 327.30 L183.55 327.20 L183.89 327.09 L184.24 326.99 L184.59 326.88 L184.94 326.77 L185.28 326.67 L185.63 326.56 L185.98 326.45 L186.33 326.34 L186.67 326.23 L187.02 326.11 L187.37 325.99 L187.72 325.87 L188.06 325.75 L188.41 325.63 L188.76 325.50 L189.11 325.37 L189.45 325.24 L189.80 325.10 L190.15 324.96 L190.49 324.82 L190.84 324.67 L191.19 324.52 L191.54 324.37 L191.88 324.21 L192.23 324.05 L192.58 323.89 L192.93 323.72 L193.27 323.55 L193.62 323.38 L193.97 323.20 L194.32 323.01 L194.66 322.82 L195.01 322.63 L195.36 322.43 L195.71 322.23 L196.05 322.02 L196.40 321.80 L196.75 321.58 L197.09 321.34 L197.44 321.10 L197.79 320.84 L198.13 320.57 L198.48 320.30 L198.83 320.02 L199.17 319.72 L199.52 319.42 L199.87 319.12 L200.21 318.81 L200.56 318.49 L200.91 318.16 L201.25 317.83 L201.60 317.50 L201.93 317.15 L202.27 316.76 L202.60 316.34 L202.93 315.89 L203.27 315.43 L203.60 314.98 L203.93 314.54 L204.27 314.12 L204.60 313.73 L204.93 313.40 L205.27 313.11 L205.60 312.90 L205.92 312.73 L206.24 312.57 L206.56 312.43 L206.88 312.34 L207.20 312.30 L207.48 312.42 L207.76 312.77 L208.04 313.31 L208.32 314.03 L208.60 314.90 L208.90 317.86 L209.20 322.31 L209.50 324.60 L209.77 323.20 L210.03 320.33 L210.30 318.00 L210.62 316.34 L210.94 314.79 L211.26 313.51 L211.58 312.63 L211.90 312.30 L212.18 312.32 L212.45 312.36 L212.72 312.42 L213.00 312.50 L213.33 312.67 L213.66 312.96 L213.99 313.36 L214.32 313.84 L214.65 314.37 L214.98 314.93 L215.31 315.49 L215.64 316.02 L215.97 316.50 L216.30 316.90 L216.64 317.26 L216.98 317.61 L217.32 317.95 L217.65 318.28 L217.99 318.59 L218.33 318.90 L218.67 319.20 L219.01 319.49 L219.35 319.77 L219.68 320.05 L220.02 320.31 L220.36 320.56 L220.70 320.80 L221.03 321.03 L221.36 321.25 L221.69 321.46 L222.02 321.66 L222.35 321.85 L222.68 322.04 L223.02 322.23 L223.35 322.41 L223.68 322.59 L224.01 322.77 L224.34 322.95 L224.67 323.12 L225.00 323.30 L225.33 323.48 L225.66 323.65 L225.99 323.83 L226.31 324.00 L226.64 324.18 L226.97 324.35 L227.30 324.52 L227.63 324.68 L227.96 324.84 L228.29 325.00 L228.61 325.16 L228.94 325.31 L229.27 325.46 L229.60 325.60 L229.93 325.74 L230.26 325.87 L230.59 326.00 L230.91 326.13 L231.24 326.26 L231.57 326.38 L231.90 326.50 L232.23 326.62 L232.56 326.74 L232.89 326.85 L233.21 326.97 L233.54 327.08 L233.87 327.19 L234.20 327.30 L234.54 327.41 L234.87 327.52 L235.21 327.63 L235.55 327.74 L235.89 327.85 L236.22 327.96 L236.56 328.07 L236.90 328.18 L237.23 328.28 L237.57 328.39 L237.91 328.49 L238.24 328.60 L238.58 328.70 L238.92 328.80 L239.26 328.90 L239.59 329.00 L239.93 329.10 L240.27 329.20 L240.60 329.29 L240.94 329.39 L241.28 329.48 L241.61 329.57 L241.95 329.66 L242.29 329.75 L242.63 329.83 L242.96 329.92 L243.30 330.00 L243.64 330.08 L243.98 330.17 L244.32 330.25 L244.66 330.33 L245.00 330.41 L245.34 330.49 L245.69 330.57 L246.03 330.65 L246.37 330.73 L246.71 330.81 L247.05 330.88 L247.39 330.96 L247.73 331.03 L248.07 331.11 L248.41 331.18 L248.75 331.25 L249.09 331.32 L249.43 331.38 L249.77 331.45 L250.11 331.51 L250.46 331.57 L250.80 331.63 L251.14 331.69 L251.48 331.75 L251.82 331.80 L252.16 331.85 L252.50 331.90 L252.84 331.95 L253.18 331.99 L253.52 332.03 L253.86 332.07 L254.20 332.11 L254.55 332.15 L254.89 332.19 L255.23 332.22 L255.57 332.26 L255.91 332.29 L256.25 332.33 L256.59 332.36 L256.93 332.39 L257.27 332.42 L257.61 332.46 L257.95 332.49 L258.30 332.52 L258.64 332.56 L258.98 332.59 L259.32 332.63 L259.66 332.66 L260.00 332.70 L260.34 332.74 L260.68 332.78 L261.02 332.82 L261.36 332.85 L261.70 332.89 L262.04 332.93 L262.38 332.97 L262.71 333.01 L263.05 333.05 L263.39 333.10 L263.73 333.14 L264.07 333.18 L264.41 333.22 L264.75 333.26 L265.09 333.30 L265.43 333.34 L265.77 333.38 L266.11 333.42 L266.45 333.46 L266.79 333.50 L267.12 333.54 L267.46 333.58 L267.80 333.62 L268.14 333.65 L268.48 333.69 L268.82 333.73 L269.16 333.76 L269.50 333.80 L269.84 333.84 L270.19 333.87 L270.53 333.91 L270.87 333.94 L271.21 333.98 L271.56 334.01 L271.90 334.05 L272.24 334.09 L272.59 334.12 L272.93 334.16 L273.27 334.19 L273.61 334.23 L273.96 334.26 L274.30 334.29 L274.64 334.33 L274.99 334.36 L275.33 334.39 L275.67 334.42 L276.01 334.45 L276.36 334.49 L276.70 334.52 L277.04 334.54 L277.39 334.57 L277.73 334.60 L278.07 334.63 L278.41 334.65 L278.76 334.68 L279.10 334.70 L279.44 334.72 L279.78 334.75 L280.12 334.77 L280.46 334.79 L280.80 334.81 L281.14 334.83 L281.48 334.85 L281.81 334.87 L282.15 334.89 L282.49 334.91 L282.83 334.93 L283.17 334.95 L283.51 334.97 L283.85 334.99 L284.19 335.00 L284.53 335.02 L284.87 335.04 L285.21 335.06 L285.55 335.07 L285.89 335.09 L286.23 335.10 L286.56 335.12 L286.90 335.13 L287.24 335.15 L287.58 335.16 L287.92 335.17 L288.26 335.19 L288.60 335.20 L288.94 335.21 L289.29 335.22 L289.63 335.24 L289.98 335.25 L290.32 335.26 L290.66 335.27 L291.01 335.28 L291.35 335.30 L291.69 335.31 L292.04 335.32 L292.38 335.33 L292.73 335.34 L293.07 335.35 L293.41 335.36 L293.76 335.37 L294.10 335.38 L294.44 335.39 L294.79 335.40 L295.13 335.41 L295.48 335.42 L295.82 335.43 L296.16 335.43 L296.51 335.44 L296.85 335.45 L297.19 335.46 L297.54 335.47 L297.88 335.47 L298.23 335.48 L298.57 335.48 L298.91 335.49 L299.26 335.50 L299.60 335.50" fill="none" stroke="#00893c" stroke-width="1.25" stroke-linejoin="round" stroke-linecap="round" clip-path="url(#c03)"/>
<path d="M112.80 376.00 L113.15 376.00 L113.49 376.00 L113.84 376.01 L114.19 376.01 L114.53 376.02 L114.88 376.02 L115.23 376.03 L115.57 376.04 L115.92 376.05 L116.27 376.06 L116.61 376.07 L116.96 376.08 L117.30 376.10 L117.65 376.11 L118.00 376.13 L118.34 376.14 L118.69 376.16 L119.04 376.18 L119.38 376.20 L119.73 376.22 L120.08 376.24 L120.42 376.26 L120.77 376.28 L121.12 376.30 L121.46 376.32 L121.81 376.35 L122.16 376.37 L122.50 376.39 L122.85 376.42 L123.20 376.44 L123.54 376.47 L123.89 376.50 L124.23 376.52 L124.58 376.55 L124.93 376.58 L125.27 376.60 L125.62 376.63 L125.97 376.66 L126.31 376.69 L126.66 376.71 L127.01 376.74 L127.35 376.77 L127.70 376.80 L128.04 376.83 L128.39 376.86 L128.73 376.90 L129.08 376.94 L129.42 376.98 L129.76 377.02 L130.11 377.07 L130.45 377.12 L130.80 377.17 L131.14 377.22 L131.48 377.28 L131.83 377.33 L132.17 377.39 L132.52 377.45 L132.86 377.51 L133.20 377.56 L133.55 377.62 L133.89 377.68 L134.24 377.74 L134.58 377.80 L134.92 377.86 L135.27 377.92 L135.61 377.98 L135.96 378.04 L136.30 378.10 L136.64 378.16 L136.98 378.21 L137.31 378.27 L137.65 378.33 L137.99 378.39 L138.33 378.45 L138.67 378.51 L139.00 378.57 L139.34 378.63 L139.68 378.69 L140.02 378.75 L140.36 378.81 L140.70 378.87 L141.03 378.94 L141.37 379.00 L141.71 379.07 L142.05 379.13 L142.39 379.20 L142.72 379.26 L143.06 379.33 L143.40 379.40 L143.75 379.47 L144.10 379.54 L144.45 379.61 L144.80 379.69 L145.14 379.76 L145.49 379.83 L145.84 379.91 L146.19 379.98 L146.54 380.06 L146.89 380.13 L147.24 380.21 L147.59 380.28 L147.94 380.36 L148.28 380.44 L148.63 380.51 L148.98 380.59 L149.33 380.67 L149.68 380.75 L150.03 380.83 L150.38 380.91 L150.73 380.99 L151.08 381.07 L151.42 381.15 L151.77 381.24 L152.12 381.32 L152.47 381.40 L152.82 381.49 L153.17 381.57 L153.52 381.66 L153.87 381.74 L154.22 381.83 L154.56 381.91 L154.91 382.00 L155.26 382.09 L155.61 382.18 L155.96 382.27 L156.31 382.36 L156.66 382.45 L157.01 382.54 L157.36 382.63 L157.70 382.72 L158.05 382.82 L158.40 382.91 L158.75 383.01 L159.10 383.10 L159.45 383.20 L159.80 383.29 L160.15 383.39 L160.50 383.49 L160.84 383.59 L161.19 383.69 L161.54 383.80 L161.89 383.90 L162.24 384.01 L162.59 384.11 L162.94 384.22 L163.29 384.33 L163.64 384.44 L163.98 384.55 L164.33 384.66 L164.68 384.77 L165.03 384.88 L165.38 384.99 L165.73 385.11 L166.08 385.22 L166.43 385.33 L166.78 385.45 L167.12 385.57 L167.47 385.68 L167.82 385.80 L168.17 385.92 L168.52 386.03 L168.87 386.15 L169.22 386.27 L169.57 386.39 L169.92 386.51 L170.26 386.63 L170.61 386.75 L170.96 386.87 L171.31 386.99 L171.66 387.11 L172.01 387.23 L172.36 387.35 L172.71 387.47 L173.06 387.60 L173.40 387.72 L173.75 387.84 L174.10 387.96 L174.45 388.08 L174.80 388.20 L175.15 388.32 L175.50 388.44 L175.85 388.56 L176.20 388.68 L176.54 388.80 L176.89 388.92 L177.24 389.04 L177.59 389.16 L177.94 389.28 L178.29 389.40 L178.64 389.52 L178.99 389.64 L179.34 389.76 L179.68 389.88 L180.03 390.00 L180.38 390.12 L180.73 390.25 L181.08 390.37 L181.43 390.49 L181.78 390.61 L182.13 390.74 L182.48 390.86 L182.82 390.99 L183.17 391.11 L183.52 391.24 L183.87 391.37 L184.22 391.50 L184.57 391.63 L184.92 391.76 L185.27 391.89 L185.62 392.02 L185.96 392.15 L186.31 392.29 L186.66 392.42 L187.01 392.56 L187.36 392.70 L187.71 392.84 L188.06 392.98 L188.41 393.12 L188.76 393.26 L189.10 393.41 L189.45 393.55 L189.80 393.70 L190.15 393.85 L190.50 394.00 L190.85 394.15 L191.20 394.31 L191.54 394.46 L191.89 394.62 L192.24 394.78 L192.59 394.94 L192.94 395.11 L193.29 395.27 L193.63 395.44 L193.98 395.61 L194.33 395.78 L194.68 395.96 L195.03 396.13 L195.37 396.31 L195.72 396.49 L196.07 396.67 L196.42 396.86 L196.77 397.04 L197.11 397.23 L197.46 397.42 L197.81 397.61 L198.16 397.80 L198.51 398.00 L198.86 398.20 L199.20 398.40 L199.55 398.60 L199.90 398.80 L200.24 399.00 L200.58 399.21 L200.92 399.43 L201.26 399.65 L201.60 399.88 L201.94 400.11 L202.28 400.34 L202.62 400.57 L202.96 400.81 L203.30 401.04 L203.64 401.28 L203.98 401.51 L204.32 401.75 L204.66 401.97 L205.00 402.20 L205.33 402.45 L205.67 402.73 L206.00 403.01 L206.33 403.26 L206.67 403.43 L207.00 403.50 L207.33 403.29 L207.67 402.74 L208.00 402.00 L208.27 401.01 L208.53 399.56 L208.80 398.00 L209.07 396.26 L209.33 394.39 L209.60 393.00 L209.85 392.13 L210.10 391.70 L210.35 392.50 L210.60 394.00 L210.83 395.56 L211.07 397.38 L211.30 399.00 L211.60 400.96 L211.90 402.73 L212.20 403.50 L212.47 403.43 L212.75 403.25 L213.03 403.02 L213.30 402.80 L213.64 402.55 L213.98 402.29 L214.31 402.01 L214.65 401.73 L214.99 401.44 L215.32 401.15 L215.66 400.87 L216.00 400.60 L216.34 400.33 L216.68 400.07 L217.02 399.80 L217.35 399.54 L217.69 399.28 L218.03 399.02 L218.37 398.76 L218.71 398.50 L219.05 398.25 L219.38 398.01 L219.72 397.76 L220.06 397.53 L220.40 397.30 L220.75 397.07 L221.09 396.84 L221.44 396.62 L221.78 396.40 L222.13 396.18 L222.48 395.97 L222.82 395.76 L223.17 395.55 L223.52 395.35 L223.86 395.16 L224.21 394.97 L224.55 394.78 L224.90 394.60 L225.24 394.43 L225.58 394.26 L225.92 394.09 L226.26 393.93 L226.60 393.77 L226.95 393.61 L227.29 393.46 L227.63 393.31 L227.97 393.16 L228.31 393.01 L228.65 392.86 L228.99 392.72 L229.33 392.58 L229.67 392.43 L230.01 392.29 L230.35 392.15 L230.70 392.01 L231.04 391.87 L231.38 391.73 L231.72 391.59 L232.06 391.44 L232.40 391.30 L232.74 391.16 L233.07 391.02 L233.41 390.87 L233.75 390.73 L234.08 390.59 L234.42 390.45 L234.75 390.30 L235.09 390.16 L235.43 390.02 L235.76 389.88 L236.10 389.74 L236.44 389.60 L236.77 389.47 L237.11 389.33 L237.45 389.20 L237.78 389.06 L238.12 388.93 L238.45 388.80 L238.79 388.67 L239.13 388.55 L239.46 388.42 L239.80 388.30 L240.15 388.18 L240.49 388.05 L240.84 387.93 L241.19 387.81 L241.53 387.69 L241.88 387.57 L242.23 387.45 L242.57 387.33 L242.92 387.21 L243.27 387.10 L243.61 386.98 L243.96 386.86 L244.30 386.75 L244.65 386.64 L245.00 386.52 L245.34 386.41 L245.69 386.30 L246.04 386.19 L246.38 386.08 L246.73 385.97 L247.08 385.86 L247.42 385.75 L247.77 385.64 L248.12 385.53 L248.46 385.43 L248.81 385.32 L249.16 385.22 L249.50 385.11 L249.85 385.01 L250.20 384.90 L250.54 384.80 L250.89 384.70 L251.23 384.60 L251.58 384.49 L251.93 384.39 L252.27 384.29 L252.62 384.19 L252.97 384.09 L253.31 383.99 L253.66 383.89 L254.01 383.80 L254.35 383.70 L254.70 383.60 L255.05 383.50 L255.40 383.40 L255.75 383.31 L256.10 383.21 L256.44 383.11 L256.79 383.01 L257.14 382.91 L257.49 382.81 L257.84 382.72 L258.19 382.62 L258.54 382.52 L258.89 382.42 L259.23 382.33 L259.58 382.23 L259.93 382.13 L260.28 382.04 L260.63 381.94 L260.98 381.85 L261.33 381.75 L261.68 381.66 L262.03 381.57 L262.37 381.48 L262.72 381.39 L263.07 381.30 L263.42 381.21 L263.77 381.12 L264.12 381.03 L264.47 380.94 L264.82 380.86 L265.17 380.77 L265.51 380.69 L265.86 380.61 L266.21 380.53 L266.56 380.45 L266.91 380.37 L267.26 380.30 L267.61 380.22 L267.96 380.15 L268.30 380.07 L268.65 380.00 L269.00 379.93 L269.35 379.87 L269.70 379.80 L270.05 379.74 L270.39 379.67 L270.74 379.61 L271.09 379.54 L271.43 379.48 L271.78 379.41 L272.13 379.35 L272.47 379.29 L272.82 379.22 L273.17 379.16 L273.51 379.10 L273.86 379.04 L274.20 378.98 L274.55 378.92 L274.90 378.86 L275.24 378.80 L275.59 378.74 L275.94 378.68 L276.28 378.62 L276.63 378.57 L276.98 378.51 L277.32 378.46 L277.67 378.40 L278.02 378.35 L278.36 378.30 L278.71 378.25 L279.06 378.20 L279.40 378.15 L279.75 378.11 L280.10 378.06 L280.44 378.02 L280.79 377.97 L281.13 377.93 L281.48 377.89 L281.83 377.85 L282.17 377.82 L282.52 377.78 L282.87 377.75 L283.21 377.71 L283.56 377.68 L283.91 377.65 L284.25 377.63 L284.60 377.60 L284.95 377.58 L285.29 377.55 L285.64 377.53 L285.99 377.50 L286.33 377.48 L286.68 377.45 L287.03 377.43 L287.37 377.41 L287.72 377.38 L288.07 377.36 L288.41 377.34 L288.76 377.31 L289.10 377.29 L289.45 377.27 L289.80 377.25 L290.14 377.23 L290.49 377.20 L290.84 377.18 L291.18 377.16 L291.53 377.15 L291.88 377.13 L292.22 377.11 L292.57 377.09 L292.92 377.07 L293.26 377.06 L293.61 377.04 L293.96 377.03 L294.30 377.01 L294.65 377.00 L295.00 376.99 L295.34 376.97 L295.69 376.96 L296.03 376.95 L296.38 376.94 L296.73 376.93 L297.07 376.93 L297.42 376.92 L297.77 376.91 L298.11 376.91 L298.46 376.90 L298.81 376.90 L299.15 376.90 L299.50 376.90" fill="none" stroke="#00893c" stroke-width="1.25" stroke-linejoin="round" stroke-linecap="round" clip-path="url(#c04)"/>
<path d="M112.80 412.10 L113.15 412.12 L113.49 412.13 L113.84 412.15 L114.18 412.17 L114.53 412.19 L114.87 412.20 L115.22 412.22 L115.56 412.24 L115.91 412.26 L116.26 412.28 L116.60 412.29 L116.95 412.31 L117.29 412.33 L117.64 412.35 L117.98 412.37 L118.33 412.38 L118.67 412.40 L119.02 412.42 L119.37 412.44 L119.71 412.46 L120.06 412.48 L120.40 412.49 L120.75 412.51 L121.09 412.53 L121.44 412.55 L121.79 412.57 L122.13 412.59 L122.48 412.61 L122.82 412.63 L123.17 412.64 L123.51 412.66 L123.86 412.68 L124.20 412.70 L124.55 412.72 L124.90 412.74 L125.24 412.76 L125.59 412.78 L125.93 412.80 L126.28 412.82 L126.62 412.84 L126.97 412.86 L127.31 412.88 L127.66 412.89 L128.01 412.91 L128.35 412.93 L128.70 412.95 L129.04 412.97 L129.39 412.99 L129.73 413.01 L130.08 413.03 L130.43 413.05 L130.77 413.07 L131.12 413.09 L131.46 413.11 L131.81 413.13 L132.15 413.15 L132.50 413.17 L132.84 413.19 L133.19 413.21 L133.54 413.24 L133.88 413.26 L134.23 413.28 L134.57 413.30 L134.92 413.32 L135.26 413.34 L135.61 413.36 L135.95 413.38 L136.30 413.40 L136.65 413.42 L136.99 413.44 L137.34 413.46 L137.68 413.48 L138.03 413.51 L138.37 413.53 L138.72 413.55 L139.06 413.57 L139.41 413.59 L139.75 413.61 L140.10 413.63 L140.45 413.66 L140.79 413.68 L141.14 413.70 L141.48 413.72 L141.83 413.74 L142.17 413.77 L142.52 413.79 L142.86 413.81 L143.21 413.83 L143.55 413.85 L143.90 413.88 L144.25 413.90 L144.59 413.92 L144.94 413.94 L145.28 413.97 L145.63 413.99 L145.97 414.01 L146.32 414.04 L146.66 414.06 L147.01 414.08 L147.35 414.10 L147.70 414.13 L148.05 414.15 L148.39 414.17 L148.74 414.20 L149.08 414.22 L149.43 414.24 L149.77 414.27 L150.12 414.29 L150.46 414.31 L150.81 414.34 L151.15 414.36 L151.50 414.38 L151.85 414.41 L152.19 414.43 L152.54 414.45 L152.88 414.48 L153.23 414.50 L153.57 414.52 L153.92 414.55 L154.26 414.57 L154.61 414.59 L154.95 414.62 L155.30 414.64 L155.65 414.66 L155.99 414.69 L156.34 414.71 L156.68 414.74 L157.03 414.76 L157.37 414.78 L157.72 414.81 L158.06 414.83 L158.41 414.85 L158.75 414.88 L159.10 414.90 L159.45 414.92 L159.80 414.95 L160.15 414.97 L160.50 415.00 L160.84 415.02 L161.19 415.05 L161.54 415.07 L161.89 415.10 L162.24 415.12 L162.59 415.15 L162.94 415.17 L163.29 415.20 L163.64 415.22 L163.98 415.25 L164.33 415.27 L164.68 415.30 L165.03 415.33 L165.38 415.35 L165.73 415.38 L166.08 415.40 L166.43 415.43 L166.78 415.45 L167.12 415.48 L167.47 415.51 L167.82 415.53 L168.17 415.56 L168.52 415.58 L168.87 415.61 L169.22 415.63 L169.57 415.66 L169.92 415.68 L170.26 415.71 L170.61 415.73 L170.96 415.75 L171.31 415.78 L171.66 415.80 L172.01 415.82 L172.36 415.85 L172.71 415.87 L173.06 415.89 L173.40 415.91 L173.75 415.94 L174.10 415.96 L174.45 415.98 L174.80 416.00 L175.15 416.02 L175.50 416.04 L175.85 416.06 L176.20 416.08 L176.54 416.10 L176.89 416.12 L177.24 416.14 L177.59 416.16 L177.94 416.17 L178.29 416.19 L178.64 416.21 L178.99 416.23 L179.34 416.24 L179.68 416.26 L180.03 416.28 L180.38 416.30 L180.73 416.31 L181.08 416.33 L181.43 416.35 L181.78 416.36 L182.13 416.38 L182.48 416.40 L182.82 416.41 L183.17 416.43 L183.52 416.45 L183.87 416.46 L184.22 416.48 L184.57 416.50 L184.92 416.51 L185.27 416.53 L185.62 416.55 L185.96 416.56 L186.31 416.58 L186.66 416.60 L187.01 416.61 L187.36 416.63 L187.71 416.65 L188.06 416.67 L188.41 416.69 L188.76 416.70 L189.10 416.72 L189.45 416.74 L189.80 416.76 L190.15 416.78 L190.50 416.80 L190.85 416.82 L191.20 416.84 L191.55 416.87 L191.90 416.89 L192.25 416.92 L192.60 416.94 L192.95 416.97 L193.30 417.00 L193.65 417.03 L194.00 417.05 L194.35 417.08 L194.70 417.11 L195.05 417.14 L195.40 417.17 L195.75 417.20 L196.10 417.23 L196.45 417.26 L196.80 417.29 L197.15 417.32 L197.50 417.34 L197.85 417.37 L198.20 417.40 L198.55 417.42 L198.90 417.45 L199.25 417.47 L199.60 417.49 L199.95 417.51 L200.30 417.53 L200.65 417.54 L201.00 417.56 L201.35 417.57 L201.70 417.58 L202.05 417.59 L202.40 417.59 L202.75 417.60 L203.10 417.60 L203.44 417.60 L203.79 417.58 L204.13 417.56 L204.48 417.54 L204.82 417.50 L205.17 417.46 L205.51 417.41 L205.86 417.36 L206.20 417.30 L206.50 417.22 L206.80 417.08 L207.10 416.89 L207.40 416.65 L207.70 416.35 L208.00 416.00 L208.30 415.60 L208.60 414.99 L208.90 414.02 L209.20 412.69 L209.50 411.00 L209.77 408.35 L210.03 404.36 L210.30 400.00 L210.57 395.34 L210.83 390.16 L211.10 385.00 L211.33 380.30 L211.57 375.62 L211.80 372.00 L212.15 367.97 L212.50 366.00 L212.80 366.66 L213.10 368.00 L213.43 370.23 L213.77 373.24 L214.10 376.10 L214.44 378.67 L214.78 381.25 L215.12 383.68 L215.46 385.82 L215.80 387.50 L216.15 388.88 L216.50 390.14 L216.85 391.28 L217.20 392.31 L217.55 393.24 L217.90 394.07 L218.25 394.82 L218.60 395.50 L218.94 396.10 L219.28 396.67 L219.62 397.21 L219.96 397.70 L220.30 398.17 L220.64 398.60 L220.98 399.00 L221.32 399.36 L221.66 399.70 L222.00 400.00 L222.34 400.28 L222.67 400.54 L223.01 400.80 L223.34 401.04 L223.68 401.27 L224.01 401.49 L224.35 401.70 L224.68 401.90 L225.02 402.09 L225.35 402.28 L225.69 402.46 L226.02 402.63 L226.36 402.79 L226.69 402.95 L227.03 403.10 L227.36 403.25 L227.70 403.40 L228.03 403.54 L228.36 403.68 L228.69 403.81 L229.02 403.94 L229.36 404.07 L229.69 404.19 L230.02 404.31 L230.35 404.42 L230.68 404.54 L231.01 404.64 L231.34 404.75 L231.68 404.84 L232.01 404.94 L232.34 405.03 L232.67 405.12 L233.00 405.20 L233.35 405.28 L233.70 405.36 L234.05 405.44 L234.40 405.51 L234.75 405.58 L235.10 405.65 L235.45 405.72 L235.80 405.78 L236.15 405.84 L236.50 405.90 L236.85 405.96 L237.20 406.02 L237.55 406.08 L237.90 406.14 L238.25 406.20 L238.60 406.26 L238.95 406.32 L239.30 406.38 L239.65 406.44 L240.00 406.50 L240.34 406.56 L240.68 406.62 L241.02 406.69 L241.36 406.75 L241.70 406.81 L242.04 406.87 L242.38 406.93 L242.72 407.00 L243.06 407.06 L243.40 407.12 L243.74 407.18 L244.08 407.24 L244.42 407.30 L244.76 407.37 L245.10 407.43 L245.44 407.49 L245.78 407.55 L246.12 407.61 L246.46 407.67 L246.80 407.73 L247.14 407.79 L247.48 407.85 L247.82 407.90 L248.16 407.96 L248.50 408.02 L248.84 408.08 L249.18 408.13 L249.52 408.19 L249.86 408.25 L250.20 408.30 L250.54 408.35 L250.88 408.41 L251.22 408.46 L251.56 408.52 L251.90 408.57 L252.24 408.63 L252.58 408.68 L252.92 408.74 L253.26 408.79 L253.60 408.84 L253.94 408.90 L254.28 408.95 L254.62 409.00 L254.96 409.05 L255.30 409.10 L255.64 409.16 L255.98 409.21 L256.32 409.26 L256.66 409.31 L257.00 409.35 L257.34 409.40 L257.68 409.45 L258.02 409.50 L258.36 409.54 L258.70 409.59 L259.04 409.63 L259.38 409.68 L259.72 409.72 L260.06 409.76 L260.40 409.80 L260.74 409.84 L261.08 409.88 L261.42 409.92 L261.76 409.96 L262.10 409.99 L262.44 410.03 L262.78 410.07 L263.12 410.10 L263.46 410.14 L263.80 410.17 L264.14 410.21 L264.48 410.24 L264.82 410.27 L265.16 410.31 L265.50 410.34 L265.84 410.37 L266.18 410.40 L266.52 410.44 L266.86 410.47 L267.20 410.50 L267.54 410.53 L267.88 410.56 L268.22 410.59 L268.56 410.62 L268.90 410.65 L269.24 410.68 L269.58 410.71 L269.92 410.74 L270.26 410.77 L270.60 410.80 L270.94 410.83 L271.28 410.86 L271.62 410.89 L271.96 410.92 L272.30 410.95 L272.64 410.98 L272.98 411.01 L273.32 411.04 L273.66 411.06 L274.00 411.09 L274.34 411.12 L274.68 411.15 L275.02 411.18 L275.36 411.21 L275.70 411.23 L276.04 411.26 L276.38 411.29 L276.72 411.32 L277.06 411.34 L277.40 411.37 L277.74 411.39 L278.08 411.42 L278.42 411.44 L278.76 411.47 L279.10 411.49 L279.44 411.51 L279.78 411.54 L280.12 411.56 L280.46 411.58 L280.80 411.60 L281.14 411.62 L281.48 411.64 L281.82 411.66 L282.16 411.68 L282.50 411.70 L282.84 411.72 L283.18 411.74 L283.52 411.76 L283.86 411.78 L284.20 411.80 L284.54 411.82 L284.88 411.83 L285.22 411.85 L285.56 411.87 L285.90 411.89 L286.24 411.90 L286.58 411.92 L286.92 411.94 L287.26 411.95 L287.60 411.97 L287.94 411.98 L288.28 412.00 L288.62 412.01 L288.96 412.03 L289.30 412.04 L289.64 412.05 L289.98 412.07 L290.32 412.08 L290.66 412.09 L291.00 412.10 L291.34 412.11 L291.68 412.12 L292.02 412.13 L292.36 412.14 L292.70 412.15 L293.04 412.16 L293.38 412.17 L293.72 412.18 L294.06 412.19 L294.40 412.20 L294.74 412.21 L295.08 412.22 L295.42 412.22 L295.76 412.23 L296.10 412.24 L296.44 412.25 L296.78 412.26 L297.12 412.26 L297.46 412.27 L297.80 412.27 L298.14 412.28 L298.48 412.29 L298.82 412.29 L299.16 412.30 L299.50 412.30" fill="none" stroke="#7434a4" stroke-width="1.25" stroke-linejoin="round" stroke-linecap="round" clip-path="url(#c04)"/>
<path d="M157.20 507.50 L157.54 507.14 L157.88 506.78 L158.22 506.42 L158.56 506.07 L158.90 505.71 L159.23 505.35 L159.57 505.00 L159.91 504.64 L160.25 504.29 L160.59 503.94 L160.93 503.58 L161.27 503.23 L161.61 502.88 L161.95 502.53 L162.29 502.18 L162.63 501.83 L162.97 501.48 L163.30 501.13 L163.64 500.79 L163.98 500.44 L164.32 500.09 L164.66 499.75 L165.00 499.40 L165.34 499.05 L165.69 498.70 L166.03 498.36 L166.38 498.01 L166.72 497.67 L167.06 497.32 L167.41 496.98 L167.75 496.64 L168.09 496.30 L168.44 495.95 L168.78 495.61 L169.12 495.27 L169.47 494.93 L169.81 494.59 L170.16 494.24 L170.50 493.90 L170.84 493.56 L171.19 493.22 L171.53 492.88 L171.88 492.54 L172.22 492.20 L172.56 491.86 L172.91 491.52 L173.25 491.18 L173.59 490.84 L173.94 490.50 L174.28 490.15 L174.62 489.81 L174.97 489.46 L175.31 489.11 L175.66 488.76 L176.00 488.40 L176.34 488.04 L176.69 487.69 L177.03 487.33 L177.38 486.97 L177.72 486.61 L178.06 486.25 L178.41 485.89 L178.75 485.53 L179.09 485.16 L179.44 484.78 L179.78 484.40 L180.12 484.02 L180.47 483.62 L180.81 483.22 L181.16 482.82 L181.50 482.40 L181.84 481.97 L182.18 481.53 L182.52 481.07 L182.85 480.59 L183.19 480.11 L183.53 479.62 L183.87 479.12 L184.21 478.63 L184.55 478.14 L184.88 477.66 L185.22 477.19 L185.56 476.74 L185.90 476.30 L186.21 475.89 L186.53 475.48 L186.84 475.07 L187.16 474.67 L187.47 474.30 L187.79 473.97 L188.10 473.70 L188.44 473.45 L188.79 473.22 L189.13 473.01 L189.47 472.81 L189.82 472.64 L190.16 472.47 L190.51 472.31 L190.85 472.16 L191.19 472.01 L191.54 471.86 L191.88 471.70 L192.22 471.55 L192.57 471.38 L192.91 471.20 L193.26 471.01 L193.60 470.80 L193.94 470.58 L194.29 470.36 L194.63 470.13 L194.97 469.90 L195.32 469.66 L195.66 469.42 L196.01 469.17 L196.35 468.91 L196.69 468.64 L197.04 468.36 L197.38 468.07 L197.72 467.76 L198.07 467.44 L198.41 467.11 L198.76 466.76 L199.10 466.40 L199.44 466.01 L199.78 465.59 L200.12 465.13 L200.45 464.64 L200.79 464.12 L201.13 463.57 L201.47 463.01 L201.81 462.42 L202.15 461.82 L202.48 461.20 L202.82 460.57 L203.16 459.94 L203.50 459.30 L203.82 458.64 L204.15 457.91 L204.47 457.13 L204.80 456.30 L205.12 455.46 L205.45 454.61 L205.78 453.78 L206.10 452.98 L206.43 452.24 L206.75 451.56 L207.08 450.98 L207.40 450.50 L207.68 450.13 L207.95 449.77 L208.22 449.51 L208.50 449.40 L208.80 450.01 L209.10 451.43 L209.40 453.00 L209.70 455.11 L210.00 456.50 L210.20 455.09 L210.40 453.00 L210.65 451.17 L210.90 450.20 L211.24 450.38 L211.59 450.88 L211.93 451.62 L212.28 452.54 L212.62 453.57 L212.97 454.62 L213.31 455.65 L213.66 456.56 L214.00 457.30 L214.32 457.88 L214.65 458.45 L214.97 459.00 L215.30 459.53 L215.62 460.04 L215.95 460.53 L216.28 461.01 L216.60 461.46 L216.93 461.90 L217.25 462.32 L217.58 462.72 L217.90 463.10 L218.24 463.48 L218.57 463.84 L218.91 464.19 L219.25 464.53 L219.58 464.86 L219.92 465.18 L220.26 465.49 L220.59 465.79 L220.93 466.09 L221.27 466.37 L221.61 466.66 L221.94 466.93 L222.28 467.21 L222.62 467.48 L222.95 467.74 L223.29 468.01 L223.63 468.27 L223.96 468.54 L224.30 468.80 L224.64 469.06 L224.97 469.31 L225.31 469.54 L225.65 469.77 L225.98 469.99 L226.32 470.21 L226.66 470.42 L226.99 470.64 L227.33 470.85 L227.67 471.06 L228.01 471.28 L228.34 471.50 L228.68 471.72 L229.02 471.96 L229.35 472.20 L229.69 472.46 L230.03 472.72 L230.36 473.00 L230.70 473.30 L231.03 473.61 L231.36 473.95 L231.69 474.32 L232.02 474.70 L232.35 475.10 L232.68 475.51 L233.02 475.94 L233.35 476.37 L233.68 476.80 L234.01 477.23 L234.34 477.66 L234.67 478.09 L235.00 478.50 L235.33 478.91 L235.67 479.33 L236.00 479.76 L236.33 480.19 L236.67 480.62 L237.00 481.05 L237.33 481.48 L237.67 481.91 L238.00 482.34 L238.33 482.77 L238.67 483.19 L239.00 483.60 L239.33 484.01 L239.67 484.41 L240.00 484.80 L240.35 485.20 L240.70 485.60 L241.05 485.99 L241.40 486.37 L241.75 486.75 L242.10 487.13 L242.45 487.50 L242.80 487.87 L243.15 488.24 L243.50 488.60 L243.85 488.96 L244.20 489.32 L244.55 489.68 L244.90 490.04 L245.25 490.40 L245.60 490.76 L245.95 491.11 L246.30 491.47 L246.65 491.84 L247.00 492.20 L247.35 492.56 L247.70 492.92 L248.04 493.28 L248.39 493.64 L248.74 493.99 L249.09 494.35 L249.43 494.70 L249.78 495.05 L250.13 495.41 L250.48 495.76 L250.82 496.12 L251.17 496.47 L251.52 496.82 L251.87 497.18 L252.21 497.53 L252.56 497.89 L252.91 498.25 L253.26 498.61 L253.60 498.97 L253.95 499.33 L254.30 499.70 L254.64 500.06 L254.99 500.43 L255.33 500.79 L255.67 501.15 L256.01 501.52 L256.36 501.89 L256.70 502.25 L257.04 502.62 L257.39 502.99 L257.73 503.36 L258.07 503.74 L258.41 504.11 L258.76 504.48 L259.10 504.86 L259.44 505.23 L259.79 505.61 L260.13 505.98 L260.47 506.36 L260.81 506.74 L261.16 507.12 L261.50 507.50" fill="none" stroke="#00893c" stroke-width="1.25" stroke-linejoin="round" stroke-linecap="round" clip-path="url(#c05)"/>
<path d="M113.20 495.80 L113.55 495.76 L113.89 495.72 L114.24 495.68 L114.59 495.64 L114.93 495.60 L115.28 495.56 L115.62 495.52 L115.97 495.48 L116.32 495.44 L116.66 495.40 L117.01 495.36 L117.36 495.32 L117.70 495.28 L118.05 495.24 L118.39 495.20 L118.74 495.15 L119.09 495.11 L119.43 495.07 L119.78 495.03 L120.13 494.99 L120.47 494.95 L120.82 494.90 L121.16 494.86 L121.51 494.82 L121.86 494.78 L122.20 494.73 L122.55 494.69 L122.90 494.65 L123.24 494.60 L123.59 494.56 L123.93 494.52 L124.28 494.48 L124.63 494.43 L124.97 494.39 L125.32 494.34 L125.67 494.30 L126.01 494.26 L126.36 494.21 L126.70 494.17 L127.05 494.13 L127.40 494.08 L127.74 494.04 L128.09 493.99 L128.44 493.95 L128.78 493.90 L129.13 493.86 L129.47 493.81 L129.82 493.77 L130.17 493.72 L130.51 493.68 L130.86 493.63 L131.21 493.59 L131.55 493.54 L131.90 493.50 L132.24 493.45 L132.59 493.41 L132.94 493.36 L133.28 493.32 L133.63 493.27 L133.98 493.22 L134.32 493.18 L134.67 493.13 L135.01 493.09 L135.36 493.04 L135.71 492.99 L136.05 492.95 L136.40 492.90 L136.75 492.85 L137.10 492.81 L137.45 492.76 L137.80 492.71 L138.15 492.66 L138.50 492.61 L138.85 492.56 L139.20 492.51 L139.55 492.46 L139.90 492.41 L140.25 492.36 L140.60 492.31 L140.95 492.26 L141.30 492.21 L141.65 492.16 L142.00 492.11 L142.35 492.06 L142.70 492.01 L143.05 491.95 L143.40 491.90 L143.75 491.85 L144.10 491.80 L144.45 491.75 L144.80 491.70 L145.15 491.65 L145.50 491.60 L145.85 491.55 L146.20 491.50 L146.55 491.45 L146.90 491.39 L147.25 491.35 L147.60 491.30 L147.95 491.25 L148.30 491.20 L148.65 491.15 L149.00 491.10 L149.35 491.05 L149.69 491.01 L150.04 490.96 L150.38 490.91 L150.73 490.86 L151.08 490.82 L151.42 490.77 L151.77 490.72 L152.12 490.68 L152.46 490.63 L152.81 490.58 L153.15 490.54 L153.50 490.49 L153.85 490.45 L154.19 490.40 L154.54 490.35 L154.88 490.31 L155.23 490.26 L155.58 490.22 L155.92 490.17 L156.27 490.13 L156.62 490.08 L156.96 490.04 L157.31 489.99 L157.65 489.95 L158.00 489.90 L158.35 489.86 L158.70 489.81 L159.05 489.77 L159.40 489.73 L159.75 489.69 L160.10 489.66 L160.45 489.62 L160.80 489.58 L161.15 489.54 L161.50 489.50 L161.85 489.46 L162.20 489.42 L162.55 489.38 L162.90 489.33 L163.25 489.29 L163.60 489.24 L163.95 489.18 L164.30 489.13 L164.65 489.06 L165.00 489.00 L165.34 488.93 L165.69 488.84 L166.03 488.75 L166.38 488.65 L166.72 488.54 L167.06 488.42 L167.41 488.29 L167.75 488.16 L168.09 488.03 L168.44 487.89 L168.78 487.76 L169.12 487.62 L169.47 487.49 L169.81 487.35 L170.16 487.22 L170.50 487.10 L170.84 486.98 L171.19 486.86 L171.53 486.73 L171.88 486.61 L172.22 486.49 L172.56 486.37 L172.91 486.24 L173.25 486.12 L173.59 485.99 L173.94 485.87 L174.28 485.74 L174.62 485.62 L174.97 485.49 L175.31 485.36 L175.66 485.23 L176.00 485.10 L176.34 484.97 L176.69 484.84 L177.03 484.71 L177.38 484.59 L177.72 484.46 L178.06 484.33 L178.41 484.20 L178.75 484.07 L179.09 483.93 L179.44 483.80 L179.78 483.66 L180.12 483.52 L180.47 483.37 L180.81 483.22 L181.16 483.06 L181.50 482.90 L181.84 482.73 L182.19 482.55 L182.53 482.37 L182.88 482.18 L183.22 481.98 L183.56 481.78 L183.91 481.57 L184.25 481.36 L184.59 481.15 L184.94 480.93 L185.28 480.71 L185.62 480.49 L185.97 480.27 L186.31 480.04 L186.66 479.82 L187.00 479.60 L187.34 479.38 L187.69 479.16 L188.03 478.95 L188.38 478.73 L188.72 478.51 L189.06 478.29 L189.41 478.07 L189.75 477.84 L190.09 477.61 L190.44 477.38 L190.78 477.14 L191.12 476.89 L191.47 476.63 L191.81 476.36 L192.16 476.09 L192.50 475.80 L192.84 475.50 L193.19 475.19 L193.53 474.87 L193.88 474.54 L194.22 474.20 L194.56 473.85 L194.91 473.48 L195.25 473.11 L195.59 472.72 L195.94 472.32 L196.28 471.91 L196.62 471.49 L196.97 471.06 L197.31 470.62 L197.66 470.16 L198.00 469.70 L198.34 469.23 L198.68 468.74 L199.02 468.23 L199.35 467.70 L199.69 467.16 L200.03 466.59 L200.37 466.00 L200.71 465.39 L201.05 464.76 L201.38 464.11 L201.72 463.43 L202.06 462.73 L202.40 462.00 L202.73 461.24 L203.06 460.40 L203.39 459.51 L203.72 458.56 L204.05 457.59 L204.38 456.59 L204.71 455.59 L205.04 454.60 L205.37 453.63 L205.70 452.70 L206.04 451.64 L206.39 450.45 L206.73 449.21 L207.07 448.06 L207.41 447.10 L207.76 446.44 L208.10 446.20 L208.38 446.32 L208.66 446.66 L208.94 447.17 L209.22 447.80 L209.50 448.50 L209.80 449.49 L210.10 450.98 L210.40 453.00 L210.65 455.75 L210.90 460.00 L211.25 470.81 L211.60 485.00 L211.83 496.82 L212.07 509.24 L212.30 515.00 L212.60 515.00 L212.90 515.00 L213.20 515.00 L213.50 515.00 L213.80 515.00 L214.10 508.52 L214.40 500.00 L214.70 496.39 L215.00 493.71 L215.30 492.00 L215.62 490.82 L215.93 489.81 L216.25 488.97 L216.57 488.31 L216.88 487.82 L217.20 487.50 L217.52 487.27 L217.84 487.06 L218.16 486.87 L218.48 486.70 L218.80 486.55 L219.12 486.43 L219.44 486.33 L219.76 486.26 L220.08 486.22 L220.40 486.20 L220.74 486.21 L221.09 486.22 L221.43 486.24 L221.77 486.28 L222.12 486.32 L222.46 486.37 L222.80 486.43 L223.15 486.49 L223.49 486.56 L223.83 486.64 L224.18 486.73 L224.52 486.82 L224.86 486.91 L225.21 487.01 L225.55 487.11 L225.89 487.22 L226.24 487.32 L226.58 487.44 L226.92 487.55 L227.27 487.66 L227.61 487.78 L227.95 487.90 L228.30 488.01 L228.64 488.13 L228.98 488.25 L229.33 488.36 L229.67 488.47 L230.01 488.59 L230.36 488.69 L230.70 488.80 L231.04 488.91 L231.39 489.02 L231.73 489.14 L232.08 489.27 L232.42 489.40 L232.77 489.54 L233.11 489.68 L233.46 489.83 L233.80 489.97 L234.14 490.12 L234.49 490.27 L234.83 490.42 L235.18 490.57 L235.52 490.72 L235.87 490.87 L236.21 491.01 L236.56 491.16 L236.90 491.30 L237.24 491.43 L237.59 491.56 L237.93 491.69 L238.28 491.81 L238.62 491.92 L238.97 492.03 L239.31 492.13 L239.66 492.22 L240.00 492.30 L240.34 492.38 L240.69 492.45 L241.03 492.52 L241.38 492.59 L241.72 492.66 L242.06 492.72 L242.41 492.79 L242.75 492.85 L243.09 492.91 L243.44 492.97 L243.78 493.03 L244.12 493.08 L244.47 493.14 L244.81 493.19 L245.16 493.25 L245.50 493.30 L245.84 493.35 L246.19 493.40 L246.53 493.44 L246.88 493.49 L247.22 493.54 L247.56 493.58 L247.91 493.63 L248.25 493.67 L248.59 493.71 L248.94 493.76 L249.28 493.80 L249.62 493.84 L249.97 493.88 L250.31 493.92 L250.66 493.96 L251.00 494.00 L251.34 494.04 L251.69 494.08 L252.03 494.12 L252.38 494.15 L252.72 494.19 L253.06 494.23 L253.41 494.26 L253.75 494.30 L254.09 494.33 L254.44 494.37 L254.78 494.40 L255.12 494.43 L255.47 494.47 L255.81 494.50 L256.16 494.53 L256.50 494.56 L256.84 494.59 L257.19 494.63 L257.53 494.65 L257.88 494.68 L258.22 494.71 L258.56 494.74 L258.91 494.77 L259.25 494.80 L259.59 494.82 L259.94 494.85 L260.28 494.88 L260.62 494.90 L260.97 494.93 L261.31 494.95 L261.66 494.98 L262.00 495.00 L262.34 495.02 L262.69 495.05 L263.03 495.07 L263.38 495.10 L263.72 495.12 L264.06 495.15 L264.41 495.17 L264.75 495.20 L265.09 495.22 L265.44 495.25 L265.78 495.27 L266.12 495.30 L266.47 495.32 L266.81 495.35 L267.16 495.37 L267.50 495.39 L267.84 495.42 L268.19 495.44 L268.53 495.46 L268.88 495.48 L269.22 495.49 L269.56 495.51 L269.91 495.53 L270.25 495.54 L270.59 495.55 L270.94 495.57 L271.28 495.58 L271.62 495.58 L271.97 495.59 L272.31 495.60 L272.66 495.60 L273.00 495.60 L273.35 495.60 L273.70 495.60 L274.05 495.60 L274.39 495.60 L274.74 495.60 L275.09 495.60 L275.44 495.60 L275.79 495.60 L276.14 495.60 L276.49 495.60 L276.84 495.60 L277.18 495.60 L277.53 495.60 L277.88 495.60 L278.23 495.60 L278.58 495.60 L278.93 495.60 L279.28 495.60 L279.62 495.60 L279.97 495.60 L280.32 495.60 L280.67 495.60 L281.02 495.60 L281.37 495.60 L281.72 495.60 L282.07 495.60 L282.41 495.60 L282.76 495.60 L283.11 495.60 L283.46 495.60 L283.81 495.60 L284.16 495.60 L284.51 495.60 L284.86 495.60 L285.20 495.60 L285.55 495.60 L285.90 495.60 L286.25 495.60 L286.60 495.60 L286.95 495.60 L287.30 495.60 L287.64 495.60 L287.99 495.60 L288.34 495.60 L288.69 495.60 L289.04 495.60 L289.39 495.60 L289.74 495.60 L290.09 495.60 L290.43 495.60 L290.78 495.60 L291.13 495.60 L291.48 495.60 L291.83 495.60 L292.18 495.60 L292.53 495.60 L292.88 495.60 L293.22 495.60 L293.57 495.60 L293.92 495.60 L294.27 495.60 L294.62 495.60 L294.97 495.60 L295.32 495.60 L295.66 495.60 L296.01 495.60 L296.36 495.60 L296.71 495.60 L297.06 495.60 L297.41 495.60 L297.76 495.60 L298.11 495.60 L298.45 495.60 L298.80 495.60 L299.15 495.60 L299.50 495.60" fill="none" stroke="#7434a4" stroke-width="1.25" stroke-linejoin="round" stroke-linecap="round" clip-path="url(#c05)"/>
<path d="M113.20 495.80 L113.54 495.74 L113.88 495.68 L114.23 495.62 L114.57 495.57 L114.91 495.51 L115.25 495.45 L115.59 495.39 L115.94 495.34 L116.28 495.28 L116.62 495.22 L116.96 495.17 L117.30 495.11 L117.65 495.06 L117.99 495.00 L118.33 494.94 L118.67 494.89 L119.01 494.83 L119.35 494.78 L119.70 494.73 L120.04 494.67 L120.38 494.62 L120.72 494.57 L121.06 494.51 L121.41 494.46 L121.75 494.41 L122.09 494.36 L122.43 494.30 L122.77 494.25 L123.12 494.20 L123.46 494.15 L123.80 494.10 L124.14 494.05 L124.48 494.00 L124.82 493.95 L125.16 493.91 L125.50 493.86 L125.84 493.81 L126.18 493.77 L126.52 493.72 L126.86 493.68 L127.21 493.64 L127.55 493.59 L127.89 493.55 L128.23 493.51 L128.57 493.46 L128.91 493.42 L129.25 493.38 L129.59 493.34 L129.93 493.29 L130.27 493.25 L130.61 493.21 L130.95 493.16 L131.29 493.12 L131.63 493.08 L131.97 493.03 L132.31 492.99 L132.65 492.94 L132.99 492.90 L133.34 492.85 L133.68 492.81 L134.02 492.76 L134.36 492.71 L134.70 492.66 L135.04 492.61 L135.38 492.56 L135.72 492.51 L136.06 492.45 L136.40 492.40 L136.75 492.34 L137.10 492.29 L137.45 492.23 L137.80 492.17 L138.15 492.11 L138.50 492.05 L138.85 491.99 L139.20 491.93 L139.55 491.87 L139.90 491.80 L140.25 491.74 L140.60 491.68 L140.95 491.61 L141.30 491.55 L141.65 491.48 L142.00 491.41 L142.35 491.35 L142.70 491.28 L143.05 491.21 L143.40 491.14 L143.75 491.07 L144.10 491.00 L144.45 490.92 L144.80 490.85 L145.15 490.77 L145.50 490.70 L145.85 490.62 L146.20 490.55 L146.55 490.47 L146.90 490.39 L147.25 490.31 L147.60 490.23 L147.95 490.15 L148.30 490.07 L148.65 489.98 L149.00 489.90 L149.35 489.81 L149.69 489.73 L150.04 489.64 L150.38 489.54 L150.73 489.45 L151.08 489.35 L151.42 489.25 L151.77 489.15 L152.12 489.04 L152.46 488.94 L152.81 488.83 L153.15 488.72 L153.50 488.62 L153.85 488.51 L154.19 488.40 L154.54 488.29 L154.88 488.18 L155.23 488.07 L155.58 487.95 L155.92 487.84 L156.27 487.73 L156.62 487.63 L156.96 487.52 L157.31 487.41 L157.65 487.30 L158.00 487.20 L158.35 487.10 L158.70 486.99 L159.05 486.90 L159.40 486.80 L159.75 486.70 L160.10 486.60 L160.45 486.51 L160.80 486.41 L161.15 486.31 L161.50 486.22 L161.85 486.12 L162.20 486.02 L162.55 485.91 L162.90 485.81 L163.25 485.70 L163.60 485.59 L163.95 485.47 L164.30 485.35 L164.65 485.23 L165.00 485.10 L165.34 484.97 L165.69 484.83 L166.03 484.68 L166.38 484.53 L166.72 484.37 L167.06 484.20 L167.41 484.04 L167.75 483.86 L168.09 483.69 L168.44 483.51 L168.78 483.33 L169.12 483.14 L169.47 482.96 L169.81 482.77 L170.16 482.59 L170.50 482.40 L170.84 482.21 L171.19 482.02 L171.53 481.83 L171.88 481.64 L172.22 481.44 L172.56 481.24 L172.91 481.04 L173.25 480.84 L173.59 480.63 L173.94 480.42 L174.28 480.21 L174.62 479.99 L174.97 479.77 L175.31 479.55 L175.66 479.33 L176.00 479.10 L176.34 478.87 L176.69 478.64 L177.03 478.41 L177.38 478.17 L177.72 477.94 L178.06 477.70 L178.41 477.45 L178.75 477.20 L179.09 476.95 L179.44 476.69 L179.78 476.42 L180.12 476.15 L180.47 475.88 L180.81 475.59 L181.16 475.30 L181.50 475.00 L181.85 474.68 L182.20 474.33 L182.55 473.97 L182.90 473.60 L183.25 473.21 L183.60 472.82 L183.95 472.43 L184.30 472.04 L184.65 471.67 L185.00 471.30 L185.33 470.95 L185.67 470.60 L186.00 470.24 L186.33 469.90 L186.67 469.58 L187.00 469.30 L187.34 469.04 L187.69 468.79 L188.03 468.56 L188.38 468.35 L188.72 468.14 L189.06 467.94 L189.41 467.75 L189.75 467.56 L190.09 467.37 L190.44 467.19 L190.78 466.99 L191.12 466.80 L191.47 466.59 L191.81 466.37 L192.16 466.14 L192.50 465.90 L192.84 465.64 L193.19 465.38 L193.53 465.12 L193.88 464.84 L194.22 464.56 L194.56 464.28 L194.91 463.98 L195.25 463.68 L195.59 463.37 L195.94 463.05 L196.28 462.72 L196.62 462.38 L196.97 462.02 L197.31 461.66 L197.66 461.29 L198.00 460.90 L198.34 460.50 L198.68 460.09 L199.02 459.65 L199.35 459.20 L199.69 458.73 L200.03 458.24 L200.37 457.73 L200.71 457.20 L201.05 456.66 L201.38 456.09 L201.72 455.51 L202.06 454.92 L202.40 454.30 L202.73 453.66 L203.06 452.97 L203.39 452.23 L203.72 451.46 L204.05 450.66 L204.38 449.84 L204.71 449.02 L205.04 448.20 L205.37 447.39 L205.70 446.60 L206.04 445.72 L206.38 444.71 L206.71 443.64 L207.05 442.61 L207.39 441.67 L207.72 440.90 L208.06 440.39 L208.40 440.20 L208.68 440.47 L208.96 441.15 L209.24 442.09 L209.52 443.09 L209.80 444.00 L210.13 445.00 L210.47 446.03 L210.80 447.00 L211.12 447.86 L211.44 448.71 L211.76 449.55 L212.08 450.36 L212.40 451.15 L212.72 451.92 L213.04 452.66 L213.36 453.37 L213.68 454.05 L214.00 454.70 L214.32 455.33 L214.65 455.94 L214.97 456.54 L215.30 457.12 L215.62 457.69 L215.95 458.23 L216.28 458.76 L216.60 459.27 L216.93 459.76 L217.25 460.23 L217.58 460.67 L217.90 461.10 L218.24 461.53 L218.57 461.94 L218.91 462.35 L219.25 462.76 L219.58 463.15 L219.92 463.53 L220.26 463.90 L220.59 464.27 L220.93 464.62 L221.27 464.97 L221.61 465.30 L221.94 465.62 L222.28 465.94 L222.62 466.24 L222.95 466.54 L223.29 466.82 L223.63 467.09 L223.96 467.35 L224.30 467.60 L224.64 467.83 L224.97 468.05 L225.31 468.26 L225.64 468.45 L225.98 468.63 L226.31 468.81 L226.65 468.99 L226.99 469.16 L227.32 469.33 L227.66 469.51 L227.99 469.69 L228.33 469.88 L228.66 470.08 L229.00 470.30 L229.31 470.51 L229.62 470.73 L229.94 470.95 L230.25 471.18 L230.56 471.42 L230.88 471.67 L231.19 471.93 L231.50 472.20 L231.83 472.51 L232.17 472.84 L232.50 473.19 L232.83 473.55 L233.17 473.93 L233.50 474.31 L233.83 474.69 L234.17 475.08 L234.50 475.45 L234.83 475.82 L235.17 476.17 L235.50 476.50 L235.85 476.83 L236.19 477.16 L236.54 477.48 L236.88 477.79 L237.23 478.10 L237.58 478.41 L237.92 478.71 L238.27 479.01 L238.62 479.30 L238.96 479.58 L239.31 479.86 L239.65 480.13 L240.00 480.40 L240.33 480.65 L240.67 480.91 L241.00 481.16 L241.33 481.40 L241.67 481.65 L242.00 481.89 L242.33 482.12 L242.67 482.35 L243.00 482.58 L243.33 482.80 L243.67 483.01 L244.00 483.22 L244.33 483.42 L244.67 483.61 L245.00 483.80 L245.33 483.98 L245.67 484.15 L246.00 484.32 L246.33 484.48 L246.67 484.64 L247.00 484.80 L247.33 484.95 L247.67 485.09 L248.00 485.24 L248.33 485.38 L248.67 485.52 L249.00 485.66 L249.33 485.80 L249.67 485.94 L250.00 486.08 L250.33 486.22 L250.67 486.36 L251.00 486.50 L251.34 486.65 L251.69 486.80 L252.03 486.94 L252.38 487.09 L252.72 487.24 L253.06 487.39 L253.41 487.55 L253.75 487.70 L254.09 487.85 L254.44 488.00 L254.78 488.15 L255.12 488.30 L255.47 488.45 L255.81 488.60 L256.16 488.74 L256.50 488.89 L256.84 489.03 L257.19 489.17 L257.53 489.31 L257.88 489.45 L258.22 489.59 L258.56 489.72 L258.91 489.85 L259.25 489.98 L259.59 490.11 L259.94 490.23 L260.28 490.35 L260.62 490.47 L260.97 490.58 L261.31 490.69 L261.66 490.80 L262.00 490.90 L262.34 491.00 L262.69 491.10 L263.03 491.19 L263.38 491.29 L263.72 491.38 L264.06 491.48 L264.41 491.57 L264.75 491.66 L265.09 491.75 L265.44 491.84 L265.78 491.92 L266.12 492.01 L266.47 492.09 L266.81 492.17 L267.16 492.26 L267.50 492.33 L267.84 492.41 L268.19 492.49 L268.53 492.56 L268.88 492.64 L269.22 492.71 L269.56 492.78 L269.91 492.85 L270.25 492.92 L270.59 492.98 L270.94 493.05 L271.28 493.11 L271.62 493.17 L271.97 493.23 L272.31 493.29 L272.66 493.35 L273.00 493.40 L273.34 493.45 L273.69 493.51 L274.03 493.56 L274.38 493.61 L274.72 493.66 L275.06 493.71 L275.41 493.76 L275.75 493.81 L276.09 493.86 L276.44 493.91 L276.78 493.96 L277.12 494.00 L277.47 494.05 L277.81 494.09 L278.16 494.14 L278.50 494.18 L278.84 494.22 L279.19 494.26 L279.53 494.30 L279.88 494.34 L280.22 494.38 L280.56 494.42 L280.91 494.45 L281.25 494.48 L281.59 494.52 L281.94 494.55 L282.28 494.58 L282.62 494.60 L282.97 494.63 L283.31 494.66 L283.66 494.68 L284.00 494.70 L284.34 494.72 L284.69 494.74 L285.03 494.76 L285.38 494.78 L285.72 494.80 L286.07 494.82 L286.41 494.84 L286.76 494.86 L287.10 494.88 L287.44 494.90 L287.79 494.92 L288.13 494.94 L288.48 494.96 L288.82 494.98 L289.17 494.99 L289.51 495.01 L289.86 495.03 L290.20 495.05 L290.54 495.06 L290.89 495.08 L291.23 495.09 L291.58 495.11 L291.92 495.12 L292.27 495.14 L292.61 495.15 L292.96 495.17 L293.30 495.18 L293.64 495.19 L293.99 495.20 L294.33 495.21 L294.68 495.22 L295.02 495.23 L295.37 495.24 L295.71 495.25 L296.06 495.26 L296.40 495.27 L296.74 495.27 L297.09 495.28 L297.43 495.29 L297.78 495.29 L298.12 495.29 L298.47 495.30 L298.81 495.30 L299.16 495.30 L299.50 495.30" fill="none" stroke="#000" stroke-width="1.25" stroke-linejoin="round" stroke-linecap="round" clip-path="url(#c05)"/>
<path d="M399.40 43.20 L399.75 43.14 L400.10 43.08 L400.45 43.02 L400.80 42.96 L401.15 42.90 L401.50 42.83 L401.85 42.77 L402.20 42.71 L402.55 42.65 L402.90 42.59 L403.25 42.53 L403.60 42.47 L403.95 42.41 L404.30 42.35 L404.65 42.29 L405.00 42.23 L405.35 42.17 L405.70 42.11 L406.05 42.05 L406.40 41.99 L406.75 41.93 L407.10 41.87 L407.45 41.81 L407.80 41.75 L408.15 41.69 L408.50 41.63 L408.85 41.57 L409.20 41.51 L409.55 41.45 L409.90 41.39 L410.25 41.33 L410.60 41.27 L410.95 41.21 L411.30 41.15 L411.65 41.09 L412.00 41.03 L412.35 40.97 L412.70 40.91 L413.05 40.85 L413.40 40.79 L413.75 40.73 L414.10 40.67 L414.45 40.61 L414.80 40.55 L415.15 40.49 L415.50 40.44 L415.85 40.38 L416.20 40.32 L416.55 40.26 L416.90 40.20 L417.25 40.14 L417.60 40.08 L417.94 40.02 L418.29 39.97 L418.64 39.91 L418.99 39.85 L419.34 39.79 L419.69 39.73 L420.03 39.67 L420.38 39.61 L420.73 39.55 L421.08 39.50 L421.43 39.44 L421.77 39.38 L422.12 39.32 L422.47 39.26 L422.82 39.20 L423.17 39.14 L423.51 39.08 L423.86 39.03 L424.21 38.97 L424.56 38.91 L424.91 38.85 L425.26 38.79 L425.60 38.73 L425.95 38.68 L426.30 38.62 L426.65 38.56 L427.00 38.50 L427.34 38.44 L427.69 38.39 L428.04 38.33 L428.39 38.27 L428.74 38.21 L429.09 38.16 L429.43 38.10 L429.78 38.04 L430.13 37.99 L430.48 37.93 L430.83 37.87 L431.17 37.82 L431.52 37.76 L431.87 37.70 L432.22 37.65 L432.57 37.59 L432.91 37.54 L433.26 37.48 L433.61 37.43 L433.96 37.37 L434.31 37.32 L434.66 37.26 L435.00 37.21 L435.35 37.15 L435.70 37.10 L436.04 37.05 L436.39 37.00 L436.73 36.94 L437.08 36.89 L437.42 36.84 L437.77 36.80 L438.11 36.75 L438.46 36.70 L438.80 36.65 L439.15 36.61 L439.49 36.56 L439.84 36.51 L440.18 36.47 L440.52 36.42 L440.87 36.38 L441.21 36.33 L441.56 36.29 L441.90 36.25 L442.25 36.20 L442.59 36.16 L442.94 36.11 L443.28 36.07 L443.63 36.03 L443.97 35.98 L444.32 35.94 L444.66 35.90 L445.01 35.85 L445.35 35.81 L445.69 35.76 L446.04 35.72 L446.38 35.67 L446.73 35.63 L447.07 35.58 L447.42 35.53 L447.76 35.49 L448.11 35.44 L448.45 35.39 L448.80 35.34 L449.14 35.29 L449.49 35.24 L449.83 35.19 L450.18 35.14 L450.52 35.08 L450.86 35.03 L451.21 34.98 L451.55 34.92 L451.90 34.86 L452.24 34.81 L452.59 34.75 L452.93 34.69 L453.28 34.63 L453.62 34.56 L453.97 34.50 L454.31 34.43 L454.66 34.37 L455.00 34.30 L455.33 34.23 L455.66 34.16 L455.99 34.08 L456.33 34.00 L456.66 33.92 L456.99 33.83 L457.32 33.74 L457.65 33.65 L457.98 33.56 L458.32 33.46 L458.65 33.37 L458.98 33.27 L459.31 33.17 L459.64 33.08 L459.97 32.98 L460.31 32.88 L460.64 32.79 L460.97 32.69 L461.30 32.60 L461.63 32.51 L461.96 32.41 L462.29 32.32 L462.63 32.22 L462.96 32.13 L463.29 32.03 L463.62 31.93 L463.95 31.83 L464.28 31.73 L464.62 31.64 L464.95 31.54 L465.28 31.44 L465.61 31.35 L465.94 31.25 L466.27 31.16 L466.61 31.07 L466.94 30.98 L467.27 30.89 L467.60 30.80 L467.95 30.71 L468.30 30.62 L468.65 30.54 L469.00 30.46 L469.35 30.37 L469.70 30.29 L470.05 30.21 L470.40 30.13 L470.75 30.06 L471.10 29.98 L471.45 29.90 L471.80 29.82 L472.15 29.73 L472.50 29.65 L472.85 29.57 L473.20 29.48 L473.55 29.39 L473.90 29.30 L474.23 29.21 L474.56 29.12 L474.89 29.02 L475.23 28.92 L475.56 28.82 L475.89 28.72 L476.22 28.62 L476.55 28.51 L476.88 28.41 L477.22 28.30 L477.55 28.20 L477.88 28.09 L478.21 27.99 L478.54 27.88 L478.87 27.78 L479.21 27.68 L479.54 27.59 L479.87 27.49 L480.20 27.40 L480.54 27.30 L480.88 27.20 L481.22 27.10 L481.55 26.99 L481.89 26.89 L482.23 26.79 L482.57 26.69 L482.91 26.60 L483.25 26.51 L483.58 26.44 L483.92 26.38 L484.26 26.33 L484.60 26.30 L484.91 26.28 L485.23 26.26 L485.54 26.24 L485.85 26.23 L486.16 26.22 L486.48 26.21 L486.79 26.20 L487.10 26.20 L487.42 26.22 L487.73 26.29 L488.05 26.40 L488.37 26.54 L488.68 26.71 L489.00 26.90 L489.30 27.19 L489.60 27.64 L489.90 28.19 L490.20 28.80 L490.52 29.47 L490.85 30.23 L491.18 31.23 L491.50 32.60 L491.77 34.78 L492.03 38.18 L492.30 42.00 L492.65 47.85 L493.00 54.30 L493.30 59.87 L493.60 65.43 L493.90 70.10 L494.20 73.62 L494.50 76.50 L494.80 78.98 L495.10 81.00 L495.40 82.62 L495.70 83.80 L496.00 84.61 L496.30 85.00 L496.65 84.75 L497.00 84.20 L497.27 83.39 L497.55 82.14 L497.83 80.79 L498.10 79.70 L498.41 78.78 L498.73 77.92 L499.04 77.12 L499.35 76.39 L499.66 75.70 L499.98 75.06 L500.29 74.46 L500.60 73.90 L500.91 73.37 L501.23 72.88 L501.54 72.42 L501.85 71.99 L502.16 71.57 L502.48 71.17 L502.79 70.78 L503.10 70.40 L503.44 69.99 L503.79 69.61 L504.13 69.24 L504.47 68.87 L504.81 68.52 L505.16 68.16 L505.50 67.80 L505.82 67.46 L506.13 67.13 L506.45 66.80 L506.77 66.47 L507.08 66.14 L507.40 65.80 L507.73 65.44 L508.06 65.07 L508.39 64.69 L508.71 64.32 L509.04 63.96 L509.37 63.62 L509.70 63.30 L510.04 62.99 L510.39 62.69 L510.73 62.41 L511.07 62.14 L511.41 61.88 L511.76 61.63 L512.10 61.40 L512.43 61.19 L512.76 60.99 L513.09 60.80 L513.41 60.62 L513.74 60.44 L514.07 60.27 L514.40 60.10 L514.74 59.93 L515.07 59.77 L515.41 59.61 L515.74 59.45 L516.08 59.30 L516.41 59.15 L516.75 59.00 L517.09 58.86 L517.42 58.71 L517.76 58.57 L518.09 58.43 L518.43 58.28 L518.76 58.14 L519.10 58.00 L519.44 57.86 L519.77 57.71 L520.11 57.57 L520.44 57.43 L520.78 57.28 L521.11 57.14 L521.45 57.00 L521.79 56.86 L522.12 56.73 L522.46 56.59 L522.79 56.46 L523.13 56.34 L523.46 56.22 L523.80 56.10 L524.14 55.99 L524.49 55.87 L524.83 55.77 L525.17 55.66 L525.51 55.56 L525.86 55.46 L526.20 55.36 L526.54 55.26 L526.89 55.17 L527.23 55.07 L527.57 54.98 L527.91 54.89 L528.26 54.79 L528.60 54.70 L528.94 54.61 L529.27 54.52 L529.61 54.44 L529.95 54.35 L530.28 54.27 L530.62 54.19 L530.96 54.10 L531.29 54.02 L531.63 53.94 L531.97 53.86 L532.31 53.78 L532.64 53.70 L532.98 53.62 L533.32 53.53 L533.65 53.45 L533.99 53.37 L534.33 53.28 L534.66 53.19 L535.00 53.10 L535.34 53.01 L535.68 52.91 L536.02 52.81 L536.35 52.71 L536.69 52.61 L537.03 52.51 L537.37 52.40 L537.71 52.30 L538.05 52.20 L538.38 52.10 L538.72 51.99 L539.06 51.90 L539.40 51.80 L539.74 51.70 L540.08 51.61 L540.42 51.52 L540.76 51.42 L541.10 51.33 L541.44 51.23 L541.77 51.14 L542.11 51.05 L542.45 50.95 L542.79 50.86 L543.13 50.77 L543.47 50.68 L543.81 50.59 L544.15 50.50 L544.49 50.41 L544.83 50.32 L545.17 50.23 L545.51 50.14 L545.85 50.05 L546.19 49.97 L546.52 49.88 L546.86 49.79 L547.20 49.71 L547.54 49.63 L547.88 49.54 L548.22 49.46 L548.56 49.38 L548.90 49.30 L549.25 49.22 L549.60 49.14 L549.94 49.06 L550.29 48.98 L550.64 48.90 L550.99 48.82 L551.34 48.74 L551.69 48.66 L552.03 48.59 L552.38 48.51 L552.73 48.43 L553.08 48.36 L553.43 48.28 L553.77 48.21 L554.12 48.14 L554.47 48.06 L554.82 47.99 L555.17 47.92 L555.51 47.85 L555.86 47.78 L556.21 47.71 L556.56 47.64 L556.91 47.57 L557.26 47.50 L557.60 47.43 L557.95 47.37 L558.30 47.30 L558.65 47.23 L559.00 47.17 L559.34 47.10 L559.69 47.04 L560.04 46.98 L560.39 46.91 L560.74 46.85 L561.09 46.79 L561.43 46.73 L561.78 46.67 L562.13 46.61 L562.48 46.55 L562.83 46.49 L563.17 46.43 L563.52 46.37 L563.87 46.31 L564.22 46.25 L564.57 46.19 L564.91 46.14 L565.26 46.08 L565.61 46.03 L565.96 45.97 L566.31 45.92 L566.66 45.86 L567.00 45.81 L567.35 45.75 L567.70 45.70 L568.04 45.65 L568.38 45.60 L568.72 45.55 L569.06 45.50 L569.40 45.45 L569.74 45.40 L570.08 45.35 L570.41 45.30 L570.75 45.26 L571.09 45.21 L571.43 45.16 L571.77 45.11 L572.11 45.07 L572.45 45.02 L572.79 44.98 L573.13 44.93 L573.47 44.89 L573.81 44.84 L574.15 44.80 L574.49 44.75 L574.83 44.71 L575.16 44.66 L575.50 44.62 L575.84 44.58 L576.18 44.53 L576.52 44.49 L576.86 44.44 L577.20 44.40 L577.54 44.36 L577.88 44.31 L578.22 44.27 L578.57 44.23 L578.91 44.18 L579.25 44.14 L579.59 44.10 L579.93 44.05 L580.27 44.01 L580.61 43.97 L580.96 43.93 L581.30 43.89 L581.64 43.84 L581.98 43.80 L582.32 43.76 L582.66 43.72 L583.00 43.68 L583.34 43.64 L583.69 43.60 L584.03 43.56 L584.37 43.52 L584.71 43.48 L585.05 43.44 L585.39 43.40 L585.73 43.36 L586.08 43.32 L586.42 43.28 L586.76 43.24 L587.10 43.20" fill="none" stroke="#7434a4" stroke-width="1.25" stroke-linejoin="round" stroke-linecap="round" clip-path="url(#c10)"/>
<path d="M399.40 85.70 L399.75 85.70 L400.10 85.69 L400.44 85.69 L400.79 85.68 L401.14 85.68 L401.49 85.67 L401.83 85.67 L402.18 85.66 L402.53 85.65 L402.88 85.64 L403.23 85.63 L403.57 85.62 L403.92 85.61 L404.27 85.60 L404.62 85.59 L404.97 85.58 L405.31 85.57 L405.66 85.56 L406.01 85.55 L406.36 85.54 L406.70 85.52 L407.05 85.51 L407.40 85.50 L407.74 85.49 L408.08 85.47 L408.42 85.46 L408.76 85.44 L409.10 85.42 L409.44 85.41 L409.77 85.39 L410.11 85.37 L410.45 85.35 L410.79 85.32 L411.13 85.30 L411.47 85.28 L411.81 85.26 L412.15 85.23 L412.49 85.21 L412.83 85.19 L413.17 85.16 L413.51 85.14 L413.85 85.11 L414.19 85.09 L414.52 85.06 L414.86 85.04 L415.20 85.01 L415.54 84.99 L415.88 84.97 L416.22 84.94 L416.56 84.92 L416.90 84.90 L417.25 84.88 L417.60 84.86 L417.94 84.84 L418.29 84.81 L418.64 84.79 L418.99 84.77 L419.34 84.75 L419.69 84.73 L420.03 84.71 L420.38 84.69 L420.73 84.67 L421.08 84.65 L421.43 84.63 L421.77 84.61 L422.12 84.59 L422.47 84.57 L422.82 84.54 L423.17 84.52 L423.51 84.50 L423.86 84.48 L424.21 84.45 L424.56 84.43 L424.91 84.41 L425.26 84.38 L425.60 84.35 L425.95 84.33 L426.30 84.30 L426.65 84.27 L427.00 84.24 L427.34 84.21 L427.69 84.18 L428.04 84.15 L428.39 84.12 L428.74 84.08 L429.09 84.05 L429.43 84.02 L429.78 83.98 L430.13 83.94 L430.48 83.91 L430.83 83.87 L431.17 83.83 L431.52 83.79 L431.87 83.76 L432.22 83.72 L432.57 83.68 L432.91 83.64 L433.26 83.59 L433.61 83.55 L433.96 83.51 L434.31 83.47 L434.66 83.43 L435.00 83.39 L435.35 83.34 L435.70 83.30 L436.04 83.26 L436.38 83.21 L436.72 83.17 L437.06 83.13 L437.40 83.08 L437.74 83.03 L438.07 82.99 L438.41 82.94 L438.75 82.89 L439.09 82.84 L439.43 82.79 L439.77 82.74 L440.11 82.69 L440.45 82.64 L440.79 82.59 L441.13 82.53 L441.47 82.48 L441.81 82.43 L442.15 82.38 L442.49 82.32 L442.82 82.27 L443.16 82.22 L443.50 82.16 L443.84 82.11 L444.18 82.06 L444.52 82.01 L444.86 81.95 L445.20 81.90 L445.54 81.85 L445.88 81.80 L446.21 81.74 L446.55 81.69 L446.89 81.64 L447.23 81.59 L447.57 81.54 L447.90 81.49 L448.24 81.44 L448.58 81.39 L448.92 81.33 L449.26 81.28 L449.59 81.23 L449.93 81.18 L450.27 81.12 L450.61 81.07 L450.94 81.02 L451.28 80.96 L451.62 80.91 L451.96 80.85 L452.30 80.79 L452.63 80.73 L452.97 80.68 L453.31 80.62 L453.65 80.56 L453.99 80.49 L454.32 80.43 L454.66 80.37 L455.00 80.30 L455.33 80.23 L455.66 80.16 L455.99 80.09 L456.33 80.02 L456.66 79.95 L456.99 79.87 L457.32 79.79 L457.65 79.71 L457.98 79.63 L458.32 79.55 L458.65 79.47 L458.98 79.38 L459.31 79.30 L459.64 79.22 L459.97 79.13 L460.31 79.05 L460.64 78.96 L460.97 78.88 L461.30 78.80 L461.63 78.72 L461.96 78.64 L462.29 78.56 L462.63 78.48 L462.96 78.40 L463.29 78.32 L463.62 78.24 L463.95 78.16 L464.28 78.08 L464.62 78.00 L464.95 77.91 L465.28 77.83 L465.61 77.75 L465.94 77.66 L466.27 77.57 L466.61 77.48 L466.94 77.39 L467.27 77.30 L467.60 77.20 L467.95 77.10 L468.30 76.99 L468.65 76.88 L469.00 76.77 L469.35 76.66 L469.70 76.55 L470.05 76.43 L470.40 76.31 L470.75 76.19 L471.10 76.07 L471.45 75.95 L471.80 75.82 L472.15 75.69 L472.50 75.56 L472.85 75.42 L473.20 75.28 L473.55 75.14 L473.90 75.00 L474.23 74.86 L474.56 74.72 L474.89 74.57 L475.23 74.43 L475.56 74.27 L475.89 74.12 L476.22 73.96 L476.55 73.80 L476.88 73.64 L477.22 73.47 L477.55 73.30 L477.88 73.12 L478.21 72.94 L478.54 72.76 L478.87 72.58 L479.21 72.39 L479.54 72.20 L479.87 72.00 L480.20 71.80 L480.53 71.59 L480.87 71.38 L481.20 71.15 L481.53 70.92 L481.87 70.68 L482.20 70.44 L482.53 70.19 L482.87 69.94 L483.20 69.68 L483.53 69.42 L483.87 69.16 L484.20 68.89 L484.53 68.63 L484.87 68.36 L485.20 68.10 L485.55 67.82 L485.89 67.52 L486.24 67.21 L486.58 66.89 L486.93 66.57 L487.27 66.25 L487.62 65.95 L487.96 65.65 L488.31 65.38 L488.65 65.12 L489.00 64.90 L489.30 64.70 L489.60 64.51 L489.90 64.36 L490.20 64.30 L490.52 64.45 L490.85 64.86 L491.18 65.47 L491.50 66.20 L491.80 67.46 L492.10 69.47 L492.40 71.72 L492.70 73.70 L493.05 75.99 L493.40 77.30 L493.67 76.30 L493.93 74.12 L494.20 72.00 L494.53 69.67 L494.87 67.40 L495.20 66.00 L495.52 65.37 L495.85 64.86 L496.18 64.52 L496.50 64.40 L496.81 64.45 L497.12 64.58 L497.44 64.77 L497.75 65.01 L498.06 65.28 L498.38 65.57 L498.69 65.84 L499.00 66.10 L499.33 66.36 L499.66 66.63 L499.99 66.92 L500.32 67.22 L500.65 67.52 L500.98 67.82 L501.31 68.12 L501.64 68.42 L501.97 68.72 L502.30 69.00 L502.64 69.29 L502.98 69.58 L503.32 69.87 L503.67 70.16 L504.01 70.44 L504.35 70.73 L504.69 71.00 L505.03 71.28 L505.38 71.55 L505.72 71.81 L506.06 72.06 L506.40 72.30 L506.74 72.54 L507.08 72.77 L507.42 73.00 L507.77 73.22 L508.11 73.44 L508.45 73.65 L508.79 73.86 L509.13 74.06 L509.48 74.26 L509.82 74.45 L510.16 74.63 L510.50 74.80 L510.85 74.97 L511.19 75.14 L511.54 75.30 L511.88 75.46 L512.23 75.62 L512.58 75.78 L512.92 75.93 L513.27 76.08 L513.61 76.23 L513.96 76.38 L514.30 76.52 L514.65 76.66 L515.00 76.80 L515.34 76.93 L515.69 77.06 L516.03 77.19 L516.38 77.32 L516.72 77.44 L517.07 77.56 L517.42 77.67 L517.76 77.78 L518.11 77.89 L518.45 78.00 L518.80 78.10 L519.15 78.20 L519.49 78.30 L519.84 78.39 L520.18 78.49 L520.53 78.58 L520.88 78.67 L521.22 78.76 L521.57 78.85 L521.91 78.93 L522.26 79.02 L522.60 79.10 L522.95 79.18 L523.30 79.26 L523.64 79.33 L523.99 79.41 L524.33 79.48 L524.68 79.55 L525.02 79.62 L525.37 79.69 L525.72 79.76 L526.06 79.82 L526.41 79.88 L526.75 79.94 L527.10 80.00 L527.42 80.05 L527.74 80.10 L528.07 80.14 L528.39 80.19 L528.71 80.23 L529.03 80.27 L529.36 80.31 L529.68 80.35 L530.00 80.40 L530.35 80.45 L530.70 80.51 L531.04 80.56 L531.39 80.62 L531.74 80.68 L532.09 80.74 L532.44 80.80 L532.79 80.86 L533.13 80.92 L533.48 80.98 L533.83 81.05 L534.18 81.11 L534.53 81.17 L534.87 81.24 L535.22 81.30 L535.57 81.36 L535.92 81.43 L536.27 81.49 L536.61 81.55 L536.96 81.61 L537.31 81.67 L537.66 81.73 L538.01 81.78 L538.36 81.84 L538.70 81.90 L539.05 81.95 L539.40 82.00 L539.74 82.05 L540.08 82.10 L540.42 82.14 L540.76 82.19 L541.10 82.24 L541.44 82.28 L541.77 82.33 L542.11 82.37 L542.45 82.42 L542.79 82.46 L543.13 82.51 L543.47 82.55 L543.81 82.59 L544.15 82.64 L544.49 82.68 L544.83 82.72 L545.17 82.76 L545.51 82.80 L545.85 82.84 L546.19 82.88 L546.52 82.92 L546.86 82.96 L547.20 83.00 L547.54 83.04 L547.88 83.08 L548.22 83.12 L548.56 83.16 L548.90 83.20 L549.25 83.24 L549.60 83.28 L549.94 83.32 L550.29 83.36 L550.64 83.40 L550.99 83.44 L551.34 83.48 L551.69 83.52 L552.03 83.56 L552.38 83.60 L552.73 83.64 L553.08 83.68 L553.43 83.72 L553.77 83.76 L554.12 83.80 L554.47 83.84 L554.82 83.87 L555.17 83.91 L555.51 83.95 L555.86 83.98 L556.21 84.01 L556.56 84.05 L556.91 84.08 L557.26 84.11 L557.60 84.14 L557.95 84.17 L558.30 84.20 L558.65 84.23 L559.00 84.25 L559.34 84.28 L559.69 84.31 L560.04 84.33 L560.39 84.36 L560.74 84.38 L561.09 84.40 L561.43 84.43 L561.78 84.45 L562.13 84.47 L562.48 84.49 L562.83 84.52 L563.17 84.54 L563.52 84.56 L563.87 84.58 L564.22 84.60 L564.57 84.62 L564.91 84.64 L565.26 84.66 L565.61 84.68 L565.96 84.70 L566.31 84.72 L566.66 84.74 L567.00 84.76 L567.35 84.78 L567.70 84.80 L568.04 84.82 L568.38 84.84 L568.72 84.86 L569.06 84.88 L569.40 84.90 L569.74 84.92 L570.08 84.94 L570.41 84.96 L570.75 84.98 L571.09 85.00 L571.43 85.02 L571.77 85.04 L572.11 85.06 L572.45 85.08 L572.79 85.10 L573.13 85.12 L573.47 85.14 L573.81 85.16 L574.15 85.17 L574.49 85.19 L574.83 85.21 L575.16 85.22 L575.50 85.24 L575.84 85.25 L576.18 85.27 L576.52 85.28 L576.86 85.29 L577.20 85.30 L577.55 85.31 L577.90 85.32 L578.24 85.33 L578.59 85.34 L578.94 85.35 L579.29 85.36 L579.64 85.37 L579.99 85.38 L580.33 85.39 L580.68 85.40 L581.03 85.41 L581.38 85.42 L581.73 85.42 L582.07 85.43 L582.42 85.44 L582.77 85.45 L583.12 85.45 L583.47 85.46 L583.81 85.47 L584.16 85.47 L584.51 85.48 L584.86 85.48 L585.21 85.49 L585.56 85.49 L585.90 85.49 L586.25 85.50 L586.60 85.50" fill="none" stroke="#00893c" stroke-width="1.25" stroke-linejoin="round" stroke-linecap="round" clip-path="url(#c10)"/>
<path d="M399.50 125.70 L399.84 125.70 L400.19 125.70 L400.53 125.70 L400.87 125.71 L401.22 125.71 L401.56 125.72 L401.91 125.72 L402.25 125.73 L402.59 125.74 L402.94 125.74 L403.28 125.75 L403.62 125.76 L403.97 125.77 L404.31 125.78 L404.65 125.80 L405.00 125.81 L405.34 125.82 L405.68 125.83 L406.03 125.85 L406.37 125.86 L406.72 125.88 L407.06 125.89 L407.40 125.91 L407.75 125.92 L408.09 125.94 L408.43 125.96 L408.78 125.97 L409.12 125.99 L409.46 126.01 L409.81 126.03 L410.15 126.05 L410.49 126.06 L410.84 126.08 L411.18 126.10 L411.53 126.12 L411.87 126.14 L412.21 126.16 L412.56 126.18 L412.90 126.20 L413.25 126.22 L413.59 126.24 L413.94 126.27 L414.29 126.29 L414.63 126.32 L414.98 126.35 L415.33 126.38 L415.67 126.41 L416.02 126.44 L416.37 126.47 L416.71 126.51 L417.06 126.55 L417.40 126.58 L417.75 126.62 L418.10 126.66 L418.44 126.70 L418.79 126.74 L419.14 126.79 L419.48 126.83 L419.83 126.88 L420.18 126.92 L420.52 126.97 L420.87 127.02 L421.22 127.07 L421.56 127.11 L421.91 127.16 L422.26 127.22 L422.60 127.27 L422.95 127.32 L423.30 127.37 L423.64 127.43 L423.99 127.48 L424.33 127.53 L424.68 127.59 L425.03 127.64 L425.37 127.70 L425.72 127.76 L426.07 127.81 L426.41 127.87 L426.76 127.93 L427.11 127.98 L427.45 128.04 L427.80 128.10 L428.15 128.16 L428.49 128.22 L428.84 128.28 L429.19 128.35 L429.53 128.41 L429.88 128.48 L430.23 128.55 L430.57 128.62 L430.92 128.69 L431.27 128.76 L431.61 128.84 L431.96 128.91 L432.30 128.99 L432.65 129.07 L433.00 129.15 L433.34 129.23 L433.69 129.31 L434.04 129.39 L434.38 129.48 L434.73 129.56 L435.08 129.65 L435.42 129.74 L435.77 129.83 L436.12 129.91 L436.46 130.00 L436.81 130.09 L437.16 130.18 L437.50 130.28 L437.85 130.37 L438.20 130.46 L438.54 130.55 L438.89 130.65 L439.23 130.74 L439.58 130.84 L439.93 130.93 L440.27 131.03 L440.62 131.12 L440.97 131.22 L441.31 131.32 L441.66 131.41 L442.01 131.51 L442.35 131.60 L442.70 131.70 L443.05 131.80 L443.40 131.90 L443.75 132.00 L444.10 132.10 L444.44 132.20 L444.79 132.30 L445.14 132.40 L445.49 132.51 L445.84 132.61 L446.19 132.72 L446.54 132.82 L446.89 132.93 L447.23 133.04 L447.58 133.15 L447.93 133.26 L448.28 133.37 L448.63 133.48 L448.98 133.60 L449.33 133.71 L449.68 133.82 L450.03 133.94 L450.37 134.05 L450.72 134.17 L451.07 134.28 L451.42 134.40 L451.77 134.52 L452.12 134.64 L452.47 134.76 L452.82 134.88 L453.17 135.00 L453.51 135.12 L453.86 135.24 L454.21 135.36 L454.56 135.48 L454.91 135.60 L455.26 135.73 L455.61 135.85 L455.96 135.98 L456.30 136.10 L456.65 136.22 L457.00 136.35 L457.35 136.47 L457.70 136.60 L458.05 136.73 L458.39 136.85 L458.74 136.98 L459.09 137.10 L459.43 137.23 L459.78 137.36 L460.13 137.49 L460.47 137.62 L460.82 137.75 L461.17 137.88 L461.51 138.01 L461.86 138.14 L462.20 138.27 L462.55 138.41 L462.90 138.54 L463.24 138.68 L463.59 138.81 L463.94 138.95 L464.28 139.08 L464.63 139.22 L464.98 139.36 L465.32 139.50 L465.67 139.64 L466.02 139.78 L466.36 139.92 L466.71 140.06 L467.06 140.20 L467.40 140.35 L467.75 140.49 L468.10 140.64 L468.44 140.78 L468.79 140.93 L469.13 141.08 L469.48 141.23 L469.83 141.37 L470.17 141.52 L470.52 141.68 L470.87 141.83 L471.21 141.98 L471.56 142.13 L471.91 142.29 L472.25 142.44 L472.60 142.60 L472.94 142.76 L473.28 142.91 L473.63 143.07 L473.97 143.23 L474.31 143.40 L474.65 143.56 L475.00 143.73 L475.34 143.90 L475.68 144.07 L476.02 144.24 L476.37 144.41 L476.71 144.58 L477.05 144.76 L477.39 144.93 L477.73 145.11 L478.08 145.29 L478.42 145.46 L478.76 145.64 L479.10 145.82 L479.45 146.00 L479.79 146.19 L480.13 146.37 L480.47 146.55 L480.82 146.73 L481.16 146.92 L481.50 147.10 L481.83 147.28 L482.17 147.47 L482.50 147.66 L482.83 147.86 L483.17 148.06 L483.50 148.26 L483.83 148.46 L484.17 148.66 L484.50 148.86 L484.83 149.06 L485.17 149.26 L485.50 149.45 L485.83 149.64 L486.17 149.83 L486.50 150.01 L486.83 150.18 L487.17 150.34 L487.50 150.50 L487.83 150.66 L488.17 150.84 L488.50 151.01 L488.83 151.16 L489.17 151.26 L489.50 151.30 L489.77 151.25 L490.05 151.10 L490.33 150.88 L490.60 150.60 L490.93 149.80 L491.27 148.44 L491.60 147.00 L491.90 145.66 L492.20 144.22 L492.50 143.00 L492.77 142.03 L493.03 141.17 L493.30 140.80 L493.57 141.16 L493.83 142.01 L494.10 143.00 L494.40 144.40 L494.70 146.08 L495.00 147.50 L495.32 148.73 L495.65 149.89 L495.98 150.76 L496.30 151.10 L496.60 151.05 L496.90 150.92 L497.20 150.76 L497.50 150.60 L497.85 150.43 L498.20 150.25 L498.55 150.06 L498.90 149.87 L499.25 149.67 L499.60 149.46 L499.95 149.25 L500.30 149.03 L500.65 148.82 L501.00 148.60 L501.34 148.39 L501.68 148.16 L502.02 147.93 L502.35 147.70 L502.69 147.46 L503.03 147.22 L503.37 146.98 L503.71 146.74 L504.05 146.50 L504.38 146.27 L504.72 146.04 L505.06 145.82 L505.40 145.60 L505.75 145.38 L506.09 145.17 L506.44 144.96 L506.78 144.75 L507.13 144.54 L507.48 144.34 L507.82 144.14 L508.17 143.94 L508.52 143.74 L508.86 143.55 L509.21 143.36 L509.55 143.18 L509.90 143.00 L510.24 142.83 L510.58 142.66 L510.92 142.49 L511.26 142.32 L511.60 142.16 L511.95 142.00 L512.29 141.84 L512.63 141.68 L512.97 141.53 L513.31 141.37 L513.65 141.22 L513.99 141.07 L514.33 140.92 L514.67 140.77 L515.01 140.62 L515.35 140.48 L515.70 140.33 L516.04 140.18 L516.38 140.04 L516.72 139.89 L517.06 139.75 L517.40 139.60 L517.74 139.46 L518.07 139.31 L518.41 139.17 L518.75 139.02 L519.08 138.88 L519.42 138.73 L519.75 138.59 L520.09 138.45 L520.43 138.31 L520.76 138.17 L521.10 138.03 L521.44 137.89 L521.77 137.75 L522.11 137.61 L522.45 137.48 L522.78 137.35 L523.12 137.22 L523.45 137.09 L523.79 136.96 L524.13 136.84 L524.46 136.72 L524.80 136.60 L525.15 136.48 L525.49 136.36 L525.84 136.24 L526.19 136.13 L526.53 136.01 L526.88 135.90 L527.23 135.78 L527.57 135.67 L527.92 135.56 L528.27 135.45 L528.61 135.34 L528.96 135.23 L529.30 135.12 L529.65 135.01 L530.00 134.91 L530.34 134.80 L530.69 134.70 L531.04 134.59 L531.38 134.49 L531.73 134.39 L532.08 134.29 L532.42 134.19 L532.77 134.09 L533.12 133.99 L533.46 133.89 L533.81 133.79 L534.16 133.69 L534.50 133.60 L534.85 133.50 L535.20 133.40 L535.54 133.31 L535.89 133.21 L536.23 133.12 L536.58 133.03 L536.93 132.93 L537.27 132.84 L537.62 132.75 L537.97 132.66 L538.31 132.56 L538.66 132.47 L539.01 132.38 L539.35 132.29 L539.70 132.20 L540.05 132.11 L540.40 132.02 L540.75 131.93 L541.10 131.84 L541.44 131.75 L541.79 131.65 L542.14 131.56 L542.49 131.47 L542.84 131.38 L543.19 131.29 L543.54 131.20 L543.89 131.12 L544.23 131.03 L544.58 130.94 L544.93 130.85 L545.28 130.76 L545.63 130.68 L545.98 130.59 L546.33 130.50 L546.68 130.42 L547.03 130.33 L547.37 130.25 L547.72 130.17 L548.07 130.08 L548.42 130.00 L548.77 129.92 L549.12 129.84 L549.47 129.76 L549.82 129.68 L550.17 129.60 L550.51 129.53 L550.86 129.45 L551.21 129.38 L551.56 129.31 L551.91 129.23 L552.26 129.16 L552.61 129.09 L552.96 129.02 L553.30 128.96 L553.65 128.89 L554.00 128.83 L554.35 128.76 L554.70 128.70 L555.05 128.64 L555.39 128.58 L555.74 128.52 L556.09 128.46 L556.43 128.40 L556.78 128.34 L557.13 128.28 L557.47 128.22 L557.82 128.16 L558.17 128.10 L558.51 128.04 L558.86 127.99 L559.20 127.93 L559.55 127.87 L559.90 127.82 L560.24 127.76 L560.59 127.71 L560.94 127.65 L561.28 127.60 L561.63 127.54 L561.98 127.49 L562.32 127.44 L562.67 127.39 L563.02 127.34 L563.36 127.29 L563.71 127.24 L564.06 127.20 L564.40 127.15 L564.75 127.11 L565.10 127.06 L565.44 127.02 L565.79 126.98 L566.13 126.94 L566.48 126.90 L566.83 126.86 L567.17 126.82 L567.52 126.79 L567.87 126.75 L568.21 126.72 L568.56 126.69 L568.91 126.66 L569.25 126.63 L569.60 126.60 L569.95 126.57 L570.30 126.55 L570.65 126.52 L571.00 126.49 L571.34 126.47 L571.69 126.44 L572.04 126.41 L572.39 126.39 L572.74 126.36 L573.09 126.33 L573.44 126.31 L573.79 126.28 L574.14 126.26 L574.49 126.23 L574.83 126.21 L575.18 126.19 L575.53 126.16 L575.88 126.14 L576.23 126.12 L576.58 126.09 L576.93 126.07 L577.28 126.05 L577.63 126.03 L577.98 126.01 L578.32 125.99 L578.67 125.97 L579.02 125.95 L579.37 125.93 L579.72 125.91 L580.07 125.89 L580.42 125.88 L580.77 125.86 L581.12 125.84 L581.47 125.83 L581.81 125.81 L582.16 125.80 L582.51 125.79 L582.86 125.78 L583.21 125.77 L583.56 125.75 L583.91 125.75 L584.26 125.74 L584.61 125.73 L584.96 125.72 L585.30 125.72 L585.65 125.71 L586.00 125.71 L586.35 125.70 L586.70 125.70" fill="none" stroke="#00893c" stroke-width="1.25" stroke-linejoin="round" stroke-linecap="round" clip-path="url(#c11)"/>
<path d="M399.50 162.00 L399.84 162.01 L400.19 162.03 L400.53 162.04 L400.87 162.06 L401.22 162.07 L401.56 162.09 L401.91 162.11 L402.25 162.12 L402.59 162.14 L402.94 162.15 L403.28 162.17 L403.62 162.19 L403.97 162.20 L404.31 162.22 L404.65 162.24 L405.00 162.26 L405.34 162.27 L405.68 162.29 L406.03 162.31 L406.37 162.33 L406.72 162.35 L407.06 162.36 L407.40 162.38 L407.75 162.40 L408.09 162.42 L408.43 162.44 L408.78 162.46 L409.12 162.48 L409.46 162.50 L409.81 162.52 L410.15 162.54 L410.49 162.56 L410.84 162.58 L411.18 162.60 L411.53 162.62 L411.87 162.64 L412.21 162.66 L412.56 162.68 L412.90 162.70 L413.25 162.72 L413.59 162.74 L413.94 162.77 L414.29 162.79 L414.63 162.81 L414.98 162.84 L415.33 162.86 L415.67 162.88 L416.02 162.91 L416.37 162.93 L416.71 162.96 L417.06 162.99 L417.40 163.01 L417.75 163.04 L418.10 163.06 L418.44 163.09 L418.79 163.12 L419.14 163.14 L419.48 163.17 L419.83 163.20 L420.18 163.23 L420.52 163.25 L420.87 163.28 L421.22 163.31 L421.56 163.34 L421.91 163.36 L422.26 163.39 L422.60 163.42 L422.95 163.44 L423.30 163.47 L423.64 163.50 L423.99 163.52 L424.33 163.55 L424.68 163.58 L425.03 163.60 L425.37 163.63 L425.72 163.65 L426.07 163.68 L426.41 163.70 L426.76 163.73 L427.11 163.75 L427.45 163.78 L427.80 163.80 L428.15 163.82 L428.49 163.85 L428.84 163.87 L429.19 163.89 L429.53 163.91 L429.88 163.94 L430.23 163.96 L430.57 163.98 L430.92 164.00 L431.27 164.03 L431.61 164.05 L431.96 164.07 L432.30 164.09 L432.65 164.11 L433.00 164.14 L433.34 164.16 L433.69 164.18 L434.04 164.20 L434.38 164.22 L434.73 164.24 L435.08 164.27 L435.42 164.29 L435.77 164.31 L436.12 164.33 L436.46 164.35 L436.81 164.37 L437.16 164.39 L437.50 164.41 L437.85 164.43 L438.20 164.45 L438.54 164.47 L438.89 164.49 L439.23 164.51 L439.58 164.53 L439.93 164.55 L440.27 164.57 L440.62 164.59 L440.97 164.61 L441.31 164.63 L441.66 164.64 L442.01 164.66 L442.35 164.68 L442.70 164.70 L443.05 164.72 L443.40 164.74 L443.75 164.75 L444.10 164.77 L444.44 164.79 L444.79 164.81 L445.14 164.82 L445.49 164.84 L445.84 164.86 L446.19 164.87 L446.54 164.89 L446.89 164.91 L447.23 164.92 L447.58 164.94 L447.93 164.95 L448.28 164.97 L448.63 164.99 L448.98 165.00 L449.33 165.02 L449.68 165.03 L450.03 165.05 L450.37 165.06 L450.72 165.08 L451.07 165.09 L451.42 165.11 L451.77 165.12 L452.12 165.14 L452.47 165.16 L452.82 165.17 L453.17 165.19 L453.51 165.20 L453.86 165.22 L454.21 165.23 L454.56 165.25 L454.91 165.27 L455.26 165.28 L455.61 165.30 L455.96 165.32 L456.30 165.33 L456.65 165.35 L457.00 165.37 L457.35 165.38 L457.70 165.40 L458.05 165.42 L458.39 165.43 L458.74 165.45 L459.09 165.47 L459.43 165.49 L459.78 165.50 L460.13 165.52 L460.47 165.54 L460.82 165.56 L461.17 165.57 L461.51 165.59 L461.86 165.61 L462.20 165.63 L462.55 165.65 L462.90 165.66 L463.24 165.68 L463.59 165.70 L463.94 165.72 L464.28 165.73 L464.63 165.75 L464.98 165.77 L465.32 165.79 L465.67 165.81 L466.02 165.83 L466.36 165.85 L466.71 165.86 L467.06 165.88 L467.40 165.90 L467.75 165.92 L468.10 165.94 L468.44 165.96 L468.79 165.98 L469.13 166.00 L469.48 166.02 L469.83 166.04 L470.17 166.06 L470.52 166.08 L470.87 166.10 L471.21 166.12 L471.56 166.14 L471.91 166.16 L472.25 166.18 L472.60 166.20 L472.94 166.22 L473.28 166.24 L473.63 166.27 L473.97 166.29 L474.31 166.32 L474.65 166.35 L475.00 166.37 L475.34 166.40 L475.68 166.43 L476.02 166.46 L476.37 166.48 L476.71 166.51 L477.05 166.54 L477.39 166.57 L477.73 166.59 L478.08 166.62 L478.42 166.64 L478.76 166.67 L479.10 166.69 L479.45 166.71 L479.79 166.73 L480.13 166.75 L480.47 166.76 L480.82 166.78 L481.16 166.79 L481.50 166.80 L481.83 166.81 L482.17 166.82 L482.50 166.83 L482.83 166.83 L483.17 166.84 L483.50 166.85 L483.83 166.86 L484.17 166.86 L484.50 166.87 L484.83 166.88 L485.17 166.88 L485.50 166.89 L485.83 166.89 L486.17 166.89 L486.50 166.90 L486.83 166.90 L487.17 166.90 L487.50 166.90 L487.83 166.89 L488.16 166.86 L488.49 166.82 L488.81 166.76 L489.14 166.68 L489.47 166.60 L489.80 166.50 L490.15 166.33 L490.50 166.04 L490.85 165.66 L491.20 165.20 L491.50 164.69 L491.80 163.99 L492.10 163.07 L492.40 161.92 L492.70 160.50 L493.00 157.92 L493.30 154.04 L493.60 150.00 L493.90 146.02 L494.20 141.85 L494.50 138.00 L494.77 134.70 L495.03 131.60 L495.30 129.50 L495.63 127.93 L495.97 126.76 L496.30 126.30 L496.60 126.47 L496.90 126.91 L497.20 127.50 L497.47 128.46 L497.73 129.91 L498.00 131.40 L498.30 133.06 L498.60 134.86 L498.90 136.65 L499.20 138.28 L499.50 139.60 L499.81 140.72 L500.13 141.76 L500.44 142.71 L500.76 143.57 L501.07 144.34 L501.39 145.02 L501.70 145.60 L502.04 146.16 L502.37 146.68 L502.71 147.16 L503.05 147.61 L503.38 148.03 L503.72 148.42 L504.05 148.78 L504.39 149.12 L504.73 149.43 L505.06 149.73 L505.40 150.00 L505.75 150.27 L506.09 150.52 L506.44 150.76 L506.78 150.98 L507.13 151.20 L507.48 151.41 L507.82 151.60 L508.17 151.79 L508.52 151.96 L508.86 152.13 L509.21 152.30 L509.55 152.45 L509.90 152.60 L510.24 152.74 L510.58 152.88 L510.92 153.01 L511.26 153.14 L511.60 153.26 L511.95 153.38 L512.29 153.50 L512.63 153.61 L512.97 153.72 L513.31 153.83 L513.65 153.94 L513.99 154.04 L514.33 154.14 L514.67 154.24 L515.01 154.34 L515.35 154.43 L515.70 154.53 L516.04 154.62 L516.38 154.72 L516.72 154.81 L517.06 154.91 L517.40 155.00 L517.74 155.09 L518.07 155.19 L518.41 155.28 L518.75 155.37 L519.08 155.46 L519.42 155.55 L519.75 155.64 L520.09 155.72 L520.43 155.81 L520.76 155.90 L521.10 155.98 L521.44 156.06 L521.77 156.15 L522.11 156.23 L522.45 156.30 L522.78 156.38 L523.12 156.46 L523.45 156.53 L523.79 156.60 L524.13 156.67 L524.46 156.74 L524.80 156.80 L525.15 156.87 L525.49 156.93 L525.84 156.99 L526.19 157.06 L526.53 157.12 L526.88 157.18 L527.23 157.24 L527.57 157.30 L527.92 157.36 L528.27 157.42 L528.61 157.48 L528.96 157.54 L529.30 157.60 L529.65 157.65 L530.00 157.71 L530.34 157.77 L530.69 157.82 L531.04 157.87 L531.38 157.93 L531.73 157.98 L532.08 158.03 L532.42 158.08 L532.77 158.13 L533.12 158.18 L533.46 158.23 L533.81 158.28 L534.16 158.33 L534.50 158.38 L534.85 158.42 L535.20 158.47 L535.54 158.52 L535.89 158.56 L536.23 158.60 L536.58 158.65 L536.93 158.69 L537.27 158.73 L537.62 158.77 L537.97 158.81 L538.31 158.85 L538.66 158.89 L539.01 158.93 L539.35 158.96 L539.70 159.00 L540.05 159.04 L540.40 159.07 L540.75 159.11 L541.10 159.14 L541.44 159.17 L541.79 159.21 L542.14 159.24 L542.49 159.27 L542.84 159.30 L543.19 159.33 L543.54 159.36 L543.89 159.39 L544.23 159.42 L544.58 159.45 L544.93 159.48 L545.28 159.51 L545.63 159.54 L545.98 159.56 L546.33 159.59 L546.68 159.62 L547.03 159.64 L547.37 159.67 L547.72 159.70 L548.07 159.72 L548.42 159.75 L548.77 159.77 L549.12 159.80 L549.47 159.83 L549.82 159.85 L550.17 159.88 L550.51 159.90 L550.86 159.93 L551.21 159.95 L551.56 159.97 L551.91 160.00 L552.26 160.02 L552.61 160.05 L552.96 160.07 L553.30 160.10 L553.65 160.12 L554.00 160.15 L554.35 160.17 L554.70 160.20 L555.05 160.23 L555.39 160.25 L555.74 160.28 L556.09 160.30 L556.43 160.33 L556.78 160.35 L557.13 160.38 L557.47 160.40 L557.82 160.43 L558.17 160.45 L558.51 160.48 L558.86 160.50 L559.20 160.53 L559.55 160.55 L559.90 160.58 L560.24 160.60 L560.59 160.62 L560.94 160.65 L561.28 160.67 L561.63 160.70 L561.98 160.72 L562.32 160.74 L562.67 160.77 L563.02 160.79 L563.36 160.82 L563.71 160.84 L564.06 160.86 L564.40 160.88 L564.75 160.91 L565.10 160.93 L565.44 160.95 L565.79 160.97 L566.13 161.00 L566.48 161.02 L566.83 161.04 L567.17 161.06 L567.52 161.08 L567.87 161.10 L568.21 161.12 L568.56 161.14 L568.91 161.16 L569.25 161.18 L569.60 161.20 L569.95 161.22 L570.30 161.24 L570.65 161.26 L571.00 161.28 L571.34 161.30 L571.69 161.31 L572.04 161.33 L572.39 161.35 L572.74 161.37 L573.09 161.39 L573.44 161.41 L573.79 161.42 L574.14 161.44 L574.49 161.46 L574.83 161.48 L575.18 161.50 L575.53 161.51 L575.88 161.53 L576.23 161.55 L576.58 161.57 L576.93 161.58 L577.28 161.60 L577.63 161.62 L577.98 161.63 L578.32 161.65 L578.67 161.67 L579.02 161.68 L579.37 161.70 L579.72 161.71 L580.07 161.73 L580.42 161.75 L580.77 161.76 L581.12 161.78 L581.47 161.79 L581.81 161.81 L582.16 161.82 L582.51 161.84 L582.86 161.85 L583.21 161.87 L583.56 161.88 L583.91 161.89 L584.26 161.91 L584.61 161.92 L584.96 161.94 L585.30 161.95 L585.65 161.96 L586.00 161.97 L586.35 161.99 L586.70 162.00" fill="none" stroke="#7434a4" stroke-width="1.25" stroke-linejoin="round" stroke-linecap="round" clip-path="url(#c11)"/>
<path d="M440.50 258.00 L440.84 257.62 L441.18 257.25 L441.52 256.87 L441.86 256.50 L442.20 256.12 L442.55 255.75 L442.89 255.38 L443.23 255.01 L443.57 254.64 L443.91 254.28 L444.25 253.91 L444.59 253.55 L444.93 253.19 L445.27 252.83 L445.61 252.47 L445.95 252.11 L446.30 251.75 L446.64 251.40 L446.98 251.05 L447.32 250.70 L447.66 250.35 L448.00 250.00 L448.35 249.65 L448.70 249.30 L449.05 248.96 L449.39 248.62 L449.74 248.28 L450.09 247.95 L450.44 247.62 L450.79 247.29 L451.14 246.97 L451.48 246.64 L451.83 246.32 L452.18 246.00 L452.53 245.68 L452.88 245.36 L453.23 245.03 L453.57 244.71 L453.92 244.39 L454.27 244.07 L454.62 243.74 L454.97 243.41 L455.32 243.09 L455.66 242.75 L456.01 242.42 L456.36 242.08 L456.71 241.74 L457.06 241.40 L457.41 241.05 L457.75 240.69 L458.10 240.33 L458.45 239.97 L458.80 239.60 L459.14 239.24 L459.47 238.87 L459.81 238.49 L460.14 238.11 L460.48 237.73 L460.81 237.34 L461.15 236.94 L461.48 236.55 L461.82 236.15 L462.15 235.74 L462.49 235.34 L462.82 234.93 L463.16 234.52 L463.49 234.12 L463.83 233.71 L464.16 233.30 L464.50 232.90 L464.82 232.51 L465.15 232.11 L465.48 231.72 L465.80 231.32 L466.12 230.92 L466.45 230.52 L466.77 230.11 L467.10 229.71 L467.42 229.31 L467.75 228.91 L468.07 228.50 L468.40 228.10 L468.73 227.68 L469.06 227.24 L469.39 226.79 L469.72 226.33 L470.05 225.88 L470.38 225.44 L470.71 225.03 L471.04 224.64 L471.37 224.30 L471.70 224.00 L472.03 223.74 L472.36 223.50 L472.69 223.28 L473.02 223.08 L473.35 222.89 L473.68 222.71 L474.02 222.54 L474.35 222.36 L474.68 222.19 L475.01 222.01 L475.34 221.82 L475.67 221.62 L476.00 221.40 L476.34 221.16 L476.69 220.93 L477.03 220.68 L477.37 220.44 L477.71 220.18 L478.06 219.93 L478.40 219.66 L478.74 219.40 L479.09 219.12 L479.43 218.83 L479.77 218.54 L480.11 218.24 L480.46 217.92 L480.80 217.60 L481.14 217.27 L481.47 216.94 L481.81 216.59 L482.14 216.23 L482.48 215.86 L482.81 215.47 L483.15 215.08 L483.49 214.67 L483.82 214.24 L484.16 213.80 L484.49 213.35 L484.83 212.88 L485.16 212.40 L485.50 211.90 L485.82 211.39 L486.15 210.83 L486.48 210.24 L486.80 209.62 L487.12 208.97 L487.45 208.30 L487.77 207.62 L488.10 206.94 L488.42 206.24 L488.75 205.55 L489.07 204.87 L489.40 204.20 L489.71 203.47 L490.03 202.63 L490.34 201.76 L490.66 200.94 L490.97 200.25 L491.29 199.78 L491.60 199.60 L491.87 200.28 L492.13 201.83 L492.40 203.50 L492.63 205.24 L492.87 207.12 L493.10 208.00 L493.35 206.18 L493.60 203.50 L493.90 201.33 L494.20 200.20 L494.54 200.35 L494.87 200.78 L495.21 201.44 L495.55 202.26 L495.88 203.20 L496.22 204.22 L496.55 205.24 L496.89 206.24 L497.23 207.15 L497.56 207.92 L497.90 208.50 L498.23 208.95 L498.56 209.37 L498.89 209.76 L499.22 210.13 L499.56 210.48 L499.89 210.82 L500.22 211.13 L500.55 211.44 L500.88 211.73 L501.21 212.02 L501.54 212.30 L501.88 212.57 L502.21 212.85 L502.54 213.13 L502.87 213.41 L503.20 213.70 L503.55 214.00 L503.89 214.30 L504.24 214.59 L504.59 214.88 L504.94 215.16 L505.28 215.44 L505.63 215.72 L505.98 215.99 L506.33 216.26 L506.67 216.53 L507.02 216.79 L507.37 217.06 L507.72 217.33 L508.06 217.60 L508.41 217.88 L508.76 218.15 L509.11 218.43 L509.45 218.71 L509.80 219.00 L510.14 219.28 L510.47 219.56 L510.81 219.84 L511.15 220.13 L511.48 220.41 L511.82 220.70 L512.15 220.99 L512.49 221.28 L512.83 221.58 L513.16 221.89 L513.50 222.20 L513.82 222.50 L514.14 222.81 L514.46 223.13 L514.78 223.46 L515.10 223.80 L515.44 224.18 L515.79 224.56 L516.13 224.96 L516.47 225.37 L516.82 225.78 L517.16 226.20 L517.50 226.63 L517.85 227.06 L518.19 227.49 L518.53 227.93 L518.88 228.38 L519.22 228.82 L519.57 229.27 L519.91 229.71 L520.25 230.16 L520.60 230.60 L520.94 231.04 L521.28 231.48 L521.63 231.92 L521.97 232.35 L522.31 232.77 L522.66 233.19 L523.00 233.60 L523.34 234.01 L523.69 234.41 L524.03 234.81 L524.38 235.21 L524.72 235.61 L525.07 236.01 L525.41 236.40 L525.76 236.80 L526.10 237.19 L526.44 237.58 L526.79 237.97 L527.13 238.36 L527.48 238.74 L527.82 239.13 L528.17 239.52 L528.51 239.90 L528.86 240.28 L529.20 240.67 L529.54 241.05 L529.89 241.43 L530.23 241.81 L530.58 242.19 L530.92 242.58 L531.27 242.96 L531.61 243.34 L531.96 243.72 L532.30 244.10 L532.64 244.48 L532.99 244.86 L533.33 245.24 L533.67 245.61 L534.02 245.99 L534.36 246.36 L534.70 246.74 L535.05 247.11 L535.39 247.48 L535.73 247.85 L536.08 248.23 L536.42 248.60 L536.77 248.97 L537.11 249.34 L537.45 249.71 L537.80 250.08 L538.14 250.45 L538.48 250.83 L538.83 251.20 L539.17 251.57 L539.51 251.95 L539.86 252.32 L540.20 252.70 L540.54 253.08 L540.89 253.45 L541.23 253.83 L541.57 254.21 L541.91 254.59 L542.26 254.96 L542.60 255.34 L542.94 255.72 L543.29 256.10 L543.63 256.48 L543.97 256.86 L544.31 257.24 L544.66 257.62 L545.00 258.00" fill="none" stroke="#00893c" stroke-width="1.25" stroke-linejoin="round" stroke-linecap="round" clip-path="url(#c12)"/>
<path d="M399.40 245.40 L399.75 245.37 L400.10 245.34 L400.45 245.31 L400.80 245.28 L401.15 245.25 L401.50 245.22 L401.85 245.19 L402.20 245.16 L402.55 245.13 L402.90 245.09 L403.25 245.06 L403.60 245.03 L403.95 244.99 L404.30 244.96 L404.65 244.92 L405.00 244.89 L405.35 244.85 L405.70 244.82 L406.05 244.78 L406.40 244.75 L406.75 244.71 L407.10 244.67 L407.45 244.63 L407.80 244.60 L408.15 244.56 L408.50 244.52 L408.85 244.48 L409.20 244.44 L409.55 244.40 L409.90 244.36 L410.25 244.32 L410.60 244.28 L410.95 244.24 L411.30 244.20 L411.65 244.16 L412.00 244.11 L412.35 244.07 L412.70 244.03 L413.05 243.99 L413.40 243.94 L413.75 243.90 L414.10 243.86 L414.45 243.81 L414.80 243.77 L415.15 243.73 L415.50 243.68 L415.85 243.64 L416.20 243.59 L416.55 243.55 L416.90 243.50 L417.25 243.45 L417.60 243.41 L417.94 243.36 L418.29 243.31 L418.64 243.27 L418.99 243.22 L419.34 243.17 L419.69 243.12 L420.03 243.07 L420.38 243.02 L420.73 242.97 L421.08 242.91 L421.43 242.86 L421.77 242.81 L422.12 242.76 L422.47 242.70 L422.82 242.65 L423.17 242.59 L423.51 242.54 L423.86 242.48 L424.21 242.43 L424.56 242.37 L424.91 242.31 L425.26 242.26 L425.60 242.20 L425.95 242.14 L426.30 242.08 L426.65 242.02 L427.00 241.96 L427.34 241.91 L427.69 241.85 L428.04 241.79 L428.39 241.73 L428.74 241.66 L429.09 241.60 L429.43 241.54 L429.78 241.48 L430.13 241.42 L430.48 241.36 L430.83 241.29 L431.17 241.23 L431.52 241.17 L431.87 241.11 L432.22 241.04 L432.57 240.98 L432.91 240.92 L433.26 240.85 L433.61 240.79 L433.96 240.72 L434.31 240.66 L434.66 240.59 L435.00 240.53 L435.35 240.47 L435.70 240.40 L436.04 240.33 L436.39 240.27 L436.73 240.20 L437.08 240.13 L437.42 240.06 L437.76 239.99 L438.11 239.91 L438.45 239.84 L438.80 239.76 L439.14 239.69 L439.48 239.61 L439.83 239.53 L440.17 239.45 L440.51 239.37 L440.86 239.29 L441.20 239.21 L441.55 239.13 L441.89 239.05 L442.23 238.97 L442.58 238.89 L442.92 238.81 L443.27 238.73 L443.61 238.65 L443.95 238.57 L444.30 238.50 L444.64 238.42 L444.99 238.34 L445.33 238.26 L445.67 238.19 L446.02 238.12 L446.36 238.04 L446.70 237.97 L447.05 237.90 L447.39 237.83 L447.74 237.77 L448.08 237.70 L448.42 237.64 L448.77 237.57 L449.11 237.51 L449.46 237.46 L449.80 237.40 L450.15 237.35 L450.49 237.30 L450.84 237.25 L451.19 237.21 L451.53 237.17 L451.88 237.14 L452.23 237.10 L452.57 237.06 L452.92 237.02 L453.27 236.98 L453.61 236.93 L453.96 236.88 L454.31 236.83 L454.65 236.77 L455.00 236.70 L455.34 236.62 L455.69 236.53 L456.03 236.42 L456.37 236.31 L456.71 236.18 L457.06 236.04 L457.40 235.90 L457.74 235.75 L458.09 235.59 L458.43 235.43 L458.77 235.27 L459.11 235.11 L459.46 234.95 L459.80 234.80 L460.14 234.65 L460.47 234.49 L460.81 234.32 L461.14 234.16 L461.48 233.99 L461.81 233.81 L462.15 233.63 L462.49 233.46 L462.82 233.28 L463.16 233.10 L463.49 232.92 L463.83 232.75 L464.16 232.57 L464.50 232.40 L464.84 232.23 L465.19 232.06 L465.53 231.90 L465.87 231.74 L466.21 231.58 L466.56 231.42 L466.90 231.26 L467.24 231.10 L467.59 230.94 L467.93 230.76 L468.27 230.59 L468.61 230.40 L468.96 230.20 L469.30 230.00 L469.64 229.78 L469.99 229.55 L470.33 229.32 L470.67 229.07 L471.01 228.81 L471.36 228.54 L471.70 228.26 L472.04 227.98 L472.39 227.69 L472.73 227.40 L473.07 227.10 L473.41 226.80 L473.76 226.50 L474.10 226.20 L474.44 225.89 L474.79 225.58 L475.13 225.27 L475.47 224.95 L475.81 224.62 L476.16 224.29 L476.50 223.95 L476.84 223.61 L477.19 223.26 L477.53 222.90 L477.87 222.54 L478.21 222.17 L478.56 221.79 L478.90 221.40 L479.24 221.02 L479.57 220.63 L479.91 220.24 L480.24 219.84 L480.58 219.43 L480.91 219.01 L481.25 218.59 L481.59 218.15 L481.92 217.70 L482.26 217.23 L482.59 216.75 L482.93 216.25 L483.26 215.74 L483.60 215.20 L483.93 214.66 L484.25 214.08 L484.58 213.48 L484.90 212.85 L485.23 212.19 L485.55 211.51 L485.88 210.82 L486.20 210.10 L486.52 209.37 L486.85 208.62 L487.18 207.87 L487.50 207.10 L487.81 206.33 L488.12 205.50 L488.43 204.63 L488.74 203.73 L489.06 202.83 L489.37 201.94 L489.68 201.08 L489.99 200.26 L490.30 199.50 L490.62 198.65 L490.95 197.77 L491.28 197.08 L491.60 196.80 L491.93 196.89 L492.27 197.14 L492.60 197.50 L492.93 198.49 L493.27 200.31 L493.60 202.50 L493.93 204.83 L494.27 207.88 L494.60 212.40 L494.85 219.13 L495.10 230.00 L495.30 248.48 L495.50 262.00 L495.80 262.00 L496.10 262.00 L496.40 262.00 L496.70 262.00 L497.00 262.00 L497.30 262.00 L497.55 256.95 L497.80 250.00 L498.07 246.24 L498.33 243.30 L498.60 241.50 L498.93 240.24 L499.27 239.22 L499.60 238.41 L499.93 237.77 L500.27 237.28 L500.60 236.90 L500.93 236.58 L501.25 236.29 L501.57 236.01 L501.90 235.78 L502.23 235.58 L502.55 235.43 L502.88 235.33 L503.20 235.30 L503.55 235.31 L503.89 235.33 L504.24 235.37 L504.59 235.42 L504.94 235.48 L505.28 235.55 L505.63 235.63 L505.98 235.72 L506.33 235.81 L506.67 235.91 L507.02 236.02 L507.37 236.13 L507.72 236.24 L508.06 236.36 L508.41 236.47 L508.76 236.58 L509.11 236.69 L509.45 236.80 L509.80 236.90 L510.14 237.00 L510.48 237.11 L510.82 237.22 L511.16 237.33 L511.50 237.45 L511.84 237.57 L512.18 237.70 L512.52 237.83 L512.86 237.96 L513.20 238.09 L513.54 238.23 L513.88 238.36 L514.22 238.50 L514.56 238.64 L514.90 238.78 L515.24 238.91 L515.58 239.05 L515.92 239.19 L516.26 239.32 L516.60 239.46 L516.94 239.59 L517.28 239.71 L517.62 239.84 L517.96 239.96 L518.30 240.08 L518.64 240.19 L518.98 240.30 L519.32 240.41 L519.66 240.51 L520.00 240.60 L520.34 240.69 L520.69 240.78 L521.03 240.87 L521.38 240.96 L521.72 241.04 L522.06 241.12 L522.41 241.21 L522.75 241.29 L523.09 241.37 L523.44 241.45 L523.78 241.53 L524.12 241.60 L524.47 241.68 L524.81 241.75 L525.16 241.83 L525.50 241.90 L525.84 241.97 L526.19 242.04 L526.53 242.11 L526.88 242.17 L527.22 242.24 L527.56 242.31 L527.91 242.37 L528.25 242.43 L528.59 242.50 L528.94 242.56 L529.28 242.62 L529.62 242.67 L529.97 242.73 L530.31 242.79 L530.66 242.85 L531.00 242.90 L531.34 242.95 L531.69 243.01 L532.03 243.06 L532.38 243.11 L532.72 243.16 L533.06 243.22 L533.41 243.27 L533.75 243.32 L534.09 243.36 L534.44 243.41 L534.78 243.46 L535.12 243.51 L535.47 243.55 L535.81 243.60 L536.16 243.65 L536.50 243.69 L536.84 243.73 L537.19 243.78 L537.53 243.82 L537.88 243.86 L538.22 243.90 L538.56 243.94 L538.91 243.98 L539.25 244.02 L539.59 244.06 L539.94 244.09 L540.28 244.13 L540.62 244.17 L540.97 244.20 L541.31 244.23 L541.66 244.27 L542.00 244.30 L542.34 244.33 L542.69 244.36 L543.03 244.39 L543.38 244.43 L543.72 244.46 L544.06 244.49 L544.41 244.52 L544.75 244.55 L545.09 244.58 L545.44 244.61 L545.78 244.64 L546.12 244.66 L546.47 244.69 L546.81 244.72 L547.16 244.75 L547.50 244.77 L547.84 244.80 L548.19 244.82 L548.53 244.85 L548.88 244.87 L549.22 244.90 L549.56 244.92 L549.91 244.94 L550.25 244.96 L550.59 244.98 L550.94 245.00 L551.28 245.02 L551.62 245.04 L551.97 245.05 L552.31 245.07 L552.66 245.09 L553.00 245.10 L553.34 245.11 L553.69 245.13 L554.03 245.14 L554.38 245.15 L554.72 245.17 L555.06 245.18 L555.41 245.19 L555.75 245.20 L556.09 245.22 L556.44 245.23 L556.78 245.24 L557.12 245.25 L557.47 245.26 L557.81 245.27 L558.16 245.28 L558.50 245.29 L558.84 245.30 L559.19 245.31 L559.53 245.32 L559.88 245.33 L560.22 245.34 L560.56 245.35 L560.91 245.35 L561.25 245.36 L561.59 245.37 L561.94 245.37 L562.28 245.38 L562.62 245.38 L562.97 245.39 L563.31 245.39 L563.66 245.40 L564.00 245.40 L564.35 245.40 L564.70 245.41 L565.05 245.41 L565.39 245.41 L565.74 245.41 L566.09 245.42 L566.44 245.42 L566.79 245.42 L567.14 245.42 L567.48 245.43 L567.83 245.43 L568.18 245.43 L568.53 245.43 L568.88 245.44 L569.23 245.44 L569.58 245.44 L569.92 245.44 L570.27 245.45 L570.62 245.45 L570.97 245.45 L571.32 245.45 L571.67 245.45 L572.02 245.46 L572.36 245.46 L572.71 245.46 L573.06 245.46 L573.41 245.46 L573.76 245.47 L574.11 245.47 L574.45 245.47 L574.80 245.47 L575.15 245.47 L575.50 245.47 L575.85 245.48 L576.20 245.48 L576.55 245.48 L576.89 245.48 L577.24 245.48 L577.59 245.48 L577.94 245.48 L578.29 245.48 L578.64 245.49 L578.98 245.49 L579.33 245.49 L579.68 245.49 L580.03 245.49 L580.38 245.49 L580.73 245.49 L581.08 245.49 L581.42 245.49 L581.77 245.49 L582.12 245.50 L582.47 245.50 L582.82 245.50 L583.17 245.50 L583.52 245.50 L583.86 245.50 L584.21 245.50 L584.56 245.50 L584.91 245.50 L585.26 245.50 L585.61 245.50 L585.95 245.50 L586.30 245.50 L586.65 245.50 L587.00 245.50" fill="none" stroke="#7434a4" stroke-width="1.25" stroke-linejoin="round" stroke-linecap="round" clip-path="url(#c12)"/>
<path d="M399.40 245.20 L399.75 245.17 L400.10 245.15 L400.45 245.12 L400.80 245.09 L401.15 245.06 L401.50 245.03 L401.85 245.00 L402.20 244.96 L402.55 244.93 L402.90 244.90 L403.25 244.86 L403.60 244.83 L403.95 244.79 L404.30 244.76 L404.65 244.72 L405.00 244.68 L405.35 244.65 L405.70 244.61 L406.05 244.57 L406.40 244.53 L406.75 244.49 L407.10 244.45 L407.45 244.40 L407.80 244.36 L408.15 244.32 L408.50 244.28 L408.85 244.23 L409.20 244.19 L409.55 244.14 L409.90 244.10 L410.25 244.05 L410.60 244.01 L410.95 243.96 L411.30 243.91 L411.65 243.86 L412.00 243.82 L412.35 243.77 L412.70 243.72 L413.05 243.67 L413.40 243.62 L413.75 243.57 L414.10 243.52 L414.45 243.47 L414.80 243.42 L415.15 243.36 L415.50 243.31 L415.85 243.26 L416.20 243.21 L416.55 243.15 L416.90 243.10 L417.25 243.05 L417.60 242.99 L417.94 242.94 L418.29 242.88 L418.64 242.82 L418.99 242.76 L419.34 242.70 L419.69 242.64 L420.03 242.58 L420.38 242.52 L420.73 242.46 L421.08 242.39 L421.43 242.33 L421.77 242.27 L422.12 242.20 L422.47 242.13 L422.82 242.06 L423.17 242.00 L423.51 241.93 L423.86 241.86 L424.21 241.79 L424.56 241.71 L424.91 241.64 L425.26 241.57 L425.60 241.50 L425.95 241.42 L426.30 241.35 L426.65 241.27 L427.00 241.19 L427.34 241.12 L427.69 241.04 L428.04 240.96 L428.39 240.88 L428.74 240.80 L429.09 240.72 L429.43 240.64 L429.78 240.56 L430.13 240.48 L430.48 240.40 L430.83 240.31 L431.17 240.23 L431.52 240.15 L431.87 240.06 L432.22 239.98 L432.57 239.89 L432.91 239.80 L433.26 239.72 L433.61 239.63 L433.96 239.54 L434.31 239.46 L434.66 239.37 L435.00 239.28 L435.35 239.19 L435.70 239.10 L436.04 239.01 L436.39 238.92 L436.73 238.83 L437.08 238.74 L437.42 238.65 L437.76 238.55 L438.11 238.46 L438.45 238.36 L438.80 238.27 L439.14 238.17 L439.48 238.07 L439.83 237.98 L440.17 237.88 L440.51 237.77 L440.86 237.67 L441.20 237.57 L441.55 237.47 L441.89 237.36 L442.23 237.25 L442.58 237.15 L442.92 237.04 L443.27 236.93 L443.61 236.82 L443.95 236.71 L444.30 236.59 L444.64 236.48 L444.99 236.36 L445.33 236.25 L445.67 236.13 L446.02 236.01 L446.36 235.89 L446.70 235.77 L447.05 235.64 L447.39 235.52 L447.74 235.39 L448.08 235.26 L448.42 235.13 L448.77 235.00 L449.11 234.87 L449.46 234.74 L449.80 234.60 L450.15 234.46 L450.49 234.32 L450.84 234.17 L451.19 234.02 L451.53 233.86 L451.88 233.70 L452.23 233.54 L452.57 233.37 L452.92 233.20 L453.27 233.02 L453.61 232.84 L453.96 232.66 L454.31 232.48 L454.65 232.29 L455.00 232.10 L455.34 231.91 L455.69 231.71 L456.03 231.50 L456.37 231.29 L456.71 231.07 L457.06 230.85 L457.40 230.62 L457.74 230.39 L458.09 230.16 L458.43 229.93 L458.77 229.70 L459.11 229.46 L459.46 229.23 L459.80 229.00 L460.14 228.78 L460.47 228.55 L460.81 228.33 L461.14 228.11 L461.48 227.89 L461.81 227.67 L462.15 227.44 L462.49 227.21 L462.82 226.97 L463.16 226.73 L463.49 226.49 L463.83 226.23 L464.16 225.97 L464.50 225.70 L464.84 225.41 L465.19 225.10 L465.53 224.78 L465.87 224.44 L466.21 224.10 L466.56 223.74 L466.90 223.39 L467.24 223.02 L467.59 222.66 L467.93 222.30 L468.27 221.94 L468.61 221.58 L468.96 221.24 L469.30 220.90 L469.64 220.57 L469.98 220.22 L470.32 219.88 L470.66 219.54 L471.00 219.20 L471.34 218.87 L471.68 218.55 L472.02 218.24 L472.36 217.96 L472.70 217.70 L473.03 217.47 L473.36 217.26 L473.69 217.05 L474.02 216.87 L474.35 216.68 L474.68 216.51 L475.02 216.34 L475.35 216.16 L475.68 215.99 L476.01 215.81 L476.34 215.62 L476.67 215.42 L477.00 215.20 L477.34 214.97 L477.67 214.74 L478.01 214.49 L478.34 214.25 L478.68 213.99 L479.01 213.73 L479.35 213.47 L479.69 213.20 L480.02 212.91 L480.36 212.63 L480.69 212.33 L481.03 212.03 L481.36 211.72 L481.70 211.40 L482.04 211.07 L482.39 210.74 L482.73 210.40 L483.07 210.06 L483.41 209.71 L483.76 209.34 L484.10 208.97 L484.44 208.57 L484.79 208.16 L485.13 207.72 L485.47 207.26 L485.81 206.77 L486.16 206.25 L486.50 205.70 L486.82 205.12 L487.14 204.46 L487.47 203.72 L487.79 202.92 L488.11 202.08 L488.43 201.20 L488.76 200.31 L489.08 199.40 L489.40 198.50 L489.71 197.50 L490.02 196.31 L490.34 195.02 L490.65 193.73 L490.96 192.56 L491.27 191.59 L491.59 190.94 L491.90 190.70 L492.18 191.04 L492.46 191.89 L492.74 193.02 L493.02 194.20 L493.30 195.20 L493.60 196.06 L493.90 196.87 L494.20 197.68 L494.50 198.50 L494.80 199.37 L495.10 200.28 L495.40 201.21 L495.70 202.12 L496.00 202.99 L496.30 203.80 L496.60 204.50 L496.93 205.20 L497.27 205.88 L497.60 206.53 L497.93 207.14 L498.27 207.74 L498.60 208.30 L498.93 208.83 L499.27 209.34 L499.60 209.82 L499.93 210.28 L500.27 210.70 L500.60 211.10 L500.93 211.47 L501.26 211.82 L501.59 212.16 L501.93 212.48 L502.26 212.78 L502.59 213.07 L502.92 213.35 L503.25 213.62 L503.58 213.89 L503.91 214.15 L504.24 214.41 L504.57 214.66 L504.91 214.92 L505.24 215.17 L505.57 215.43 L505.90 215.70 L506.25 215.99 L506.59 216.27 L506.94 216.57 L507.29 216.86 L507.63 217.15 L507.98 217.44 L508.33 217.73 L508.67 218.01 L509.02 218.28 L509.37 218.55 L509.71 218.80 L510.06 219.05 L510.41 219.28 L510.75 219.50 L511.10 219.70 L511.44 219.88 L511.79 220.03 L512.13 220.18 L512.47 220.32 L512.81 220.46 L513.16 220.62 L513.50 220.80 L513.82 220.99 L514.14 221.19 L514.46 221.42 L514.78 221.65 L515.10 221.90 L515.43 222.17 L515.76 222.46 L516.09 222.77 L516.42 223.10 L516.76 223.43 L517.09 223.78 L517.42 224.13 L517.75 224.49 L518.08 224.84 L518.41 225.20 L518.74 225.56 L519.08 225.91 L519.41 226.25 L519.74 226.58 L520.07 226.90 L520.40 227.20 L520.75 227.51 L521.09 227.81 L521.44 228.11 L521.79 228.41 L522.14 228.71 L522.48 229.00 L522.83 229.29 L523.18 229.58 L523.53 229.86 L523.87 230.14 L524.22 230.42 L524.57 230.68 L524.92 230.95 L525.26 231.21 L525.61 231.46 L525.96 231.70 L526.31 231.94 L526.65 232.17 L527.00 232.40 L527.33 232.61 L527.67 232.81 L528.00 233.00 L528.33 233.19 L528.67 233.37 L529.00 233.55 L529.33 233.73 L529.67 233.90 L530.00 234.07 L530.33 234.25 L530.67 234.42 L531.00 234.60 L531.34 234.79 L531.69 234.98 L532.03 235.16 L532.38 235.36 L532.72 235.55 L533.06 235.74 L533.41 235.93 L533.75 236.12 L534.09 236.30 L534.44 236.49 L534.78 236.67 L535.12 236.84 L535.47 237.02 L535.81 237.18 L536.16 237.34 L536.50 237.50 L536.84 237.65 L537.19 237.80 L537.53 237.94 L537.88 238.08 L538.22 238.22 L538.56 238.35 L538.91 238.48 L539.25 238.61 L539.59 238.74 L539.94 238.87 L540.28 238.99 L540.62 239.11 L540.97 239.24 L541.31 239.36 L541.66 239.48 L542.00 239.60 L542.34 239.72 L542.69 239.84 L543.03 239.97 L543.38 240.09 L543.72 240.21 L544.06 240.34 L544.41 240.46 L544.75 240.59 L545.09 240.71 L545.44 240.83 L545.78 240.96 L546.12 241.08 L546.47 241.20 L546.81 241.32 L547.16 241.44 L547.50 241.56 L547.84 241.67 L548.19 241.79 L548.53 241.90 L548.88 242.01 L549.22 242.12 L549.56 242.22 L549.91 242.33 L550.25 242.43 L550.59 242.52 L550.94 242.62 L551.28 242.71 L551.62 242.79 L551.97 242.88 L552.31 242.95 L552.66 243.03 L553.00 243.10 L553.34 243.17 L553.69 243.24 L554.03 243.30 L554.38 243.37 L554.72 243.43 L555.06 243.49 L555.41 243.56 L555.75 243.62 L556.09 243.68 L556.44 243.74 L556.78 243.79 L557.12 243.85 L557.47 243.91 L557.81 243.96 L558.16 244.01 L558.50 244.06 L558.84 244.12 L559.19 244.16 L559.53 244.21 L559.88 244.26 L560.22 244.30 L560.56 244.35 L560.91 244.39 L561.25 244.43 L561.59 244.47 L561.94 244.51 L562.28 244.54 L562.62 244.58 L562.97 244.61 L563.31 244.64 L563.66 244.67 L564.00 244.70 L564.34 244.73 L564.68 244.75 L565.02 244.78 L565.36 244.81 L565.70 244.83 L566.04 244.86 L566.38 244.88 L566.73 244.91 L567.07 244.93 L567.41 244.96 L567.75 244.98 L568.09 245.00 L568.43 245.03 L568.77 245.05 L569.11 245.07 L569.45 245.09 L569.79 245.11 L570.13 245.13 L570.47 245.15 L570.81 245.16 L571.15 245.18 L571.49 245.20 L571.83 245.21 L572.17 245.22 L572.52 245.24 L572.86 245.25 L573.20 245.26 L573.54 245.27 L573.88 245.28 L574.22 245.29 L574.56 245.29 L574.90 245.30 L575.25 245.30 L575.59 245.31 L575.94 245.31 L576.28 245.32 L576.63 245.32 L576.97 245.33 L577.32 245.33 L577.67 245.34 L578.01 245.34 L578.36 245.35 L578.70 245.35 L579.05 245.35 L579.39 245.36 L579.74 245.36 L580.09 245.36 L580.43 245.37 L580.78 245.37 L581.12 245.37 L581.47 245.38 L581.81 245.38 L582.16 245.38 L582.51 245.38 L582.85 245.39 L583.20 245.39 L583.54 245.39 L583.89 245.39 L584.23 245.39 L584.58 245.40 L584.93 245.40 L585.27 245.40 L585.62 245.40 L585.96 245.40 L586.31 245.40 L586.65 245.40 L587.00 245.40" fill="none" stroke="#000" stroke-width="1.25" stroke-linejoin="round" stroke-linecap="round" clip-path="url(#c12)"/>
<path d="M406.90 293.40 L407.24 293.35 L407.59 293.29 L407.93 293.24 L408.28 293.18 L408.62 293.13 L408.97 293.07 L409.31 293.01 L409.66 292.96 L410.00 292.90 L410.35 292.85 L410.69 292.79 L411.04 292.73 L411.38 292.68 L411.73 292.62 L412.07 292.56 L412.42 292.50 L412.76 292.45 L413.11 292.39 L413.45 292.33 L413.79 292.27 L414.14 292.22 L414.48 292.16 L414.83 292.10 L415.17 292.04 L415.52 291.98 L415.86 291.92 L416.21 291.86 L416.55 291.80 L416.90 291.74 L417.24 291.68 L417.59 291.62 L417.93 291.56 L418.28 291.50 L418.62 291.44 L418.97 291.38 L419.31 291.32 L419.66 291.26 L420.00 291.20 L420.34 291.14 L420.68 291.08 L421.02 291.02 L421.36 290.96 L421.71 290.89 L422.05 290.83 L422.39 290.77 L422.73 290.71 L423.07 290.64 L423.41 290.58 L423.75 290.52 L424.09 290.46 L424.43 290.39 L424.77 290.33 L425.12 290.26 L425.46 290.20 L425.80 290.14 L426.14 290.07 L426.48 290.01 L426.82 289.94 L427.16 289.88 L427.50 289.81 L427.84 289.75 L428.18 289.68 L428.53 289.62 L428.87 289.55 L429.21 289.49 L429.55 289.42 L429.89 289.36 L430.23 289.29 L430.57 289.23 L430.91 289.16 L431.25 289.09 L431.59 289.03 L431.94 288.96 L432.28 288.90 L432.62 288.83 L432.96 288.77 L433.30 288.70 L433.64 288.63 L433.99 288.57 L434.33 288.50 L434.67 288.43 L435.02 288.37 L435.36 288.30 L435.70 288.23 L436.05 288.16 L436.39 288.09 L436.73 288.03 L437.08 287.96 L437.42 287.89 L437.76 287.82 L438.11 287.75 L438.45 287.68 L438.79 287.61 L439.14 287.55 L439.48 287.48 L439.82 287.41 L440.16 287.34 L440.51 287.27 L440.85 287.20 L441.19 287.13 L441.54 287.07 L441.88 287.00 L442.22 286.93 L442.57 286.86 L442.91 286.79 L443.25 286.73 L443.60 286.66 L443.94 286.59 L444.28 286.53 L444.63 286.46 L444.97 286.39 L445.31 286.33 L445.66 286.26 L446.00 286.20 L446.35 286.13 L446.70 286.07 L447.05 286.01 L447.40 285.94 L447.75 285.88 L448.10 285.82 L448.45 285.76 L448.80 285.70 L449.15 285.64 L449.50 285.58 L449.85 285.52 L450.20 285.46 L450.55 285.40 L450.90 285.34 L451.25 285.28 L451.60 285.22 L451.95 285.16 L452.30 285.10 L452.65 285.04 L453.00 284.99 L453.35 284.93 L453.70 284.87 L454.05 284.81 L454.40 284.75 L454.75 284.69 L455.10 284.63 L455.45 284.56 L455.80 284.50 L456.15 284.44 L456.50 284.38 L456.85 284.31 L457.20 284.25 L457.55 284.18 L457.90 284.12 L458.25 284.05 L458.60 283.98 L458.95 283.91 L459.30 283.84 L459.65 283.77 L460.00 283.70 L460.33 283.63 L460.66 283.56 L460.99 283.49 L461.33 283.42 L461.66 283.34 L461.99 283.27 L462.32 283.19 L462.65 283.11 L462.98 283.04 L463.32 282.96 L463.65 282.88 L463.98 282.79 L464.31 282.71 L464.64 282.63 L464.97 282.55 L465.31 282.46 L465.64 282.37 L465.97 282.29 L466.30 282.20 L466.63 282.11 L466.96 282.02 L467.29 281.93 L467.63 281.83 L467.96 281.74 L468.29 281.64 L468.62 281.54 L468.95 281.45 L469.28 281.35 L469.62 281.24 L469.95 281.14 L470.28 281.04 L470.61 280.94 L470.94 280.83 L471.27 280.73 L471.61 280.62 L471.94 280.51 L472.27 280.41 L472.60 280.30 L472.95 280.19 L473.30 280.07 L473.65 279.96 L474.00 279.84 L474.35 279.72 L474.70 279.61 L475.05 279.49 L475.40 279.37 L475.75 279.25 L476.10 279.13 L476.45 279.00 L476.80 278.88 L477.15 278.75 L477.50 278.63 L477.85 278.50 L478.20 278.37 L478.55 278.23 L478.90 278.10 L479.23 277.97 L479.56 277.84 L479.89 277.70 L480.23 277.56 L480.56 277.41 L480.89 277.27 L481.22 277.12 L481.55 276.97 L481.88 276.82 L482.22 276.67 L482.55 276.53 L482.88 276.38 L483.21 276.23 L483.54 276.08 L483.87 275.94 L484.21 275.80 L484.54 275.66 L484.87 275.53 L485.20 275.40 L485.54 275.26 L485.89 275.10 L486.23 274.94 L486.58 274.78 L486.92 274.63 L487.27 274.50 L487.61 274.39 L487.96 274.32 L488.30 274.30 L488.62 274.32 L488.95 274.39 L489.28 274.48 L489.60 274.60 L489.90 274.78 L490.20 275.07 L490.50 275.44 L490.80 275.87 L491.10 276.34 L491.40 276.80 L491.73 277.25 L492.07 277.79 L492.40 278.70 L492.60 280.16 L492.80 283.00 L493.10 295.00 L493.30 310.00 L493.60 324.00 L493.90 330.40 L494.20 333.39 L494.50 335.50 L494.85 337.78 L495.20 339.50 L495.47 340.46 L495.73 341.23 L496.00 341.60 L496.30 341.67 L496.60 341.70 L496.95 340.94 L497.30 339.50 L497.57 338.24 L497.83 336.77 L498.10 335.50 L498.43 334.30 L498.75 333.19 L499.07 332.17 L499.40 331.22 L499.73 330.34 L500.05 329.49 L500.38 328.69 L500.70 327.90 L501.05 327.09 L501.39 326.30 L501.74 325.55 L502.08 324.82 L502.43 324.12 L502.77 323.44 L503.12 322.77 L503.46 322.13 L503.81 321.51 L504.15 320.90 L504.50 320.30 L504.85 319.71 L505.19 319.14 L505.54 318.57 L505.88 318.02 L506.23 317.48 L506.57 316.96 L506.92 316.45 L507.26 315.96 L507.61 315.49 L507.95 315.03 L508.30 314.60 L508.63 314.20 L508.97 313.80 L509.30 313.41 L509.63 313.03 L509.97 312.65 L510.30 312.29 L510.63 311.94 L510.97 311.59 L511.30 311.26 L511.63 310.94 L511.97 310.62 L512.30 310.32 L512.63 310.04 L512.97 309.76 L513.30 309.50 L513.63 309.25 L513.96 309.01 L514.29 308.77 L514.63 308.54 L514.96 308.31 L515.29 308.09 L515.62 307.88 L515.95 307.67 L516.28 307.47 L516.62 307.27 L516.95 307.08 L517.28 306.89 L517.61 306.71 L517.94 306.53 L518.27 306.36 L518.61 306.19 L518.94 306.02 L519.27 305.86 L519.60 305.70 L519.94 305.54 L520.27 305.38 L520.61 305.23 L520.95 305.08 L521.28 304.93 L521.62 304.78 L521.96 304.64 L522.29 304.49 L522.63 304.36 L522.97 304.22 L523.31 304.09 L523.64 303.96 L523.98 303.84 L524.32 303.72 L524.65 303.61 L524.99 303.50 L525.33 303.39 L525.66 303.29 L526.00 303.20 L526.34 303.11 L526.68 303.02 L527.02 302.93 L527.36 302.85 L527.70 302.76 L528.04 302.68 L528.38 302.60 L528.72 302.52 L529.06 302.45 L529.41 302.37 L529.75 302.30 L530.09 302.23 L530.43 302.16 L530.77 302.09 L531.11 302.02 L531.45 301.96 L531.79 301.89 L532.13 301.83 L532.47 301.76 L532.81 301.70 L533.15 301.64 L533.49 301.58 L533.83 301.52 L534.17 301.46 L534.51 301.40 L534.85 301.34 L535.19 301.28 L535.54 301.22 L535.88 301.17 L536.22 301.11 L536.56 301.05 L536.90 300.99 L537.24 300.93 L537.58 300.88 L537.92 300.82 L538.26 300.76 L538.60 300.70 L538.94 300.64 L539.28 300.58 L539.62 300.53 L539.96 300.47 L540.30 300.42 L540.64 300.36 L540.98 300.31 L541.33 300.26 L541.67 300.20 L542.01 300.15 L542.35 300.10 L542.69 300.05 L543.03 300.00 L543.37 299.95 L543.71 299.90 L544.05 299.85 L544.39 299.80 L544.73 299.75 L545.07 299.70 L545.41 299.65 L545.75 299.60 L546.09 299.55 L546.43 299.50 L546.77 299.44 L547.12 299.39 L547.46 299.34 L547.80 299.28 L548.14 299.23 L548.48 299.17 L548.82 299.12 L549.16 299.06 L549.50 299.00 L549.84 298.94 L550.19 298.88 L550.53 298.81 L550.87 298.75 L551.21 298.68 L551.56 298.62 L551.90 298.55 L552.24 298.48 L552.59 298.42 L552.93 298.35 L553.27 298.28 L553.61 298.21 L553.96 298.14 L554.30 298.07 L554.64 297.99 L554.99 297.92 L555.33 297.85 L555.67 297.78 L556.01 297.71 L556.36 297.64 L556.70 297.57 L557.04 297.50 L557.39 297.43 L557.73 297.37 L558.07 297.30 L558.41 297.23 L558.76 297.16 L559.10 297.10 L559.44 297.04 L559.78 296.97 L560.12 296.91 L560.46 296.85 L560.80 296.78 L561.14 296.72 L561.48 296.66 L561.81 296.60 L562.15 296.53 L562.49 296.47 L562.83 296.41 L563.17 296.35 L563.51 296.29 L563.85 296.23 L564.19 296.17 L564.53 296.10 L564.87 296.04 L565.21 295.98 L565.55 295.92 L565.89 295.87 L566.23 295.81 L566.56 295.75 L566.90 295.69 L567.24 295.63 L567.58 295.57 L567.92 295.51 L568.26 295.46 L568.60 295.40 L568.95 295.34 L569.30 295.28 L569.65 295.23 L569.99 295.17 L570.34 295.11 L570.69 295.05 L571.04 295.00 L571.39 294.94 L571.74 294.88 L572.08 294.83 L572.43 294.77 L572.78 294.71 L573.13 294.66 L573.48 294.60 L573.83 294.55 L574.17 294.49 L574.52 294.44 L574.87 294.38 L575.22 294.33 L575.57 294.28 L575.92 294.22 L576.26 294.17 L576.61 294.12 L576.96 294.06 L577.31 294.01 L577.66 293.96 L578.01 293.91 L578.35 293.85 L578.70 293.80 L579.05 293.75 L579.40 293.70" fill="none" stroke="#7434a4" stroke-width="1.25" stroke-linejoin="round" stroke-linecap="round" clip-path="url(#c13)"/>
<path d="M407.10 335.40 L407.45 335.39 L407.80 335.37 L408.15 335.36 L408.50 335.34 L408.85 335.33 L409.20 335.31 L409.55 335.29 L409.90 335.28 L410.25 335.26 L410.60 335.24 L410.95 335.23 L411.30 335.21 L411.65 335.19 L412.00 335.17 L412.35 335.15 L412.70 335.13 L413.05 335.11 L413.40 335.10 L413.75 335.08 L414.10 335.06 L414.45 335.04 L414.80 335.01 L415.15 334.99 L415.50 334.97 L415.85 334.95 L416.20 334.93 L416.55 334.91 L416.90 334.89 L417.25 334.86 L417.60 334.84 L417.95 334.82 L418.30 334.80 L418.65 334.77 L419.00 334.75 L419.35 334.72 L419.70 334.70 L420.05 334.68 L420.40 334.65 L420.75 334.63 L421.10 334.60 L421.45 334.58 L421.80 334.55 L422.15 334.53 L422.50 334.50 L422.85 334.48 L423.20 334.45 L423.55 334.43 L423.90 334.40 L424.25 334.37 L424.60 334.35 L424.94 334.32 L425.29 334.29 L425.64 334.27 L425.99 334.24 L426.34 334.21 L426.69 334.18 L427.03 334.15 L427.38 334.12 L427.73 334.09 L428.08 334.06 L428.43 334.03 L428.77 334.00 L429.12 333.97 L429.47 333.94 L429.82 333.90 L430.17 333.87 L430.51 333.84 L430.86 333.81 L431.21 333.77 L431.56 333.74 L431.91 333.70 L432.26 333.67 L432.60 333.64 L432.95 333.60 L433.30 333.57 L433.65 333.53 L434.00 333.49 L434.34 333.46 L434.69 333.42 L435.04 333.38 L435.39 333.35 L435.74 333.31 L436.09 333.27 L436.43 333.23 L436.78 333.19 L437.13 333.16 L437.48 333.12 L437.83 333.08 L438.17 333.04 L438.52 333.00 L438.87 332.96 L439.22 332.92 L439.57 332.88 L439.91 332.84 L440.26 332.80 L440.61 332.75 L440.96 332.71 L441.31 332.67 L441.66 332.63 L442.00 332.59 L442.35 332.54 L442.70 332.50 L443.05 332.46 L443.39 332.41 L443.74 332.37 L444.09 332.33 L444.43 332.28 L444.78 332.24 L445.12 332.19 L445.47 332.15 L445.82 332.10 L446.16 332.06 L446.51 332.01 L446.86 331.96 L447.20 331.92 L447.55 331.87 L447.90 331.82 L448.24 331.77 L448.59 331.72 L448.93 331.67 L449.28 331.62 L449.63 331.57 L449.97 331.52 L450.32 331.46 L450.67 331.41 L451.01 331.36 L451.36 331.30 L451.70 331.25 L452.05 331.19 L452.40 331.13 L452.74 331.07 L453.09 331.01 L453.44 330.95 L453.78 330.89 L454.13 330.83 L454.48 330.77 L454.82 330.71 L455.17 330.64 L455.51 330.57 L455.86 330.51 L456.21 330.44 L456.55 330.37 L456.90 330.30 L457.24 330.23 L457.59 330.15 L457.93 330.06 L458.28 329.98 L458.62 329.88 L458.97 329.79 L459.31 329.69 L459.66 329.60 L460.00 329.50 L460.35 329.40 L460.69 329.30 L461.04 329.19 L461.39 329.09 L461.74 328.98 L462.08 328.87 L462.43 328.76 L462.78 328.65 L463.12 328.54 L463.47 328.42 L463.82 328.31 L464.16 328.19 L464.51 328.07 L464.86 327.95 L465.21 327.84 L465.55 327.72 L465.90 327.60 L466.24 327.48 L466.58 327.37 L466.92 327.25 L467.26 327.14 L467.61 327.02 L467.95 326.90 L468.29 326.78 L468.63 326.67 L468.97 326.54 L469.31 326.42 L469.65 326.30 L469.99 326.17 L470.34 326.04 L470.68 325.91 L471.02 325.78 L471.36 325.64 L471.70 325.50 L472.05 325.35 L472.39 325.21 L472.74 325.05 L473.09 324.90 L473.44 324.74 L473.78 324.58 L474.13 324.42 L474.48 324.25 L474.82 324.08 L475.17 323.91 L475.52 323.73 L475.86 323.55 L476.21 323.37 L476.56 323.18 L476.91 322.99 L477.25 322.80 L477.60 322.60 L477.95 322.40 L478.29 322.19 L478.64 321.98 L478.99 321.77 L479.34 321.55 L479.68 321.33 L480.03 321.11 L480.38 320.87 L480.72 320.64 L481.07 320.39 L481.42 320.14 L481.76 319.89 L482.11 319.62 L482.46 319.35 L482.81 319.08 L483.15 318.79 L483.50 318.50 L483.84 318.20 L484.18 317.89 L484.52 317.56 L484.87 317.23 L485.21 316.88 L485.55 316.51 L485.89 316.14 L486.23 315.75 L486.58 315.36 L486.92 314.95 L487.26 314.53 L487.60 314.10 L487.92 313.64 L488.24 313.10 L488.57 312.52 L488.89 311.92 L489.21 311.33 L489.53 310.78 L489.86 310.31 L490.18 309.94 L490.50 309.70 L490.80 309.56 L491.10 309.45 L491.40 309.40 L491.70 309.92 L492.00 311.22 L492.30 312.90 L492.60 316.37 L492.90 320.99 L493.20 323.30 L493.50 321.01 L493.80 316.47 L494.10 313.20 L494.43 311.69 L494.75 310.45 L495.07 309.61 L495.40 309.30 L495.74 309.42 L496.08 309.74 L496.42 310.16 L496.76 310.61 L497.10 311.00 L497.43 311.33 L497.75 311.66 L498.08 311.99 L498.41 312.32 L498.74 312.65 L499.06 312.99 L499.39 313.32 L499.72 313.64 L500.05 313.97 L500.37 314.29 L500.70 314.60 L501.03 314.92 L501.36 315.24 L501.69 315.56 L502.03 315.88 L502.36 316.20 L502.69 316.52 L503.02 316.84 L503.35 317.16 L503.68 317.48 L504.02 317.79 L504.35 318.09 L504.68 318.39 L505.01 318.69 L505.34 318.98 L505.67 319.26 L506.01 319.53 L506.34 319.80 L506.67 320.05 L507.00 320.30 L507.35 320.55 L507.70 320.80 L508.05 321.04 L508.40 321.27 L508.75 321.50 L509.10 321.73 L509.45 321.95 L509.80 322.17 L510.15 322.38 L510.50 322.59 L510.85 322.79 L511.20 322.99 L511.55 323.19 L511.90 323.38 L512.25 323.57 L512.60 323.75 L512.95 323.93 L513.30 324.10 L513.64 324.27 L513.98 324.43 L514.33 324.59 L514.67 324.75 L515.01 324.91 L515.35 325.06 L515.69 325.21 L516.04 325.36 L516.38 325.50 L516.72 325.64 L517.06 325.78 L517.41 325.92 L517.75 326.05 L518.09 326.18 L518.43 326.31 L518.77 326.44 L519.12 326.56 L519.46 326.68 L519.80 326.80 L520.14 326.92 L520.49 327.03 L520.83 327.14 L521.18 327.25 L521.52 327.35 L521.87 327.46 L522.21 327.56 L522.56 327.66 L522.90 327.76 L523.24 327.85 L523.59 327.95 L523.93 328.04 L524.28 328.14 L524.62 328.23 L524.97 328.32 L525.31 328.42 L525.66 328.51 L526.00 328.60 L526.34 328.69 L526.68 328.78 L527.02 328.88 L527.36 328.97 L527.70 329.06 L528.04 329.15 L528.38 329.24 L528.72 329.33 L529.06 329.43 L529.41 329.52 L529.75 329.61 L530.09 329.70 L530.43 329.79 L530.77 329.88 L531.11 329.97 L531.45 330.06 L531.79 330.14 L532.13 330.23 L532.47 330.32 L532.81 330.40 L533.15 330.49 L533.49 330.57 L533.83 330.66 L534.17 330.74 L534.51 330.82 L534.85 330.90 L535.19 330.98 L535.54 331.06 L535.88 331.13 L536.22 331.21 L536.56 331.28 L536.90 331.36 L537.24 331.43 L537.58 331.50 L537.92 331.57 L538.26 331.63 L538.60 331.70 L538.94 331.76 L539.28 331.83 L539.62 331.89 L539.96 331.95 L540.30 332.01 L540.64 332.07 L540.98 332.13 L541.33 332.19 L541.67 332.25 L542.01 332.31 L542.35 332.37 L542.69 332.42 L543.03 332.48 L543.37 332.53 L543.71 332.59 L544.05 332.64 L544.39 332.69 L544.73 332.74 L545.07 332.79 L545.41 332.85 L545.75 332.90 L546.09 332.94 L546.43 332.99 L546.77 333.04 L547.12 333.09 L547.46 333.13 L547.80 333.18 L548.14 333.23 L548.48 333.27 L548.82 333.31 L549.16 333.36 L549.50 333.40 L549.84 333.44 L550.19 333.48 L550.53 333.53 L550.87 333.57 L551.21 333.61 L551.56 333.65 L551.90 333.69 L552.24 333.73 L552.59 333.77 L552.93 333.81 L553.27 333.85 L553.61 333.89 L553.96 333.93 L554.30 333.97 L554.64 334.00 L554.99 334.04 L555.33 334.07 L555.67 334.11 L556.01 334.14 L556.36 334.17 L556.70 334.21 L557.04 334.24 L557.39 334.27 L557.73 334.30 L558.07 334.32 L558.41 334.35 L558.76 334.38 L559.10 334.40 L559.44 334.42 L559.78 334.45 L560.12 334.47 L560.46 334.49 L560.80 334.51 L561.14 334.53 L561.48 334.56 L561.81 334.58 L562.15 334.60 L562.49 334.62 L562.83 334.63 L563.17 334.65 L563.51 334.67 L563.85 334.69 L564.19 334.71 L564.53 334.72 L564.87 334.74 L565.21 334.76 L565.55 334.77 L565.89 334.79 L566.23 334.80 L566.56 334.82 L566.90 334.83 L567.24 334.85 L567.58 334.86 L567.92 334.87 L568.26 334.89 L568.60 334.90 L568.94 334.91 L569.29 334.92 L569.63 334.94 L569.98 334.95 L570.32 334.96 L570.66 334.97 L571.01 334.98 L571.35 335.00 L571.69 335.01 L572.04 335.02 L572.38 335.03 L572.73 335.04 L573.07 335.05 L573.41 335.06 L573.76 335.07 L574.10 335.08 L574.44 335.09 L574.79 335.10 L575.13 335.11 L575.48 335.12 L575.82 335.13 L576.16 335.13 L576.51 335.14 L576.85 335.15 L577.19 335.16 L577.54 335.17 L577.88 335.17 L578.23 335.18 L578.57 335.18 L578.91 335.19 L579.26 335.20 L579.60 335.20" fill="none" stroke="#00893c" stroke-width="1.25" stroke-linejoin="round" stroke-linecap="round" clip-path="url(#c13)"/>
<path d="M407.40 378.00 L407.74 378.00 L408.09 378.01 L408.43 378.01 L408.77 378.02 L409.12 378.03 L409.46 378.04 L409.81 378.05 L410.15 378.06 L410.49 378.08 L410.84 378.09 L411.18 378.10 L411.52 378.12 L411.87 378.14 L412.21 378.16 L412.56 378.18 L412.90 378.20 L413.24 378.22 L413.59 378.24 L413.93 378.27 L414.27 378.29 L414.62 378.31 L414.96 378.34 L415.31 378.37 L415.65 378.39 L415.99 378.42 L416.34 378.45 L416.68 378.48 L417.02 378.51 L417.37 378.54 L417.71 378.57 L418.06 378.60 L418.40 378.64 L418.74 378.67 L419.09 378.70 L419.43 378.74 L419.77 378.77 L420.12 378.80 L420.46 378.84 L420.81 378.87 L421.15 378.91 L421.49 378.94 L421.84 378.98 L422.18 379.02 L422.52 379.05 L422.87 379.09 L423.21 379.13 L423.56 379.16 L423.90 379.20 L424.25 379.24 L424.60 379.28 L424.94 379.32 L425.29 379.37 L425.64 379.41 L425.99 379.46 L426.34 379.52 L426.69 379.57 L427.03 379.62 L427.38 379.68 L427.73 379.74 L428.08 379.80 L428.43 379.86 L428.77 379.93 L429.12 379.99 L429.47 380.06 L429.82 380.13 L430.17 380.20 L430.51 380.27 L430.86 380.34 L431.21 380.42 L431.56 380.49 L431.91 380.57 L432.26 380.64 L432.60 380.72 L432.95 380.80 L433.30 380.88 L433.65 380.96 L434.00 381.04 L434.34 381.13 L434.69 381.21 L435.04 381.29 L435.39 381.38 L435.74 381.46 L436.09 381.55 L436.43 381.64 L436.78 381.72 L437.13 381.81 L437.48 381.90 L437.83 381.98 L438.17 382.07 L438.52 382.16 L438.87 382.25 L439.22 382.33 L439.57 382.42 L439.91 382.51 L440.26 382.60 L440.61 382.68 L440.96 382.77 L441.31 382.86 L441.66 382.94 L442.00 383.03 L442.35 383.12 L442.70 383.20 L443.04 383.28 L443.38 383.37 L443.72 383.46 L444.07 383.54 L444.41 383.63 L444.75 383.72 L445.09 383.81 L445.43 383.90 L445.77 384.00 L446.12 384.09 L446.46 384.19 L446.80 384.28 L447.14 384.38 L447.48 384.47 L447.82 384.57 L448.17 384.67 L448.51 384.76 L448.85 384.86 L449.19 384.96 L449.53 385.06 L449.88 385.16 L450.22 385.26 L450.56 385.36 L450.90 385.45 L451.24 385.55 L451.58 385.65 L451.93 385.75 L452.27 385.84 L452.61 385.94 L452.95 386.04 L453.29 386.13 L453.63 386.23 L453.98 386.32 L454.32 386.42 L454.66 386.51 L455.00 386.60 L455.33 386.69 L455.67 386.77 L456.00 386.86 L456.33 386.94 L456.67 387.03 L457.00 387.11 L457.33 387.19 L457.67 387.28 L458.00 387.36 L458.33 387.45 L458.67 387.53 L459.00 387.62 L459.33 387.71 L459.67 387.80 L460.00 387.90 L460.33 388.00 L460.66 388.10 L460.99 388.20 L461.33 388.30 L461.66 388.40 L461.99 388.50 L462.32 388.61 L462.65 388.72 L462.98 388.82 L463.32 388.93 L463.65 389.05 L463.98 389.16 L464.31 389.27 L464.64 389.39 L464.97 389.51 L465.31 389.63 L465.64 389.75 L465.97 389.87 L466.30 390.00 L466.63 390.13 L466.96 390.26 L467.29 390.39 L467.63 390.53 L467.96 390.67 L468.29 390.81 L468.62 390.96 L468.95 391.10 L469.28 391.25 L469.62 391.40 L469.95 391.55 L470.28 391.71 L470.61 391.86 L470.94 392.02 L471.27 392.17 L471.61 392.33 L471.94 392.49 L472.27 392.64 L472.60 392.80 L472.95 392.97 L473.30 393.13 L473.65 393.30 L474.00 393.47 L474.35 393.64 L474.70 393.81 L475.05 393.98 L475.40 394.15 L475.75 394.33 L476.10 394.51 L476.45 394.68 L476.80 394.86 L477.15 395.05 L477.50 395.23 L477.85 395.42 L478.20 395.61 L478.55 395.80 L478.90 396.00 L479.23 396.19 L479.56 396.38 L479.89 396.56 L480.23 396.76 L480.56 396.95 L480.89 397.14 L481.22 397.34 L481.55 397.54 L481.88 397.74 L482.22 397.95 L482.55 398.16 L482.88 398.37 L483.21 398.59 L483.54 398.81 L483.87 399.04 L484.21 399.27 L484.54 399.51 L484.87 399.75 L485.20 400.00 L485.54 400.27 L485.88 400.56 L486.22 400.86 L486.55 401.18 L486.89 401.50 L487.23 401.83 L487.57 402.17 L487.91 402.51 L488.25 402.84 L488.58 403.17 L488.92 403.49 L489.26 403.80 L489.60 404.10 L489.90 404.39 L490.20 404.71 L490.50 405.00 L490.80 405.22 L491.10 405.30 L491.43 405.04 L491.77 404.37 L492.10 403.50 L492.40 402.23 L492.70 400.50 L492.97 398.30 L493.23 395.86 L493.50 394.70 L493.75 396.08 L494.00 398.50 L494.25 400.95 L494.50 403.00 L494.85 404.65 L495.20 405.40 L495.51 405.35 L495.82 405.20 L496.14 404.99 L496.45 404.72 L496.76 404.41 L497.07 404.10 L497.39 403.78 L497.70 403.50 L498.03 403.21 L498.36 402.90 L498.69 402.57 L499.01 402.24 L499.34 401.91 L499.67 401.60 L500.00 401.30 L500.35 401.00 L500.70 400.70 L501.05 400.40 L501.40 400.11 L501.75 399.83 L502.10 399.54 L502.45 399.27 L502.80 398.99 L503.15 398.73 L503.50 398.47 L503.85 398.22 L504.20 397.97 L504.55 397.73 L504.90 397.50 L505.24 397.28 L505.58 397.07 L505.92 396.86 L506.26 396.65 L506.60 396.45 L506.95 396.25 L507.29 396.06 L507.63 395.87 L507.97 395.68 L508.31 395.49 L508.65 395.31 L508.99 395.13 L509.33 394.95 L509.67 394.77 L510.01 394.60 L510.35 394.43 L510.70 394.25 L511.04 394.08 L511.38 393.91 L511.72 393.74 L512.06 393.57 L512.40 393.40 L512.74 393.23 L513.07 393.06 L513.41 392.90 L513.75 392.73 L514.08 392.57 L514.42 392.40 L514.75 392.24 L515.09 392.08 L515.43 391.92 L515.76 391.76 L516.10 391.60 L516.44 391.44 L516.77 391.29 L517.11 391.14 L517.45 390.99 L517.78 390.84 L518.12 390.69 L518.45 390.55 L518.79 390.41 L519.13 390.27 L519.46 390.13 L519.80 390.00 L520.15 389.87 L520.49 389.73 L520.84 389.60 L521.19 389.47 L521.53 389.34 L521.88 389.21 L522.23 389.08 L522.57 388.96 L522.92 388.83 L523.27 388.71 L523.61 388.59 L523.96 388.46 L524.30 388.34 L524.65 388.22 L525.00 388.10 L525.34 387.99 L525.69 387.87 L526.04 387.75 L526.38 387.64 L526.73 387.53 L527.08 387.41 L527.42 387.30 L527.77 387.19 L528.12 387.08 L528.46 386.97 L528.81 386.86 L529.16 386.75 L529.50 386.64 L529.85 386.54 L530.20 386.43 L530.54 386.32 L530.89 386.22 L531.23 386.11 L531.58 386.01 L531.93 385.91 L532.27 385.80 L532.62 385.70 L532.97 385.60 L533.31 385.50 L533.66 385.40 L534.01 385.30 L534.35 385.20 L534.70 385.10 L535.05 385.00 L535.40 384.90 L535.75 384.80 L536.10 384.70 L536.44 384.60 L536.79 384.50 L537.14 384.40 L537.49 384.30 L537.84 384.21 L538.19 384.11 L538.54 384.01 L538.89 383.91 L539.23 383.81 L539.58 383.72 L539.93 383.62 L540.28 383.53 L540.63 383.43 L540.98 383.34 L541.33 383.24 L541.68 383.15 L542.03 383.06 L542.37 382.97 L542.72 382.88 L543.07 382.79 L543.42 382.70 L543.77 382.61 L544.12 382.52 L544.47 382.44 L544.82 382.35 L545.17 382.27 L545.51 382.19 L545.86 382.11 L546.21 382.03 L546.56 381.95 L546.91 381.87 L547.26 381.79 L547.61 381.72 L547.96 381.64 L548.30 381.57 L548.65 381.50 L549.00 381.43 L549.35 381.37 L549.70 381.30 L550.05 381.24 L550.39 381.17 L550.74 381.11 L551.09 381.05 L551.43 380.98 L551.78 380.92 L552.13 380.86 L552.47 380.80 L552.82 380.74 L553.17 380.69 L553.51 380.63 L553.86 380.57 L554.20 380.51 L554.55 380.46 L554.90 380.40 L555.24 380.35 L555.59 380.29 L555.94 380.24 L556.28 380.19 L556.63 380.13 L556.98 380.08 L557.32 380.03 L557.67 379.98 L558.02 379.93 L558.36 379.88 L558.71 379.83 L559.06 379.79 L559.40 379.74 L559.75 379.69 L560.10 379.64 L560.44 379.60 L560.79 379.55 L561.13 379.51 L561.48 379.47 L561.83 379.42 L562.17 379.38 L562.52 379.34 L562.87 379.30 L563.21 379.26 L563.56 379.22 L563.91 379.18 L564.25 379.14 L564.60 379.10 L564.95 379.06 L565.29 379.02 L565.64 378.99 L565.99 378.95 L566.33 378.91 L566.68 378.88 L567.03 378.84 L567.37 378.80 L567.72 378.77 L568.07 378.73 L568.41 378.70 L568.76 378.66 L569.10 378.63 L569.45 378.60 L569.80 378.56 L570.14 378.53 L570.49 378.50 L570.84 378.46 L571.18 378.43 L571.53 378.40 L571.88 378.37 L572.22 378.34 L572.57 378.31 L572.92 378.28 L573.26 378.25 L573.61 378.22 L573.96 378.19 L574.30 378.16 L574.65 378.13 L575.00 378.11 L575.34 378.08 L575.69 378.05 L576.03 378.03 L576.38 378.00 L576.73 377.98 L577.07 377.95 L577.42 377.93 L577.77 377.91 L578.11 377.88 L578.46 377.86 L578.81 377.84 L579.15 377.82 L579.50 377.80" fill="none" stroke="#00893c" stroke-width="1.25" stroke-linejoin="round" stroke-linecap="round" clip-path="url(#c14)"/>
<path d="M407.10 412.30 L407.45 412.32 L407.80 412.34 L408.15 412.35 L408.49 412.37 L408.84 412.39 L409.19 412.41 L409.54 412.43 L409.89 412.44 L410.24 412.46 L410.59 412.48 L410.94 412.50 L411.28 412.52 L411.63 412.54 L411.98 412.56 L412.33 412.57 L412.68 412.59 L413.03 412.61 L413.38 412.63 L413.72 412.65 L414.07 412.67 L414.42 412.69 L414.77 412.71 L415.12 412.73 L415.47 412.75 L415.82 412.76 L416.16 412.78 L416.51 412.80 L416.86 412.82 L417.21 412.84 L417.56 412.86 L417.91 412.88 L418.26 412.90 L418.61 412.92 L418.95 412.94 L419.30 412.96 L419.65 412.98 L420.00 413.00 L420.35 413.02 L420.69 413.04 L421.04 413.06 L421.39 413.08 L421.74 413.10 L422.08 413.12 L422.43 413.14 L422.78 413.16 L423.13 413.18 L423.47 413.20 L423.82 413.22 L424.17 413.24 L424.52 413.26 L424.86 413.29 L425.21 413.31 L425.56 413.33 L425.91 413.35 L426.25 413.37 L426.60 413.39 L426.95 413.41 L427.29 413.43 L427.64 413.45 L427.99 413.48 L428.34 413.50 L428.68 413.52 L429.03 413.54 L429.38 413.56 L429.73 413.58 L430.07 413.60 L430.42 413.63 L430.77 413.65 L431.12 413.67 L431.46 413.69 L431.81 413.71 L432.16 413.73 L432.51 413.76 L432.85 413.78 L433.20 413.80 L433.55 413.82 L433.89 413.84 L434.24 413.87 L434.58 413.89 L434.93 413.91 L435.27 413.93 L435.62 413.95 L435.96 413.98 L436.31 414.00 L436.65 414.02 L437.00 414.04 L437.34 414.07 L437.69 414.09 L438.03 414.11 L438.38 414.13 L438.72 414.16 L439.06 414.18 L439.41 414.20 L439.75 414.23 L440.10 414.25 L440.44 414.27 L440.79 414.29 L441.13 414.32 L441.48 414.34 L441.82 414.36 L442.17 414.39 L442.51 414.41 L442.86 414.43 L443.20 414.45 L443.55 414.48 L443.89 414.50 L444.24 414.52 L444.58 414.54 L444.93 414.57 L445.27 414.59 L445.62 414.61 L445.96 414.63 L446.31 414.66 L446.65 414.68 L447.00 414.70 L447.35 414.72 L447.69 414.74 L448.04 414.77 L448.38 414.79 L448.73 414.81 L449.07 414.83 L449.42 414.85 L449.76 414.87 L450.11 414.89 L450.45 414.91 L450.80 414.93 L451.14 414.95 L451.49 414.97 L451.83 414.99 L452.18 415.01 L452.52 415.03 L452.87 415.05 L453.21 415.07 L453.56 415.09 L453.90 415.12 L454.25 415.14 L454.60 415.16 L454.94 415.18 L455.29 415.20 L455.63 415.22 L455.98 415.24 L456.32 415.26 L456.67 415.28 L457.01 415.30 L457.36 415.32 L457.70 415.35 L458.05 415.37 L458.39 415.39 L458.74 415.41 L459.08 415.43 L459.43 415.46 L459.77 415.48 L460.12 415.50 L460.46 415.53 L460.81 415.55 L461.15 415.58 L461.50 415.60 L461.84 415.62 L462.19 415.65 L462.53 415.68 L462.88 415.70 L463.22 415.73 L463.57 415.76 L463.91 415.78 L464.26 415.81 L464.60 415.84 L464.95 415.87 L465.29 415.89 L465.64 415.92 L465.98 415.95 L466.33 415.98 L466.67 416.01 L467.02 416.04 L467.36 416.07 L467.71 416.10 L468.05 416.13 L468.39 416.16 L468.74 416.19 L469.08 416.22 L469.43 416.25 L469.77 416.28 L470.12 416.31 L470.46 416.34 L470.81 416.37 L471.15 416.40 L471.50 416.43 L471.84 416.46 L472.19 416.49 L472.53 416.52 L472.88 416.55 L473.22 416.58 L473.57 416.61 L473.91 416.64 L474.26 416.67 L474.60 416.70 L474.94 416.73 L475.28 416.76 L475.61 416.79 L475.95 416.81 L476.29 416.84 L476.62 416.87 L476.96 416.90 L477.30 416.92 L477.64 416.95 L477.98 416.98 L478.31 417.01 L478.65 417.04 L478.99 417.06 L479.32 417.09 L479.66 417.12 L480.00 417.15 L480.34 417.18 L480.68 417.21 L481.01 417.24 L481.35 417.27 L481.69 417.30 L482.02 417.33 L482.36 417.37 L482.70 417.40 L483.03 417.43 L483.36 417.47 L483.69 417.51 L484.02 417.55 L484.36 417.59 L484.69 417.63 L485.02 417.67 L485.35 417.72 L485.68 417.76 L486.01 417.80 L486.34 417.84 L486.68 417.88 L487.01 417.91 L487.34 417.94 L487.67 417.97 L488.00 418.00 L488.34 418.03 L488.68 418.05 L489.02 418.08 L489.36 418.09 L489.70 418.10 L490.02 418.05 L490.35 417.93 L490.68 417.77 L491.00 417.60 L491.30 417.46 L491.60 417.28 L491.90 417.00 L492.13 416.52 L492.37 415.66 L492.60 414.50 L492.95 411.18 L493.30 406.00 L493.60 399.54 L493.90 391.27 L494.20 383.30 L494.53 375.39 L494.87 367.79 L495.20 360.90 L495.55 353.78 L495.90 349.00 L496.10 347.96 L496.30 347.50 L496.55 347.93 L496.80 349.00 L497.15 357.60 L497.50 368.40 L497.80 373.30 L498.10 377.38 L498.40 380.70 L498.70 383.30 L499.04 385.73 L499.38 387.87 L499.72 389.68 L500.06 391.13 L500.40 392.20 L500.75 393.04 L501.09 393.80 L501.44 394.50 L501.78 395.13 L502.13 395.71 L502.48 396.23 L502.82 396.71 L503.17 397.14 L503.52 397.55 L503.86 397.92 L504.21 398.26 L504.55 398.59 L504.90 398.90 L505.24 399.20 L505.58 399.48 L505.92 399.76 L506.26 400.02 L506.60 400.27 L506.95 400.51 L507.29 400.75 L507.63 400.97 L507.97 401.19 L508.31 401.40 L508.65 401.60 L508.99 401.79 L509.33 401.98 L509.67 402.16 L510.01 402.33 L510.35 402.50 L510.70 402.66 L511.04 402.81 L511.38 402.97 L511.72 403.11 L512.06 403.26 L512.40 403.40 L512.74 403.54 L513.07 403.67 L513.41 403.80 L513.75 403.92 L514.08 404.04 L514.42 404.16 L514.75 404.27 L515.09 404.38 L515.43 404.49 L515.76 404.60 L516.10 404.70 L516.44 404.80 L516.77 404.90 L517.11 405.00 L517.45 405.09 L517.78 405.18 L518.12 405.27 L518.45 405.36 L518.79 405.45 L519.13 405.53 L519.46 405.62 L519.80 405.70 L520.15 405.78 L520.49 405.87 L520.84 405.95 L521.19 406.03 L521.53 406.11 L521.88 406.19 L522.23 406.27 L522.57 406.35 L522.92 406.43 L523.27 406.51 L523.61 406.58 L523.96 406.66 L524.30 406.73 L524.65 406.81 L525.00 406.88 L525.34 406.95 L525.69 407.02 L526.04 407.09 L526.38 407.16 L526.73 407.23 L527.08 407.30 L527.42 407.36 L527.77 407.43 L528.12 407.50 L528.46 407.56 L528.81 407.62 L529.16 407.69 L529.50 407.75 L529.85 407.81 L530.20 407.87 L530.54 407.93 L530.89 407.99 L531.23 408.05 L531.58 408.11 L531.93 408.17 L532.27 408.22 L532.62 408.28 L532.97 408.33 L533.31 408.39 L533.66 408.44 L534.01 408.50 L534.35 408.55 L534.70 408.60 L535.05 408.65 L535.40 408.70 L535.75 408.75 L536.10 408.80 L536.44 408.85 L536.79 408.90 L537.14 408.95 L537.49 409.00 L537.84 409.04 L538.19 409.09 L538.54 409.14 L538.89 409.18 L539.23 409.23 L539.58 409.27 L539.93 409.32 L540.28 409.36 L540.63 409.41 L540.98 409.45 L541.33 409.49 L541.68 409.54 L542.03 409.58 L542.37 409.62 L542.72 409.66 L543.07 409.70 L543.42 409.74 L543.77 409.78 L544.12 409.82 L544.47 409.86 L544.82 409.90 L545.17 409.94 L545.51 409.97 L545.86 410.01 L546.21 410.05 L546.56 410.08 L546.91 410.12 L547.26 410.16 L547.61 410.19 L547.96 410.23 L548.30 410.26 L548.65 410.30 L549.00 410.33 L549.35 410.37 L549.70 410.40 L550.05 410.43 L550.39 410.47 L550.74 410.50 L551.09 410.53 L551.43 410.56 L551.78 410.60 L552.13 410.63 L552.47 410.66 L552.82 410.69 L553.17 410.72 L553.51 410.75 L553.86 410.78 L554.20 410.81 L554.55 410.84 L554.90 410.87 L555.24 410.90 L555.59 410.93 L555.94 410.96 L556.28 410.99 L556.63 411.02 L556.98 411.05 L557.32 411.07 L557.67 411.10 L558.02 411.13 L558.36 411.16 L558.71 411.18 L559.06 411.21 L559.40 411.24 L559.75 411.26 L560.10 411.29 L560.44 411.31 L560.79 411.34 L561.13 411.36 L561.48 411.39 L561.83 411.41 L562.17 411.44 L562.52 411.46 L562.87 411.49 L563.21 411.51 L563.56 411.53 L563.91 411.55 L564.25 411.58 L564.60 411.60 L564.95 411.62 L565.29 411.64 L565.64 411.67 L565.99 411.69 L566.33 411.71 L566.68 411.73 L567.03 411.75 L567.37 411.77 L567.72 411.80 L568.07 411.82 L568.41 411.84 L568.76 411.86 L569.10 411.88 L569.45 411.90 L569.80 411.92 L570.14 411.94 L570.49 411.96 L570.84 411.98 L571.18 412.00 L571.53 412.02 L571.88 412.04 L572.22 412.05 L572.57 412.07 L572.92 412.09 L573.26 412.11 L573.61 412.13 L573.96 412.15 L574.30 412.16 L574.65 412.18 L575.00 412.20 L575.34 412.21 L575.69 412.23 L576.03 412.25 L576.38 412.26 L576.73 412.28 L577.07 412.30 L577.42 412.31 L577.77 412.33 L578.11 412.34 L578.46 412.36 L578.81 412.37 L579.15 412.39 L579.50 412.40" fill="none" stroke="#7434a4" stroke-width="1.25" stroke-linejoin="round" stroke-linecap="round" clip-path="url(#c14)"/>
<path d="M440.30 508.20 L440.64 507.85 L440.98 507.51 L441.31 507.16 L441.65 506.82 L441.99 506.48 L442.32 506.13 L442.66 505.79 L443.00 505.45 L443.34 505.10 L443.68 504.76 L444.01 504.42 L444.35 504.08 L444.69 503.73 L445.02 503.39 L445.36 503.05 L445.70 502.71 L446.04 502.37 L446.38 502.03 L446.71 501.69 L447.05 501.35 L447.39 501.01 L447.72 500.68 L448.06 500.34 L448.40 500.00 L448.74 499.66 L449.08 499.32 L449.42 498.98 L449.76 498.65 L450.10 498.31 L450.44 497.98 L450.78 497.64 L451.12 497.31 L451.46 496.98 L451.80 496.64 L452.14 496.31 L452.48 495.98 L452.82 495.64 L453.16 495.31 L453.50 494.98 L453.84 494.64 L454.18 494.31 L454.52 493.97 L454.86 493.64 L455.20 493.30 L455.54 492.96 L455.88 492.62 L456.22 492.28 L456.56 491.94 L456.90 491.60 L457.25 491.25 L457.59 490.91 L457.94 490.57 L458.28 490.22 L458.63 489.88 L458.97 489.53 L459.32 489.18 L459.66 488.82 L460.01 488.45 L460.35 488.08 L460.70 487.70 L461.05 487.31 L461.39 486.90 L461.74 486.48 L462.08 486.05 L462.43 485.62 L462.77 485.18 L463.12 484.74 L463.46 484.30 L463.81 483.86 L464.15 483.43 L464.50 483.00 L464.82 482.60 L465.15 482.20 L465.48 481.80 L465.80 481.41 L466.12 481.01 L466.45 480.61 L466.77 480.21 L467.10 479.82 L467.42 479.42 L467.75 479.01 L468.07 478.61 L468.40 478.20 L468.71 477.79 L469.02 477.36 L469.33 476.91 L469.64 476.46 L469.96 476.02 L470.27 475.60 L470.58 475.22 L470.89 474.88 L471.20 474.60 L471.55 474.34 L471.89 474.12 L472.24 473.92 L472.58 473.74 L472.93 473.57 L473.27 473.40 L473.62 473.24 L473.96 473.08 L474.31 472.90 L474.65 472.71 L475.00 472.50 L475.34 472.27 L475.69 472.04 L476.03 471.79 L476.37 471.54 L476.71 471.28 L477.06 471.01 L477.40 470.74 L477.74 470.45 L478.09 470.16 L478.43 469.87 L478.77 469.56 L479.11 469.25 L479.46 468.93 L479.80 468.60 L480.14 468.27 L480.49 467.92 L480.83 467.57 L481.17 467.22 L481.51 466.85 L481.86 466.47 L482.20 466.07 L482.54 465.67 L482.89 465.25 L483.23 464.81 L483.57 464.36 L483.91 463.89 L484.26 463.41 L484.60 462.90 L484.95 462.36 L485.29 461.78 L485.64 461.16 L485.98 460.50 L486.33 459.82 L486.67 459.11 L487.02 458.38 L487.36 457.63 L487.71 456.86 L488.05 456.08 L488.40 455.30 L488.71 454.49 L489.02 453.52 L489.33 452.46 L489.64 451.38 L489.96 450.34 L490.27 449.42 L490.58 448.68 L490.89 448.18 L491.20 448.00 L491.55 449.10 L491.90 451.00 L492.20 452.85 L492.50 454.00 L492.75 452.88 L493.00 451.00 L493.20 449.44 L493.40 448.50 L493.75 448.63 L494.09 448.99 L494.44 449.56 L494.78 450.28 L495.13 451.14 L495.48 452.09 L495.82 453.11 L496.17 454.15 L496.52 455.17 L496.86 456.16 L497.21 457.07 L497.55 457.86 L497.90 458.50 L498.23 459.02 L498.56 459.53 L498.89 460.02 L499.22 460.49 L499.56 460.94 L499.89 461.38 L500.22 461.81 L500.55 462.22 L500.88 462.62 L501.21 463.01 L501.54 463.38 L501.88 463.74 L502.21 464.10 L502.54 464.44 L502.87 464.77 L503.20 465.10 L503.55 465.43 L503.89 465.75 L504.24 466.07 L504.59 466.37 L504.94 466.67 L505.28 466.95 L505.63 467.23 L505.98 467.51 L506.33 467.77 L506.67 468.04 L507.02 468.30 L507.37 468.55 L507.72 468.81 L508.06 469.06 L508.41 469.30 L508.76 469.55 L509.11 469.80 L509.45 470.05 L509.80 470.30 L510.14 470.54 L510.47 470.77 L510.81 470.99 L511.15 471.21 L511.48 471.42 L511.82 471.64 L512.15 471.86 L512.49 472.08 L512.83 472.31 L513.16 472.55 L513.50 472.80 L513.83 473.05 L514.16 473.32 L514.49 473.59 L514.81 473.87 L515.14 474.16 L515.47 474.47 L515.80 474.80 L516.12 475.15 L516.45 475.53 L516.77 475.94 L517.09 476.37 L517.42 476.82 L517.74 477.28 L518.06 477.75 L518.38 478.22 L518.71 478.68 L519.03 479.14 L519.35 479.58 L519.68 480.00 L520.00 480.40 L520.34 480.81 L520.69 481.21 L521.03 481.60 L521.37 481.99 L521.71 482.38 L522.06 482.76 L522.40 483.13 L522.74 483.51 L523.09 483.88 L523.43 484.24 L523.77 484.60 L524.11 484.96 L524.46 485.31 L524.80 485.67 L525.14 486.02 L525.49 486.37 L525.83 486.71 L526.17 487.06 L526.51 487.40 L526.86 487.75 L527.20 488.09 L527.54 488.43 L527.89 488.78 L528.23 489.12 L528.57 489.46 L528.91 489.81 L529.26 490.15 L529.60 490.50 L529.94 490.85 L530.28 491.19 L530.63 491.53 L530.97 491.87 L531.31 492.21 L531.65 492.55 L532.00 492.88 L532.34 493.22 L532.68 493.55 L533.02 493.89 L533.37 494.22 L533.71 494.55 L534.05 494.88 L534.39 495.21 L534.73 495.54 L535.08 495.88 L535.42 496.21 L535.76 496.54 L536.10 496.87 L536.45 497.20 L536.79 497.53 L537.13 497.86 L537.47 498.20 L537.82 498.53 L538.16 498.86 L538.50 499.20 L538.84 499.54 L539.19 499.88 L539.53 500.22 L539.88 500.56 L540.22 500.90 L540.57 501.23 L540.91 501.57 L541.26 501.91 L541.60 502.25 L541.94 502.59 L542.29 502.93 L542.63 503.28 L542.98 503.62 L543.32 503.96 L543.67 504.30 L544.01 504.64 L544.36 504.98 L544.70 505.32 L545.04 505.66 L545.39 506.00 L545.73 506.35 L546.08 506.69 L546.42 507.03 L546.77 507.37 L547.11 507.71 L547.46 508.06 L547.80 508.40" fill="none" stroke="#00893c" stroke-width="1.25" stroke-linejoin="round" stroke-linecap="round" clip-path="url(#c15)"/>
<path d="M407.40 495.00 L407.75 494.95 L408.10 494.90 L408.44 494.85 L408.79 494.80 L409.14 494.75 L409.49 494.70 L409.84 494.65 L410.19 494.59 L410.53 494.54 L410.88 494.49 L411.23 494.44 L411.58 494.39 L411.93 494.34 L412.27 494.28 L412.62 494.23 L412.97 494.18 L413.32 494.13 L413.67 494.08 L414.01 494.02 L414.36 493.97 L414.71 493.92 L415.06 493.87 L415.41 493.81 L415.76 493.76 L416.10 493.71 L416.45 493.65 L416.80 493.60 L417.14 493.55 L417.48 493.50 L417.82 493.44 L418.16 493.39 L418.50 493.34 L418.84 493.29 L419.18 493.24 L419.51 493.18 L419.85 493.13 L420.19 493.08 L420.53 493.03 L420.87 492.97 L421.21 492.92 L421.55 492.87 L421.89 492.82 L422.23 492.76 L422.57 492.71 L422.91 492.65 L423.25 492.60 L423.59 492.55 L423.93 492.49 L424.26 492.44 L424.60 492.38 L424.94 492.33 L425.28 492.27 L425.62 492.21 L425.96 492.16 L426.30 492.10 L426.65 492.04 L427.00 491.98 L427.34 491.92 L427.69 491.86 L428.04 491.80 L428.39 491.74 L428.74 491.67 L429.09 491.61 L429.43 491.55 L429.78 491.48 L430.13 491.42 L430.48 491.35 L430.83 491.29 L431.17 491.22 L431.52 491.16 L431.87 491.10 L432.22 491.03 L432.57 490.97 L432.91 490.90 L433.26 490.84 L433.61 490.77 L433.96 490.71 L434.31 490.65 L434.66 490.58 L435.00 490.52 L435.35 490.46 L435.70 490.40 L436.04 490.34 L436.38 490.28 L436.72 490.23 L437.06 490.17 L437.40 490.11 L437.74 490.06 L438.07 490.00 L438.41 489.94 L438.75 489.89 L439.09 489.83 L439.43 489.78 L439.77 489.72 L440.11 489.67 L440.45 489.61 L440.79 489.56 L441.13 489.50 L441.47 489.45 L441.81 489.39 L442.15 489.33 L442.49 489.28 L442.82 489.22 L443.16 489.16 L443.50 489.10 L443.84 489.04 L444.18 488.98 L444.52 488.92 L444.86 488.86 L445.20 488.80 L445.54 488.74 L445.88 488.68 L446.21 488.62 L446.55 488.56 L446.89 488.50 L447.23 488.44 L447.57 488.38 L447.90 488.32 L448.24 488.26 L448.58 488.20 L448.92 488.14 L449.26 488.07 L449.59 488.01 L449.93 487.95 L450.27 487.88 L450.61 487.82 L450.94 487.75 L451.28 487.68 L451.62 487.61 L451.96 487.54 L452.30 487.47 L452.63 487.39 L452.97 487.32 L453.31 487.24 L453.65 487.15 L453.99 487.07 L454.32 486.98 L454.66 486.89 L455.00 486.80 L455.34 486.70 L455.69 486.59 L456.03 486.48 L456.37 486.35 L456.71 486.22 L457.06 486.09 L457.40 485.95 L457.74 485.81 L458.09 485.66 L458.43 485.51 L458.77 485.36 L459.11 485.21 L459.46 485.05 L459.80 484.90 L460.14 484.75 L460.47 484.59 L460.81 484.43 L461.14 484.27 L461.48 484.10 L461.81 483.93 L462.15 483.76 L462.49 483.59 L462.82 483.41 L463.16 483.23 L463.49 483.05 L463.83 482.87 L464.16 482.69 L464.50 482.50 L464.84 482.31 L465.19 482.11 L465.53 481.92 L465.87 481.72 L466.21 481.52 L466.56 481.31 L466.90 481.10 L467.24 480.89 L467.59 480.68 L467.93 480.47 L468.27 480.25 L468.61 480.04 L468.96 479.82 L469.30 479.60 L469.64 479.38 L469.99 479.16 L470.33 478.94 L470.67 478.71 L471.01 478.49 L471.36 478.26 L471.70 478.03 L472.04 477.80 L472.39 477.56 L472.73 477.32 L473.07 477.07 L473.41 476.82 L473.76 476.56 L474.10 476.30 L474.44 476.03 L474.79 475.76 L475.13 475.48 L475.47 475.20 L475.81 474.92 L476.16 474.62 L476.50 474.32 L476.84 474.02 L477.19 473.70 L477.53 473.38 L477.87 473.05 L478.21 472.71 L478.56 472.36 L478.90 472.00 L479.24 471.64 L479.57 471.27 L479.91 470.89 L480.24 470.50 L480.58 470.09 L480.91 469.68 L481.25 469.25 L481.59 468.81 L481.92 468.35 L482.26 467.88 L482.59 467.39 L482.93 466.88 L483.26 466.35 L483.60 465.80 L483.93 465.24 L484.25 464.65 L484.58 464.02 L484.90 463.36 L485.23 462.67 L485.55 461.95 L485.88 461.21 L486.20 460.45 L486.52 459.66 L486.85 458.86 L487.18 458.04 L487.50 457.20 L487.81 456.36 L488.12 455.45 L488.43 454.49 L488.74 453.50 L489.06 452.50 L489.37 451.49 L489.68 450.49 L489.99 449.52 L490.30 448.60 L490.60 447.60 L490.90 446.52 L491.20 445.65 L491.50 445.30 L491.77 445.42 L492.05 445.75 L492.33 446.23 L492.60 446.80 L492.95 447.95 L493.30 450.00 L493.50 452.06 L493.70 456.00 L494.00 480.00 L494.30 515.00 L494.63 515.00 L494.96 515.00 L495.29 515.00 L495.62 515.00 L495.95 515.00 L496.28 515.00 L496.61 515.00 L496.94 515.00 L497.27 515.00 L497.60 515.00 L497.90 508.00 L498.17 503.03 L498.45 498.50 L498.73 494.92 L499.00 492.80 L499.31 491.52 L499.63 490.45 L499.94 489.58 L500.26 488.87 L500.57 488.31 L500.89 487.86 L501.20 487.50 L501.53 487.17 L501.87 486.86 L502.20 486.60 L502.53 486.39 L502.87 486.25 L503.20 486.20 L503.55 486.21 L503.89 486.22 L504.24 486.25 L504.59 486.29 L504.94 486.34 L505.28 486.40 L505.63 486.46 L505.98 486.53 L506.33 486.61 L506.67 486.69 L507.02 486.77 L507.37 486.86 L507.72 486.95 L508.06 487.04 L508.41 487.14 L508.76 487.23 L509.11 487.32 L509.45 487.41 L509.80 487.50 L510.14 487.59 L510.48 487.68 L510.82 487.78 L511.16 487.89 L511.50 488.00 L511.84 488.12 L512.18 488.24 L512.52 488.37 L512.86 488.49 L513.20 488.63 L513.54 488.76 L513.88 488.90 L514.22 489.03 L514.56 489.17 L514.90 489.31 L515.24 489.45 L515.58 489.58 L515.92 489.72 L516.26 489.86 L516.60 489.99 L516.94 490.12 L517.28 490.25 L517.62 490.37 L517.96 490.49 L518.30 490.61 L518.64 490.72 L518.98 490.82 L519.32 490.92 L519.66 491.01 L520.00 491.10 L520.34 491.18 L520.69 491.26 L521.03 491.34 L521.38 491.42 L521.72 491.50 L522.06 491.57 L522.41 491.65 L522.75 491.72 L523.09 491.79 L523.44 491.86 L523.78 491.93 L524.12 492.00 L524.47 492.06 L524.81 492.13 L525.16 492.19 L525.50 492.25 L525.84 492.32 L526.19 492.38 L526.53 492.43 L526.88 492.49 L527.22 492.55 L527.56 492.60 L527.91 492.66 L528.25 492.71 L528.59 492.76 L528.94 492.82 L529.28 492.87 L529.62 492.91 L529.97 492.96 L530.31 493.01 L530.66 493.06 L531.00 493.10 L531.34 493.14 L531.69 493.19 L532.03 493.23 L532.38 493.27 L532.72 493.32 L533.06 493.36 L533.41 493.40 L533.75 493.44 L534.09 493.48 L534.44 493.52 L534.78 493.56 L535.12 493.60 L535.47 493.63 L535.81 493.67 L536.16 493.71 L536.50 493.74 L536.84 493.78 L537.19 493.81 L537.53 493.84 L537.88 493.88 L538.22 493.91 L538.56 493.94 L538.91 493.97 L539.25 494.00 L539.59 494.03 L539.94 494.05 L540.28 494.08 L540.62 494.11 L540.97 494.13 L541.31 494.16 L541.66 494.18 L542.00 494.20 L542.34 494.22 L542.69 494.24 L543.03 494.26 L543.38 494.28 L543.72 494.30 L544.06 494.32 L544.41 494.34 L544.75 494.36 L545.09 494.38 L545.44 494.40 L545.78 494.42 L546.12 494.44 L546.47 494.45 L546.81 494.47 L547.16 494.49 L547.50 494.50 L547.84 494.52 L548.19 494.53 L548.53 494.55 L548.88 494.56 L549.22 494.58 L549.56 494.59 L549.91 494.60 L550.25 494.62 L550.59 494.63 L550.94 494.64 L551.28 494.65 L551.62 494.66 L551.97 494.67 L552.31 494.68 L552.66 494.69 L553.00 494.70 L553.35 494.71 L553.70 494.72 L554.05 494.73 L554.39 494.73 L554.74 494.74 L555.09 494.75 L555.44 494.76 L555.79 494.77 L556.14 494.77 L556.49 494.78 L556.84 494.79 L557.18 494.80 L557.53 494.81 L557.88 494.81 L558.23 494.82 L558.58 494.83 L558.93 494.84 L559.28 494.85 L559.62 494.85 L559.97 494.86 L560.32 494.87 L560.67 494.88 L561.02 494.88 L561.37 494.89 L561.72 494.90 L562.07 494.90 L562.41 494.91 L562.76 494.92 L563.11 494.92 L563.46 494.93 L563.81 494.94 L564.16 494.94 L564.51 494.95 L564.86 494.96 L565.20 494.96 L565.55 494.97 L565.90 494.97 L566.25 494.98 L566.60 494.99 L566.95 494.99 L567.30 495.00 L567.64 495.00 L567.99 495.01 L568.34 495.01 L568.69 495.02 L569.04 495.02 L569.39 495.03 L569.74 495.03 L570.09 495.04 L570.43 495.04 L570.78 495.05 L571.13 495.05 L571.48 495.05 L571.83 495.06 L572.18 495.06 L572.53 495.06 L572.88 495.07 L573.22 495.07 L573.57 495.07 L573.92 495.08 L574.27 495.08 L574.62 495.08 L574.97 495.08 L575.32 495.09 L575.66 495.09 L576.01 495.09 L576.36 495.09 L576.71 495.09 L577.06 495.10 L577.41 495.10 L577.76 495.10 L578.11 495.10 L578.45 495.10 L578.80 495.10 L579.15 495.10 L579.50 495.10" fill="none" stroke="#7434a4" stroke-width="1.25" stroke-linejoin="round" stroke-linecap="round" clip-path="url(#c15)"/>
<path d="M407.40 494.80 L407.75 494.74 L408.10 494.68 L408.44 494.62 L408.79 494.56 L409.14 494.50 L409.49 494.44 L409.84 494.38 L410.19 494.31 L410.53 494.25 L410.88 494.19 L411.23 494.13 L411.58 494.07 L411.93 494.00 L412.27 493.94 L412.62 493.88 L412.97 493.81 L413.32 493.75 L413.67 493.69 L414.01 493.62 L414.36 493.56 L414.71 493.49 L415.06 493.43 L415.41 493.36 L415.76 493.30 L416.10 493.23 L416.45 493.17 L416.80 493.10 L417.14 493.04 L417.48 492.97 L417.82 492.91 L418.16 492.84 L418.50 492.78 L418.84 492.71 L419.18 492.65 L419.51 492.58 L419.85 492.52 L420.19 492.45 L420.53 492.39 L420.87 492.32 L421.21 492.26 L421.55 492.19 L421.89 492.12 L422.23 492.06 L422.57 491.99 L422.91 491.92 L423.25 491.85 L423.59 491.78 L423.93 491.71 L424.26 491.64 L424.60 491.57 L424.94 491.50 L425.28 491.42 L425.62 491.35 L425.96 491.28 L426.30 491.20 L426.65 491.12 L427.00 491.04 L427.34 490.96 L427.69 490.88 L428.04 490.80 L428.39 490.71 L428.74 490.63 L429.09 490.54 L429.43 490.46 L429.78 490.37 L430.13 490.28 L430.48 490.19 L430.83 490.10 L431.17 490.01 L431.52 489.92 L431.87 489.83 L432.22 489.74 L432.57 489.65 L432.91 489.55 L433.26 489.46 L433.61 489.37 L433.96 489.27 L434.31 489.18 L434.66 489.08 L435.00 488.99 L435.35 488.90 L435.70 488.80 L436.04 488.71 L436.38 488.61 L436.72 488.52 L437.06 488.43 L437.40 488.34 L437.74 488.24 L438.07 488.15 L438.41 488.06 L438.75 487.96 L439.09 487.87 L439.43 487.77 L439.77 487.68 L440.11 487.58 L440.45 487.48 L440.79 487.38 L441.13 487.28 L441.47 487.18 L441.81 487.08 L442.15 486.98 L442.49 486.88 L442.82 486.77 L443.16 486.67 L443.50 486.56 L443.84 486.45 L444.18 486.34 L444.52 486.23 L444.86 486.12 L445.20 486.00 L445.54 485.88 L445.88 485.77 L446.21 485.65 L446.55 485.53 L446.89 485.42 L447.23 485.30 L447.57 485.18 L447.90 485.05 L448.24 484.93 L448.58 484.81 L448.92 484.68 L449.26 484.55 L449.59 484.43 L449.93 484.29 L450.27 484.16 L450.61 484.02 L450.94 483.89 L451.28 483.75 L451.62 483.60 L451.96 483.46 L452.30 483.31 L452.63 483.16 L452.97 483.00 L453.31 482.84 L453.65 482.68 L453.99 482.52 L454.32 482.35 L454.66 482.18 L455.00 482.00 L455.34 481.81 L455.69 481.61 L456.03 481.40 L456.37 481.17 L456.71 480.94 L457.06 480.70 L457.40 480.46 L457.74 480.21 L458.09 479.95 L458.43 479.70 L458.77 479.45 L459.11 479.19 L459.46 478.94 L459.80 478.70 L460.14 478.47 L460.47 478.23 L460.81 478.00 L461.14 477.77 L461.48 477.54 L461.81 477.31 L462.15 477.08 L462.49 476.84 L462.82 476.60 L463.16 476.36 L463.49 476.10 L463.83 475.84 L464.16 475.58 L464.50 475.30 L464.84 475.00 L465.19 474.69 L465.53 474.37 L465.87 474.03 L466.21 473.68 L466.56 473.33 L466.90 472.97 L467.24 472.61 L467.59 472.24 L467.93 471.88 L468.27 471.53 L468.61 471.18 L468.96 470.83 L469.30 470.50 L469.64 470.17 L469.99 469.84 L470.33 469.52 L470.67 469.20 L471.01 468.88 L471.36 468.58 L471.70 468.30 L472.03 468.04 L472.36 467.80 L472.69 467.56 L473.02 467.33 L473.35 467.11 L473.68 466.90 L474.02 466.68 L474.35 466.47 L474.68 466.25 L475.01 466.02 L475.34 465.79 L475.67 465.55 L476.00 465.30 L476.34 465.03 L476.69 464.75 L477.03 464.47 L477.37 464.19 L477.71 463.90 L478.06 463.60 L478.40 463.30 L478.74 462.99 L479.09 462.68 L479.43 462.35 L479.77 462.03 L480.11 461.69 L480.46 461.35 L480.80 461.00 L481.14 460.65 L481.47 460.30 L481.81 459.95 L482.14 459.59 L482.48 459.22 L482.81 458.84 L483.15 458.45 L483.49 458.05 L483.82 457.63 L484.16 457.20 L484.49 456.76 L484.83 456.29 L485.16 455.81 L485.50 455.30 L485.82 454.79 L486.14 454.24 L486.47 453.67 L486.79 453.05 L487.11 452.41 L487.43 451.73 L487.76 451.02 L488.08 450.28 L488.40 449.50 L488.74 448.60 L489.09 447.59 L489.43 446.51 L489.77 445.38 L490.11 444.22 L490.46 443.05 L490.80 441.90 L491.15 440.41 L491.50 439.50 L491.83 440.32 L492.17 442.13 L492.50 444.00 L492.77 445.60 L493.03 447.24 L493.30 448.00 L493.60 447.90 L493.90 447.70 L494.20 447.60 L494.53 447.66 L494.87 447.80 L495.20 448.00 L495.54 448.37 L495.88 449.02 L496.21 449.87 L496.55 450.85 L496.89 451.88 L497.22 452.88 L497.56 453.78 L497.90 454.50 L498.23 455.09 L498.56 455.65 L498.89 456.19 L499.22 456.71 L499.56 457.22 L499.89 457.70 L500.22 458.17 L500.55 458.62 L500.88 459.06 L501.21 459.48 L501.54 459.89 L501.88 460.29 L502.21 460.68 L502.54 461.06 L502.87 461.43 L503.20 461.80 L503.55 462.17 L503.89 462.54 L504.24 462.89 L504.59 463.24 L504.94 463.58 L505.28 463.91 L505.63 464.23 L505.98 464.55 L506.33 464.85 L506.67 465.16 L507.02 465.46 L507.37 465.75 L507.72 466.04 L508.06 466.32 L508.41 466.60 L508.76 466.88 L509.11 467.15 L509.45 467.43 L509.80 467.70 L510.14 467.96 L510.47 468.20 L510.81 468.43 L511.14 468.66 L511.48 468.88 L511.81 469.10 L512.15 469.31 L512.49 469.53 L512.82 469.75 L513.16 469.98 L513.49 470.22 L513.83 470.46 L514.16 470.72 L514.50 471.00 L514.82 471.28 L515.13 471.58 L515.45 471.90 L515.77 472.23 L516.08 472.56 L516.40 472.90 L516.73 473.26 L517.05 473.64 L517.38 474.03 L517.71 474.43 L518.04 474.84 L518.36 475.24 L518.69 475.65 L519.02 476.04 L519.35 476.41 L519.67 476.77 L520.00 477.10 L520.34 477.43 L520.69 477.75 L521.03 478.06 L521.38 478.36 L521.72 478.66 L522.06 478.95 L522.41 479.23 L522.75 479.50 L523.09 479.78 L523.44 480.04 L523.78 480.31 L524.12 480.57 L524.47 480.83 L524.81 481.09 L525.16 481.34 L525.50 481.60 L525.84 481.86 L526.19 482.12 L526.53 482.38 L526.88 482.63 L527.22 482.89 L527.56 483.14 L527.91 483.39 L528.25 483.64 L528.59 483.89 L528.94 484.12 L529.28 484.35 L529.62 484.58 L529.97 484.80 L530.31 485.01 L530.66 485.21 L531.00 485.40 L531.34 485.59 L531.69 485.77 L532.03 485.95 L532.38 486.12 L532.72 486.30 L533.06 486.47 L533.41 486.64 L533.75 486.81 L534.09 486.97 L534.44 487.14 L534.78 487.30 L535.12 487.45 L535.47 487.61 L535.81 487.76 L536.16 487.91 L536.50 488.06 L536.84 488.20 L537.19 488.34 L537.53 488.49 L537.88 488.62 L538.22 488.76 L538.56 488.89 L538.91 489.02 L539.25 489.15 L539.59 489.28 L539.94 489.40 L540.28 489.52 L540.62 489.64 L540.97 489.76 L541.31 489.88 L541.66 489.99 L542.00 490.10 L542.34 490.21 L542.69 490.32 L543.03 490.43 L543.38 490.53 L543.72 490.64 L544.06 490.74 L544.41 490.85 L544.75 490.95 L545.09 491.05 L545.44 491.15 L545.78 491.25 L546.12 491.34 L546.47 491.44 L546.81 491.53 L547.16 491.63 L547.50 491.72 L547.84 491.81 L548.19 491.89 L548.53 491.98 L548.88 492.06 L549.22 492.14 L549.56 492.22 L549.91 492.30 L550.25 492.38 L550.59 492.45 L550.94 492.52 L551.28 492.59 L551.62 492.66 L551.97 492.72 L552.31 492.78 L552.66 492.84 L553.00 492.90 L553.34 492.96 L553.69 493.01 L554.03 493.06 L554.38 493.12 L554.72 493.17 L555.06 493.22 L555.41 493.27 L555.75 493.33 L556.09 493.38 L556.44 493.43 L556.78 493.47 L557.12 493.52 L557.47 493.57 L557.81 493.61 L558.16 493.66 L558.50 493.70 L558.84 493.74 L559.19 493.78 L559.53 493.82 L559.88 493.86 L560.22 493.90 L560.56 493.93 L560.91 493.97 L561.25 494.00 L561.59 494.03 L561.94 494.06 L562.28 494.09 L562.62 494.11 L562.97 494.14 L563.31 494.16 L563.66 494.18 L564.00 494.20 L564.34 494.22 L564.69 494.24 L565.03 494.25 L565.38 494.27 L565.72 494.29 L566.07 494.31 L566.41 494.32 L566.76 494.34 L567.10 494.36 L567.44 494.37 L567.79 494.39 L568.13 494.40 L568.48 494.42 L568.82 494.43 L569.17 494.45 L569.51 494.46 L569.86 494.48 L570.20 494.49 L570.54 494.51 L570.89 494.52 L571.23 494.53 L571.58 494.55 L571.92 494.56 L572.27 494.57 L572.61 494.58 L572.96 494.59 L573.30 494.60 L573.64 494.61 L573.99 494.62 L574.33 494.63 L574.68 494.64 L575.02 494.65 L575.37 494.65 L575.71 494.66 L576.06 494.67 L576.40 494.67 L576.74 494.68 L577.09 494.68 L577.43 494.69 L577.78 494.69 L578.12 494.69 L578.47 494.70 L578.81 494.70 L579.16 494.70 L579.50 494.70" fill="none" stroke="#000" stroke-width="1.25" stroke-linejoin="round" stroke-linecap="round" clip-path="url(#c15)"/>
<path d="M83.25 93.40L83.25 92.40M83.25 16.40L83.25 17.40M92.99 93.40L92.99 91.40M92.99 16.40L92.99 18.40M102.74 93.40L102.74 92.40M102.74 16.40L102.74 17.40M112.49 93.40L112.49 92.40M112.49 16.40L112.49 17.40M122.23 93.40L122.23 92.40M122.23 16.40L122.23 17.40M131.98 93.40L131.98 91.40M131.98 16.40L131.98 18.40M141.72 93.40L141.72 92.40M141.72 16.40L141.72 17.40M151.47 93.40L151.47 92.40M151.47 16.40L151.47 17.40M161.22 93.40L161.22 92.40M161.22 16.40L161.22 17.40M170.96 93.40L170.96 91.40M170.96 16.40L170.96 18.40M180.71 93.40L180.71 92.40M180.71 16.40L180.71 17.40M190.46 93.40L190.46 92.40M190.46 16.40L190.46 17.40M200.20 93.40L200.20 92.40M200.20 16.40L200.20 17.40M209.95 93.40L209.95 91.40M209.95 16.40L209.95 18.40M219.70 93.40L219.70 92.40M219.70 16.40L219.70 17.40M229.44 93.40L229.44 92.40M229.44 16.40L229.44 17.40M239.19 93.40L239.19 92.40M239.19 16.40L239.19 17.40M248.94 93.40L248.94 91.40M248.94 16.40L248.94 18.40M258.68 93.40L258.68 92.40M258.68 16.40L258.68 17.40M268.43 93.40L268.43 92.40M268.43 16.40L268.43 17.40M278.17 93.40L278.17 92.40M278.17 16.40L278.17 17.40M287.92 93.40L287.92 91.40M287.92 16.40L287.92 18.40M297.67 93.40L297.67 92.40M297.67 16.40L297.67 17.40M307.41 93.40L307.41 92.40M307.41 16.40L307.41 17.40M317.16 93.40L317.16 92.40M317.16 16.40L317.16 17.40M326.91 93.40L326.91 91.40M326.91 16.40L326.91 18.40M336.65 93.40L336.65 92.40M336.65 16.40L336.65 17.40M73.50 89.55L76.00 89.55M346.40 89.55L343.90 89.55M73.50 85.70L76.00 85.70M346.40 85.70L343.90 85.70M73.50 81.85L76.00 81.85M346.40 81.85L343.90 81.85M73.50 78.00L76.00 78.00M346.40 78.00L343.90 78.00M73.50 74.15L78.50 74.15M346.40 74.15L341.40 74.15M73.50 70.30L76.00 70.30M346.40 70.30L343.90 70.30M73.50 66.45L76.00 66.45M346.40 66.45L343.90 66.45M73.50 62.60L76.00 62.60M346.40 62.60L343.90 62.60M73.50 58.75L76.00 58.75M346.40 58.75L343.90 58.75M73.50 54.90L78.50 54.90M346.40 54.90L341.40 54.90M73.50 51.05L76.00 51.05M346.40 51.05L343.90 51.05M73.50 47.20L76.00 47.20M346.40 47.20L343.90 47.20M73.50 43.35L76.00 43.35M346.40 43.35L343.90 43.35M73.50 39.50L76.00 39.50M346.40 39.50L343.90 39.50M73.50 35.65L78.50 35.65M346.40 35.65L341.40 35.65M73.50 31.80L76.00 31.80M346.40 31.80L343.90 31.80M73.50 27.95L76.00 27.95M346.40 27.95L343.90 27.95M73.50 24.10L76.00 24.10M346.40 24.10L343.90 24.10M73.50 20.25L76.00 20.25M346.40 20.25L343.90 20.25" stroke="#111" stroke-width="1.1" fill="none"/>
<rect x="73.50" y="16.40" width="272.90" height="77.00" fill="none" stroke="#111" stroke-width="1.22"/>
<path d="M83.25 175.00L83.25 174.00M83.25 97.60L83.25 98.60M92.99 175.00L92.99 173.00M92.99 97.60L92.99 99.60M102.74 175.00L102.74 174.00M102.74 97.60L102.74 98.60M112.49 175.00L112.49 174.00M112.49 97.60L112.49 98.60M122.23 175.00L122.23 174.00M122.23 97.60L122.23 98.60M131.98 175.00L131.98 173.00M131.98 97.60L131.98 99.60M141.72 175.00L141.72 174.00M141.72 97.60L141.72 98.60M151.47 175.00L151.47 174.00M151.47 97.60L151.47 98.60M161.22 175.00L161.22 174.00M161.22 97.60L161.22 98.60M170.96 175.00L170.96 173.00M170.96 97.60L170.96 99.60M180.71 175.00L180.71 174.00M180.71 97.60L180.71 98.60M190.46 175.00L190.46 174.00M190.46 97.60L190.46 98.60M200.20 175.00L200.20 174.00M200.20 97.60L200.20 98.60M209.95 175.00L209.95 173.00M209.95 97.60L209.95 99.60M219.70 175.00L219.70 174.00M219.70 97.60L219.70 98.60M229.44 175.00L229.44 174.00M229.44 97.60L229.44 98.60M239.19 175.00L239.19 174.00M239.19 97.60L239.19 98.60M248.94 175.00L248.94 173.00M248.94 97.60L248.94 99.60M258.68 175.00L258.68 174.00M258.68 97.60L258.68 98.60M268.43 175.00L268.43 174.00M268.43 97.60L268.43 98.60M278.17 175.00L278.17 174.00M278.17 97.60L278.17 98.60M287.92 175.00L287.92 173.00M287.92 97.60L287.92 99.60M297.67 175.00L297.67 174.00M297.67 97.60L297.67 98.60M307.41 175.00L307.41 174.00M307.41 97.60L307.41 98.60M317.16 175.00L317.16 174.00M317.16 97.60L317.16 98.60M326.91 175.00L326.91 173.00M326.91 97.60L326.91 99.60M336.65 175.00L336.65 174.00M336.65 97.60L336.65 98.60M73.50 172.34L76.00 172.34M346.40 172.34L343.90 172.34M73.50 170.08L76.00 170.08M346.40 170.08L343.90 170.08M73.50 168.13L76.00 168.13M346.40 168.13L343.90 168.13M73.50 166.41L76.00 166.41M346.40 166.41L343.90 166.41M73.50 164.87L78.50 164.87M346.40 164.87L341.40 164.87M73.50 154.75L76.00 154.75M346.40 154.75L343.90 154.75M73.50 148.83L76.00 148.83M346.40 148.83L343.90 148.83M73.50 144.62L76.00 144.62M346.40 144.62L343.90 144.62M73.50 141.36L76.00 141.36M346.40 141.36L343.90 141.36M73.50 138.70L76.00 138.70M346.40 138.70L343.90 138.70M73.50 136.45L76.00 136.45M346.40 136.45L343.90 136.45M73.50 134.50L76.00 134.50M346.40 134.50L343.90 134.50M73.50 132.78L76.00 132.78M346.40 132.78L343.90 132.78M73.50 131.24L78.50 131.24M346.40 131.24L341.40 131.24M73.50 121.11L76.00 121.11M346.40 121.11L343.90 121.11M73.50 115.19L76.00 115.19M346.40 115.19L343.90 115.19M73.50 110.99L76.00 110.99M346.40 110.99L343.90 110.99M73.50 107.73L76.00 107.73M346.40 107.73L343.90 107.73M73.50 105.06L76.00 105.06M346.40 105.06L343.90 105.06M73.50 102.81L76.00 102.81M346.40 102.81L343.90 102.81M73.50 100.86L76.00 100.86M346.40 100.86L343.90 100.86M73.50 99.14L76.00 99.14M346.40 99.14L343.90 99.14" stroke="#111" stroke-width="1.1" fill="none"/>
<rect x="73.50" y="97.60" width="272.90" height="77.40" fill="none" stroke="#111" stroke-width="1.22"/>
<path d="M83.25 256.40L83.25 255.40M83.25 179.30L83.25 180.30M92.99 256.40L92.99 254.40M92.99 179.30L92.99 181.30M102.74 256.40L102.74 255.40M102.74 179.30L102.74 180.30M112.49 256.40L112.49 255.40M112.49 179.30L112.49 180.30M122.23 256.40L122.23 255.40M122.23 179.30L122.23 180.30M131.98 256.40L131.98 254.40M131.98 179.30L131.98 181.30M141.72 256.40L141.72 255.40M141.72 179.30L141.72 180.30M151.47 256.40L151.47 255.40M151.47 179.30L151.47 180.30M161.22 256.40L161.22 255.40M161.22 179.30L161.22 180.30M170.96 256.40L170.96 254.40M170.96 179.30L170.96 181.30M180.71 256.40L180.71 255.40M180.71 179.30L180.71 180.30M190.46 256.40L190.46 255.40M190.46 179.30L190.46 180.30M200.20 256.40L200.20 255.40M200.20 179.30L200.20 180.30M209.95 256.40L209.95 254.40M209.95 179.30L209.95 181.30M219.70 256.40L219.70 255.40M219.70 179.30L219.70 180.30M229.44 256.40L229.44 255.40M229.44 179.30L229.44 180.30M239.19 256.40L239.19 255.40M239.19 179.30L239.19 180.30M248.94 256.40L248.94 254.40M248.94 179.30L248.94 181.30M258.68 256.40L258.68 255.40M258.68 179.30L258.68 180.30M268.43 256.40L268.43 255.40M268.43 179.30L268.43 180.30M278.17 256.40L278.17 255.40M278.17 179.30L278.17 180.30M287.92 256.40L287.92 254.40M287.92 179.30L287.92 181.30M297.67 256.40L297.67 255.40M297.67 179.30L297.67 180.30M307.41 256.40L307.41 255.40M307.41 179.30L307.41 180.30M317.16 256.40L317.16 255.40M317.16 179.30L317.16 180.30M326.91 256.40L326.91 254.40M326.91 179.30L326.91 181.30M336.65 256.40L336.65 255.40M336.65 179.30L336.65 180.30M73.50 254.42L76.00 254.42M346.40 254.42L343.90 254.42M73.50 252.74L76.00 252.74M346.40 252.74L343.90 252.74M73.50 251.29L76.00 251.29M346.40 251.29L343.90 251.29M73.50 250.01L76.00 250.01M346.40 250.01L343.90 250.01M73.50 248.86L78.50 248.86M346.40 248.86L341.40 248.86M73.50 241.32L76.00 241.32M346.40 241.32L343.90 241.32M73.50 236.92L76.00 236.92M346.40 236.92L343.90 236.92M73.50 233.79L76.00 233.79M346.40 233.79L343.90 233.79M73.50 231.36L76.00 231.36M346.40 231.36L343.90 231.36M73.50 229.38L76.00 229.38M346.40 229.38L343.90 229.38M73.50 227.70L76.00 227.70M346.40 227.70L343.90 227.70M73.50 226.25L76.00 226.25M346.40 226.25L343.90 226.25M73.50 224.97L76.00 224.97M346.40 224.97L343.90 224.97M73.50 223.82L78.50 223.82M346.40 223.82L341.40 223.82M73.50 216.29L76.00 216.29M346.40 216.29L343.90 216.29M73.50 211.88L76.00 211.88M346.40 211.88L343.90 211.88M73.50 208.75L76.00 208.75M346.40 208.75L343.90 208.75M73.50 206.32L76.00 206.32M346.40 206.32L343.90 206.32M73.50 204.34L76.00 204.34M346.40 204.34L343.90 204.34M73.50 202.66L76.00 202.66M346.40 202.66L343.90 202.66M73.50 201.21L76.00 201.21M346.40 201.21L343.90 201.21M73.50 199.93L76.00 199.93M346.40 199.93L343.90 199.93M73.50 198.78L78.50 198.78M346.40 198.78L341.40 198.78M73.50 191.25L76.00 191.25M346.40 191.25L343.90 191.25M73.50 186.84L76.00 186.84M346.40 186.84L343.90 186.84M73.50 183.71L76.00 183.71M346.40 183.71L343.90 183.71M73.50 181.28L76.00 181.28M346.40 181.28L343.90 181.28" stroke="#111" stroke-width="1.1" fill="none"/>
<rect x="73.50" y="179.30" width="272.90" height="77.10" fill="none" stroke="#111" stroke-width="1.22"/>
<path d="M83.25 344.10L83.25 343.10M83.25 266.70L83.25 267.70M92.99 344.10L92.99 342.10M92.99 266.70L92.99 268.70M102.74 344.10L102.74 343.10M102.74 266.70L102.74 267.70M112.49 344.10L112.49 343.10M112.49 266.70L112.49 267.70M122.23 344.10L122.23 343.10M122.23 266.70L122.23 267.70M131.98 344.10L131.98 342.10M131.98 266.70L131.98 268.70M141.72 344.10L141.72 343.10M141.72 266.70L141.72 267.70M151.47 344.10L151.47 343.10M151.47 266.70L151.47 267.70M161.22 344.10L161.22 343.10M161.22 266.70L161.22 267.70M170.96 344.10L170.96 342.10M170.96 266.70L170.96 268.70M180.71 344.10L180.71 343.10M180.71 266.70L180.71 267.70M190.46 344.10L190.46 343.10M190.46 266.70L190.46 267.70M200.20 344.10L200.20 343.10M200.20 266.70L200.20 267.70M209.95 344.10L209.95 342.10M209.95 266.70L209.95 268.70M219.70 344.10L219.70 343.10M219.70 266.70L219.70 267.70M229.44 344.10L229.44 343.10M229.44 266.70L229.44 267.70M239.19 344.10L239.19 343.10M239.19 266.70L239.19 267.70M248.94 344.10L248.94 342.10M248.94 266.70L248.94 268.70M258.68 344.10L258.68 343.10M258.68 266.70L258.68 267.70M268.43 344.10L268.43 343.10M268.43 266.70L268.43 267.70M278.17 344.10L278.17 343.10M278.17 266.70L278.17 267.70M287.92 344.10L287.92 342.10M287.92 266.70L287.92 268.70M297.67 344.10L297.67 343.10M297.67 266.70L297.67 267.70M307.41 344.10L307.41 343.10M307.41 266.70L307.41 267.70M317.16 344.10L317.16 343.10M317.16 266.70L317.16 267.70M326.91 344.10L326.91 342.10M326.91 266.70L326.91 268.70M336.65 344.10L336.65 343.10M336.65 266.70L336.65 267.70M73.50 340.23L76.00 340.23M346.40 340.23L343.90 340.23M73.50 336.36L76.00 336.36M346.40 336.36L343.90 336.36M73.50 332.49L76.00 332.49M346.40 332.49L343.90 332.49M73.50 328.62L76.00 328.62M346.40 328.62L343.90 328.62M73.50 324.75L78.50 324.75M346.40 324.75L341.40 324.75M73.50 320.88L76.00 320.88M346.40 320.88L343.90 320.88M73.50 317.01L76.00 317.01M346.40 317.01L343.90 317.01M73.50 313.14L76.00 313.14M346.40 313.14L343.90 313.14M73.50 309.27L76.00 309.27M346.40 309.27L343.90 309.27M73.50 305.40L78.50 305.40M346.40 305.40L341.40 305.40M73.50 301.53L76.00 301.53M346.40 301.53L343.90 301.53M73.50 297.66L76.00 297.66M346.40 297.66L343.90 297.66M73.50 293.79L76.00 293.79M346.40 293.79L343.90 293.79M73.50 289.92L76.00 289.92M346.40 289.92L343.90 289.92M73.50 286.05L78.50 286.05M346.40 286.05L341.40 286.05M73.50 282.18L76.00 282.18M346.40 282.18L343.90 282.18M73.50 278.31L76.00 278.31M346.40 278.31L343.90 278.31M73.50 274.44L76.00 274.44M346.40 274.44L343.90 274.44M73.50 270.57L76.00 270.57M346.40 270.57L343.90 270.57" stroke="#111" stroke-width="1.1" fill="none"/>
<rect x="73.50" y="266.70" width="272.90" height="77.40" fill="none" stroke="#111" stroke-width="1.22"/>
<path d="M83.25 425.30L83.25 424.30M83.25 348.10L83.25 349.10M92.99 425.30L92.99 423.30M92.99 348.10L92.99 350.10M102.74 425.30L102.74 424.30M102.74 348.10L102.74 349.10M112.49 425.30L112.49 424.30M112.49 348.10L112.49 349.10M122.23 425.30L122.23 424.30M122.23 348.10L122.23 349.10M131.98 425.30L131.98 423.30M131.98 348.10L131.98 350.10M141.72 425.30L141.72 424.30M141.72 348.10L141.72 349.10M151.47 425.30L151.47 424.30M151.47 348.10L151.47 349.10M161.22 425.30L161.22 424.30M161.22 348.10L161.22 349.10M170.96 425.30L170.96 423.30M170.96 348.10L170.96 350.10M180.71 425.30L180.71 424.30M180.71 348.10L180.71 349.10M190.46 425.30L190.46 424.30M190.46 348.10L190.46 349.10M200.20 425.30L200.20 424.30M200.20 348.10L200.20 349.10M209.95 425.30L209.95 423.30M209.95 348.10L209.95 350.10M219.70 425.30L219.70 424.30M219.70 348.10L219.70 349.10M229.44 425.30L229.44 424.30M229.44 348.10L229.44 349.10M239.19 425.30L239.19 424.30M239.19 348.10L239.19 349.10M248.94 425.30L248.94 423.30M248.94 348.10L248.94 350.10M258.68 425.30L258.68 424.30M258.68 348.10L258.68 349.10M268.43 425.30L268.43 424.30M268.43 348.10L268.43 349.10M278.17 425.30L278.17 424.30M278.17 348.10L278.17 349.10M287.92 425.30L287.92 423.30M287.92 348.10L287.92 350.10M297.67 425.30L297.67 424.30M297.67 348.10L297.67 349.10M307.41 425.30L307.41 424.30M307.41 348.10L307.41 349.10M317.16 425.30L317.16 424.30M317.16 348.10L317.16 349.10M326.91 425.30L326.91 423.30M326.91 348.10L326.91 350.10M336.65 425.30L336.65 424.30M336.65 348.10L336.65 349.10M73.50 422.64L76.00 422.64M346.40 422.64L343.90 422.64M73.50 420.40L76.00 420.40M346.40 420.40L343.90 420.40M73.50 418.45L76.00 418.45M346.40 418.45L343.90 418.45M73.50 416.74L76.00 416.74M346.40 416.74L343.90 416.74M73.50 415.20L78.50 415.20M346.40 415.20L341.40 415.20M73.50 405.10L76.00 405.10M346.40 405.10L343.90 405.10M73.50 399.19L76.00 399.19M346.40 399.19L343.90 399.19M73.50 395.00L76.00 395.00M346.40 395.00L343.90 395.00M73.50 391.75L76.00 391.75M346.40 391.75L343.90 391.75M73.50 389.09L76.00 389.09M346.40 389.09L343.90 389.09M73.50 386.85L76.00 386.85M346.40 386.85L343.90 386.85M73.50 384.90L76.00 384.90M346.40 384.90L343.90 384.90M73.50 383.19L76.00 383.19M346.40 383.19L343.90 383.19M73.50 381.65L78.50 381.65M346.40 381.65L341.40 381.65M73.50 371.55L76.00 371.55M346.40 371.55L343.90 371.55M73.50 365.64L76.00 365.64M346.40 365.64L343.90 365.64M73.50 361.45L76.00 361.45M346.40 361.45L343.90 361.45M73.50 358.20L76.00 358.20M346.40 358.20L343.90 358.20M73.50 355.54L76.00 355.54M346.40 355.54L343.90 355.54M73.50 353.30L76.00 353.30M346.40 353.30L343.90 353.30M73.50 351.35L76.00 351.35M346.40 351.35L343.90 351.35M73.50 349.64L76.00 349.64M346.40 349.64L343.90 349.64" stroke="#111" stroke-width="1.1" fill="none"/>
<rect x="73.50" y="348.10" width="272.90" height="77.20" fill="none" stroke="#111" stroke-width="1.22"/>
<path d="M83.25 506.80L83.25 505.80M83.25 429.40L83.25 430.40M92.99 506.80L92.99 504.80M92.99 429.40L92.99 431.40M102.74 506.80L102.74 505.80M102.74 429.40L102.74 430.40M112.49 506.80L112.49 505.80M112.49 429.40L112.49 430.40M122.23 506.80L122.23 505.80M122.23 429.40L122.23 430.40M131.98 506.80L131.98 504.80M131.98 429.40L131.98 431.40M141.72 506.80L141.72 505.80M141.72 429.40L141.72 430.40M151.47 506.80L151.47 505.80M151.47 429.40L151.47 430.40M161.22 506.80L161.22 505.80M161.22 429.40L161.22 430.40M170.96 506.80L170.96 504.80M170.96 429.40L170.96 431.40M180.71 506.80L180.71 505.80M180.71 429.40L180.71 430.40M190.46 506.80L190.46 505.80M190.46 429.40L190.46 430.40M200.20 506.80L200.20 505.80M200.20 429.40L200.20 430.40M209.95 506.80L209.95 504.80M209.95 429.40L209.95 431.40M219.70 506.80L219.70 505.80M219.70 429.40L219.70 430.40M229.44 506.80L229.44 505.80M229.44 429.40L229.44 430.40M239.19 506.80L239.19 505.80M239.19 429.40L239.19 430.40M248.94 506.80L248.94 504.80M248.94 429.40L248.94 431.40M258.68 506.80L258.68 505.80M258.68 429.40L258.68 430.40M268.43 506.80L268.43 505.80M268.43 429.40L268.43 430.40M278.17 506.80L278.17 505.80M278.17 429.40L278.17 430.40M287.92 506.80L287.92 504.80M287.92 429.40L287.92 431.40M297.67 506.80L297.67 505.80M297.67 429.40L297.67 430.40M307.41 506.80L307.41 505.80M307.41 429.40L307.41 430.40M317.16 506.80L317.16 505.80M317.16 429.40L317.16 430.40M326.91 506.80L326.91 504.80M326.91 429.40L326.91 431.40M336.65 506.80L336.65 505.80M336.65 429.40L336.65 430.40M73.50 504.81L76.00 504.81M346.40 504.81L343.90 504.81M73.50 503.13L76.00 503.13M346.40 503.13L343.90 503.13M73.50 501.67L76.00 501.67M346.40 501.67L343.90 501.67M73.50 500.38L76.00 500.38M346.40 500.38L343.90 500.38M73.50 499.23L78.50 499.23M346.40 499.23L341.40 499.23M73.50 491.67L76.00 491.67M346.40 491.67L343.90 491.67M73.50 487.24L76.00 487.24M346.40 487.24L343.90 487.24M73.50 484.10L76.00 484.10M346.40 484.10L343.90 484.10M73.50 481.66L76.00 481.66M346.40 481.66L343.90 481.66M73.50 479.67L76.00 479.67M346.40 479.67L343.90 479.67M73.50 477.99L76.00 477.99M346.40 477.99L343.90 477.99M73.50 476.53L76.00 476.53M346.40 476.53L343.90 476.53M73.50 475.25L76.00 475.25M346.40 475.25L343.90 475.25M73.50 474.10L78.50 474.10M346.40 474.10L341.40 474.10M73.50 466.53L76.00 466.53M346.40 466.53L343.90 466.53M73.50 462.10L76.00 462.10M346.40 462.10L343.90 462.10M73.50 458.96L76.00 458.96M346.40 458.96L343.90 458.96M73.50 456.53L76.00 456.53M346.40 456.53L343.90 456.53M73.50 454.54L76.00 454.54M346.40 454.54L343.90 454.54M73.50 452.85L76.00 452.85M346.40 452.85L343.90 452.85M73.50 451.40L76.00 451.40M346.40 451.40L343.90 451.40M73.50 450.11L76.00 450.11M346.40 450.11L343.90 450.11M73.50 448.96L78.50 448.96M346.40 448.96L341.40 448.96M73.50 441.39L76.00 441.39M346.40 441.39L343.90 441.39M73.50 436.97L76.00 436.97M346.40 436.97L343.90 436.97M73.50 433.83L76.00 433.83M346.40 433.83L343.90 433.83M73.50 431.39L76.00 431.39M346.40 431.39L343.90 431.39" stroke="#111" stroke-width="1.1" fill="none"/>
<rect x="73.50" y="429.40" width="272.90" height="77.40" fill="none" stroke="#111" stroke-width="1.22"/>
<path d="M366.46 93.40L366.46 92.40M366.46 16.40L366.46 17.40M376.21 93.40L376.21 91.40M376.21 16.40L376.21 18.40M385.97 93.40L385.97 92.40M385.97 16.40L385.97 17.40M395.73 93.40L395.73 92.40M395.73 16.40L395.73 17.40M405.49 93.40L405.49 92.40M405.49 16.40L405.49 17.40M415.24 93.40L415.24 91.40M415.24 16.40L415.24 18.40M425.00 93.40L425.00 92.40M425.00 16.40L425.00 17.40M434.76 93.40L434.76 92.40M434.76 16.40L434.76 17.40M444.51 93.40L444.51 92.40M444.51 16.40L444.51 17.40M454.27 93.40L454.27 91.40M454.27 16.40L454.27 18.40M464.03 93.40L464.03 92.40M464.03 16.40L464.03 17.40M473.79 93.40L473.79 92.40M473.79 16.40L473.79 17.40M483.54 93.40L483.54 92.40M483.54 16.40L483.54 17.40M493.30 93.40L493.30 91.40M493.30 16.40L493.30 18.40M503.06 93.40L503.06 92.40M503.06 16.40L503.06 17.40M512.81 93.40L512.81 92.40M512.81 16.40L512.81 17.40M522.57 93.40L522.57 92.40M522.57 16.40L522.57 17.40M532.33 93.40L532.33 91.40M532.33 16.40L532.33 18.40M542.09 93.40L542.09 92.40M542.09 16.40L542.09 17.40M551.84 93.40L551.84 92.40M551.84 16.40L551.84 17.40M561.60 93.40L561.60 92.40M561.60 16.40L561.60 17.40M571.36 93.40L571.36 91.40M571.36 16.40L571.36 18.40M581.11 93.40L581.11 92.40M581.11 16.40L581.11 17.40M590.87 93.40L590.87 92.40M590.87 16.40L590.87 17.40M600.63 93.40L600.63 92.40M600.63 16.40L600.63 17.40M610.39 93.40L610.39 91.40M610.39 16.40L610.39 18.40M620.14 93.40L620.14 92.40M620.14 16.40L620.14 17.40M356.70 89.55L359.20 89.55M629.90 89.55L627.40 89.55M356.70 85.70L359.20 85.70M629.90 85.70L627.40 85.70M356.70 81.85L359.20 81.85M629.90 81.85L627.40 81.85M356.70 78.00L359.20 78.00M629.90 78.00L627.40 78.00M356.70 74.15L361.70 74.15M629.90 74.15L624.90 74.15M356.70 70.30L359.20 70.30M629.90 70.30L627.40 70.30M356.70 66.45L359.20 66.45M629.90 66.45L627.40 66.45M356.70 62.60L359.20 62.60M629.90 62.60L627.40 62.60M356.70 58.75L359.20 58.75M629.90 58.75L627.40 58.75M356.70 54.90L361.70 54.90M629.90 54.90L624.90 54.90M356.70 51.05L359.20 51.05M629.90 51.05L627.40 51.05M356.70 47.20L359.20 47.20M629.90 47.20L627.40 47.20M356.70 43.35L359.20 43.35M629.90 43.35L627.40 43.35M356.70 39.50L359.20 39.50M629.90 39.50L627.40 39.50M356.70 35.65L361.70 35.65M629.90 35.65L624.90 35.65M356.70 31.80L359.20 31.80M629.90 31.80L627.40 31.80M356.70 27.95L359.20 27.95M629.90 27.95L627.40 27.95M356.70 24.10L359.20 24.10M629.90 24.10L627.40 24.10M356.70 20.25L359.20 20.25M629.90 20.25L627.40 20.25" stroke="#111" stroke-width="1.1" fill="none"/>
<rect x="356.70" y="16.40" width="273.20" height="77.00" fill="none" stroke="#111" stroke-width="1.22"/>
<path d="M366.46 175.00L366.46 174.00M366.46 97.60L366.46 98.60M376.21 175.00L376.21 173.00M376.21 97.60L376.21 99.60M385.97 175.00L385.97 174.00M385.97 97.60L385.97 98.60M395.73 175.00L395.73 174.00M395.73 97.60L395.73 98.60M405.49 175.00L405.49 174.00M405.49 97.60L405.49 98.60M415.24 175.00L415.24 173.00M415.24 97.60L415.24 99.60M425.00 175.00L425.00 174.00M425.00 97.60L425.00 98.60M434.76 175.00L434.76 174.00M434.76 97.60L434.76 98.60M444.51 175.00L444.51 174.00M444.51 97.60L444.51 98.60M454.27 175.00L454.27 173.00M454.27 97.60L454.27 99.60M464.03 175.00L464.03 174.00M464.03 97.60L464.03 98.60M473.79 175.00L473.79 174.00M473.79 97.60L473.79 98.60M483.54 175.00L483.54 174.00M483.54 97.60L483.54 98.60M493.30 175.00L493.30 173.00M493.30 97.60L493.30 99.60M503.06 175.00L503.06 174.00M503.06 97.60L503.06 98.60M512.81 175.00L512.81 174.00M512.81 97.60L512.81 98.60M522.57 175.00L522.57 174.00M522.57 97.60L522.57 98.60M532.33 175.00L532.33 173.00M532.33 97.60L532.33 99.60M542.09 175.00L542.09 174.00M542.09 97.60L542.09 98.60M551.84 175.00L551.84 174.00M551.84 97.60L551.84 98.60M561.60 175.00L561.60 174.00M561.60 97.60L561.60 98.60M571.36 175.00L571.36 173.00M571.36 97.60L571.36 99.60M581.11 175.00L581.11 174.00M581.11 97.60L581.11 98.60M590.87 175.00L590.87 174.00M590.87 97.60L590.87 98.60M600.63 175.00L600.63 174.00M600.63 97.60L600.63 98.60M610.39 175.00L610.39 173.00M610.39 97.60L610.39 99.60M620.14 175.00L620.14 174.00M620.14 97.60L620.14 98.60M356.70 172.34L359.20 172.34M629.90 172.34L627.40 172.34M356.70 170.08L359.20 170.08M629.90 170.08L627.40 170.08M356.70 168.13L359.20 168.13M629.90 168.13L627.40 168.13M356.70 166.41L359.20 166.41M629.90 166.41L627.40 166.41M356.70 164.87L361.70 164.87M629.90 164.87L624.90 164.87M356.70 154.75L359.20 154.75M629.90 154.75L627.40 154.75M356.70 148.83L359.20 148.83M629.90 148.83L627.40 148.83M356.70 144.62L359.20 144.62M629.90 144.62L627.40 144.62M356.70 141.36L359.20 141.36M629.90 141.36L627.40 141.36M356.70 138.70L359.20 138.70M629.90 138.70L627.40 138.70M356.70 136.45L359.20 136.45M629.90 136.45L627.40 136.45M356.70 134.50L359.20 134.50M629.90 134.50L627.40 134.50M356.70 132.78L359.20 132.78M629.90 132.78L627.40 132.78M356.70 131.24L361.70 131.24M629.90 131.24L624.90 131.24M356.70 121.11L359.20 121.11M629.90 121.11L627.40 121.11M356.70 115.19L359.20 115.19M629.90 115.19L627.40 115.19M356.70 110.99L359.20 110.99M629.90 110.99L627.40 110.99M356.70 107.73L359.20 107.73M629.90 107.73L627.40 107.73M356.70 105.06L359.20 105.06M629.90 105.06L627.40 105.06M356.70 102.81L359.20 102.81M629.90 102.81L627.40 102.81M356.70 100.86L359.20 100.86M629.90 100.86L627.40 100.86M356.70 99.14L359.20 99.14M629.90 99.14L627.40 99.14" stroke="#111" stroke-width="1.1" fill="none"/>
<rect x="356.70" y="97.60" width="273.20" height="77.40" fill="none" stroke="#111" stroke-width="1.22"/>
<path d="M366.46 256.40L366.46 255.40M366.46 179.30L366.46 180.30M376.21 256.40L376.21 254.40M376.21 179.30L376.21 181.30M385.97 256.40L385.97 255.40M385.97 179.30L385.97 180.30M395.73 256.40L395.73 255.40M395.73 179.30L395.73 180.30M405.49 256.40L405.49 255.40M405.49 179.30L405.49 180.30M415.24 256.40L415.24 254.40M415.24 179.30L415.24 181.30M425.00 256.40L425.00 255.40M425.00 179.30L425.00 180.30M434.76 256.40L434.76 255.40M434.76 179.30L434.76 180.30M444.51 256.40L444.51 255.40M444.51 179.30L444.51 180.30M454.27 256.40L454.27 254.40M454.27 179.30L454.27 181.30M464.03 256.40L464.03 255.40M464.03 179.30L464.03 180.30M473.79 256.40L473.79 255.40M473.79 179.30L473.79 180.30M483.54 256.40L483.54 255.40M483.54 179.30L483.54 180.30M493.30 256.40L493.30 254.40M493.30 179.30L493.30 181.30M503.06 256.40L503.06 255.40M503.06 179.30L503.06 180.30M512.81 256.40L512.81 255.40M512.81 179.30L512.81 180.30M522.57 256.40L522.57 255.40M522.57 179.30L522.57 180.30M532.33 256.40L532.33 254.40M532.33 179.30L532.33 181.30M542.09 256.40L542.09 255.40M542.09 179.30L542.09 180.30M551.84 256.40L551.84 255.40M551.84 179.30L551.84 180.30M561.60 256.40L561.60 255.40M561.60 179.30L561.60 180.30M571.36 256.40L571.36 254.40M571.36 179.30L571.36 181.30M581.11 256.40L581.11 255.40M581.11 179.30L581.11 180.30M590.87 256.40L590.87 255.40M590.87 179.30L590.87 180.30M600.63 256.40L600.63 255.40M600.63 179.30L600.63 180.30M610.39 256.40L610.39 254.40M610.39 179.30L610.39 181.30M620.14 256.40L620.14 255.40M620.14 179.30L620.14 180.30M356.70 254.42L359.20 254.42M629.90 254.42L627.40 254.42M356.70 252.74L359.20 252.74M629.90 252.74L627.40 252.74M356.70 251.29L359.20 251.29M629.90 251.29L627.40 251.29M356.70 250.01L359.20 250.01M629.90 250.01L627.40 250.01M356.70 248.86L361.70 248.86M629.90 248.86L624.90 248.86M356.70 241.32L359.20 241.32M629.90 241.32L627.40 241.32M356.70 236.92L359.20 236.92M629.90 236.92L627.40 236.92M356.70 233.79L359.20 233.79M629.90 233.79L627.40 233.79M356.70 231.36L359.20 231.36M629.90 231.36L627.40 231.36M356.70 229.38L359.20 229.38M629.90 229.38L627.40 229.38M356.70 227.70L359.20 227.70M629.90 227.70L627.40 227.70M356.70 226.25L359.20 226.25M629.90 226.25L627.40 226.25M356.70 224.97L359.20 224.97M629.90 224.97L627.40 224.97M356.70 223.82L361.70 223.82M629.90 223.82L624.90 223.82M356.70 216.29L359.20 216.29M629.90 216.29L627.40 216.29M356.70 211.88L359.20 211.88M629.90 211.88L627.40 211.88M356.70 208.75L359.20 208.75M629.90 208.75L627.40 208.75M356.70 206.32L359.20 206.32M629.90 206.32L627.40 206.32M356.70 204.34L359.20 204.34M629.90 204.34L627.40 204.34M356.70 202.66L359.20 202.66M629.90 202.66L627.40 202.66M356.70 201.21L359.20 201.21M629.90 201.21L627.40 201.21M356.70 199.93L359.20 199.93M629.90 199.93L627.40 199.93M356.70 198.78L361.70 198.78M629.90 198.78L624.90 198.78M356.70 191.25L359.20 191.25M629.90 191.25L627.40 191.25M356.70 186.84L359.20 186.84M629.90 186.84L627.40 186.84M356.70 183.71L359.20 183.71M629.90 183.71L627.40 183.71M356.70 181.28L359.20 181.28M629.90 181.28L627.40 181.28" stroke="#111" stroke-width="1.1" fill="none"/>
<rect x="356.70" y="179.30" width="273.20" height="77.10" fill="none" stroke="#111" stroke-width="1.22"/>
<path d="M366.46 344.10L366.46 343.10M366.46 266.70L366.46 267.70M376.21 344.10L376.21 342.10M376.21 266.70L376.21 268.70M385.97 344.10L385.97 343.10M385.97 266.70L385.97 267.70M395.73 344.10L395.73 343.10M395.73 266.70L395.73 267.70M405.49 344.10L405.49 343.10M405.49 266.70L405.49 267.70M415.24 344.10L415.24 342.10M415.24 266.70L415.24 268.70M425.00 344.10L425.00 343.10M425.00 266.70L425.00 267.70M434.76 344.10L434.76 343.10M434.76 266.70L434.76 267.70M444.51 344.10L444.51 343.10M444.51 266.70L444.51 267.70M454.27 344.10L454.27 342.10M454.27 266.70L454.27 268.70M464.03 344.10L464.03 343.10M464.03 266.70L464.03 267.70M473.79 344.10L473.79 343.10M473.79 266.70L473.79 267.70M483.54 344.10L483.54 343.10M483.54 266.70L483.54 267.70M493.30 344.10L493.30 342.10M493.30 266.70L493.30 268.70M503.06 344.10L503.06 343.10M503.06 266.70L503.06 267.70M512.81 344.10L512.81 343.10M512.81 266.70L512.81 267.70M522.57 344.10L522.57 343.10M522.57 266.70L522.57 267.70M532.33 344.10L532.33 342.10M532.33 266.70L532.33 268.70M542.09 344.10L542.09 343.10M542.09 266.70L542.09 267.70M551.84 344.10L551.84 343.10M551.84 266.70L551.84 267.70M561.60 344.10L561.60 343.10M561.60 266.70L561.60 267.70M571.36 344.10L571.36 342.10M571.36 266.70L571.36 268.70M581.11 344.10L581.11 343.10M581.11 266.70L581.11 267.70M590.87 344.10L590.87 343.10M590.87 266.70L590.87 267.70M600.63 344.10L600.63 343.10M600.63 266.70L600.63 267.70M610.39 344.10L610.39 342.10M610.39 266.70L610.39 268.70M620.14 344.10L620.14 343.10M620.14 266.70L620.14 267.70M356.70 340.23L359.20 340.23M629.90 340.23L627.40 340.23M356.70 336.36L359.20 336.36M629.90 336.36L627.40 336.36M356.70 332.49L359.20 332.49M629.90 332.49L627.40 332.49M356.70 328.62L359.20 328.62M629.90 328.62L627.40 328.62M356.70 324.75L361.70 324.75M629.90 324.75L624.90 324.75M356.70 320.88L359.20 320.88M629.90 320.88L627.40 320.88M356.70 317.01L359.20 317.01M629.90 317.01L627.40 317.01M356.70 313.14L359.20 313.14M629.90 313.14L627.40 313.14M356.70 309.27L359.20 309.27M629.90 309.27L627.40 309.27M356.70 305.40L361.70 305.40M629.90 305.40L624.90 305.40M356.70 301.53L359.20 301.53M629.90 301.53L627.40 301.53M356.70 297.66L359.20 297.66M629.90 297.66L627.40 297.66M356.70 293.79L359.20 293.79M629.90 293.79L627.40 293.79M356.70 289.92L359.20 289.92M629.90 289.92L627.40 289.92M356.70 286.05L361.70 286.05M629.90 286.05L624.90 286.05M356.70 282.18L359.20 282.18M629.90 282.18L627.40 282.18M356.70 278.31L359.20 278.31M629.90 278.31L627.40 278.31M356.70 274.44L359.20 274.44M629.90 274.44L627.40 274.44M356.70 270.57L359.20 270.57M629.90 270.57L627.40 270.57" stroke="#111" stroke-width="1.1" fill="none"/>
<rect x="356.70" y="266.70" width="273.20" height="77.40" fill="none" stroke="#111" stroke-width="1.22"/>
<path d="M366.46 425.30L366.46 424.30M366.46 348.10L366.46 349.10M376.21 425.30L376.21 423.30M376.21 348.10L376.21 350.10M385.97 425.30L385.97 424.30M385.97 348.10L385.97 349.10M395.73 425.30L395.73 424.30M395.73 348.10L395.73 349.10M405.49 425.30L405.49 424.30M405.49 348.10L405.49 349.10M415.24 425.30L415.24 423.30M415.24 348.10L415.24 350.10M425.00 425.30L425.00 424.30M425.00 348.10L425.00 349.10M434.76 425.30L434.76 424.30M434.76 348.10L434.76 349.10M444.51 425.30L444.51 424.30M444.51 348.10L444.51 349.10M454.27 425.30L454.27 423.30M454.27 348.10L454.27 350.10M464.03 425.30L464.03 424.30M464.03 348.10L464.03 349.10M473.79 425.30L473.79 424.30M473.79 348.10L473.79 349.10M483.54 425.30L483.54 424.30M483.54 348.10L483.54 349.10M493.30 425.30L493.30 423.30M493.30 348.10L493.30 350.10M503.06 425.30L503.06 424.30M503.06 348.10L503.06 349.10M512.81 425.30L512.81 424.30M512.81 348.10L512.81 349.10M522.57 425.30L522.57 424.30M522.57 348.10L522.57 349.10M532.33 425.30L532.33 423.30M532.33 348.10L532.33 350.10M542.09 425.30L542.09 424.30M542.09 348.10L542.09 349.10M551.84 425.30L551.84 424.30M551.84 348.10L551.84 349.10M561.60 425.30L561.60 424.30M561.60 348.10L561.60 349.10M571.36 425.30L571.36 423.30M571.36 348.10L571.36 350.10M581.11 425.30L581.11 424.30M581.11 348.10L581.11 349.10M590.87 425.30L590.87 424.30M590.87 348.10L590.87 349.10M600.63 425.30L600.63 424.30M600.63 348.10L600.63 349.10M610.39 425.30L610.39 423.30M610.39 348.10L610.39 350.10M620.14 425.30L620.14 424.30M620.14 348.10L620.14 349.10M356.70 422.64L359.20 422.64M629.90 422.64L627.40 422.64M356.70 420.40L359.20 420.40M629.90 420.40L627.40 420.40M356.70 418.45L359.20 418.45M629.90 418.45L627.40 418.45M356.70 416.74L359.20 416.74M629.90 416.74L627.40 416.74M356.70 415.20L361.70 415.20M629.90 415.20L624.90 415.20M356.70 405.10L359.20 405.10M629.90 405.10L627.40 405.10M356.70 399.19L359.20 399.19M629.90 399.19L627.40 399.19M356.70 395.00L359.20 395.00M629.90 395.00L627.40 395.00M356.70 391.75L359.20 391.75M629.90 391.75L627.40 391.75M356.70 389.09L359.20 389.09M629.90 389.09L627.40 389.09M356.70 386.85L359.20 386.85M629.90 386.85L627.40 386.85M356.70 384.90L359.20 384.90M629.90 384.90L627.40 384.90M356.70 383.19L359.20 383.19M629.90 383.19L627.40 383.19M356.70 381.65L361.70 381.65M629.90 381.65L624.90 381.65M356.70 371.55L359.20 371.55M629.90 371.55L627.40 371.55M356.70 365.64L359.20 365.64M629.90 365.64L627.40 365.64M356.70 361.45L359.20 361.45M629.90 361.45L627.40 361.45M356.70 358.20L359.20 358.20M629.90 358.20L627.40 358.20M356.70 355.54L359.20 355.54M629.90 355.54L627.40 355.54M356.70 353.30L359.20 353.30M629.90 353.30L627.40 353.30M356.70 351.35L359.20 351.35M629.90 351.35L627.40 351.35M356.70 349.64L359.20 349.64M629.90 349.64L627.40 349.64" stroke="#111" stroke-width="1.1" fill="none"/>
<rect x="356.70" y="348.10" width="273.20" height="77.20" fill="none" stroke="#111" stroke-width="1.22"/>
<path d="M366.46 506.80L366.46 505.80M366.46 429.40L366.46 430.40M376.21 506.80L376.21 504.80M376.21 429.40L376.21 431.40M385.97 506.80L385.97 505.80M385.97 429.40L385.97 430.40M395.73 506.80L395.73 505.80M395.73 429.40L395.73 430.40M405.49 506.80L405.49 505.80M405.49 429.40L405.49 430.40M415.24 506.80L415.24 504.80M415.24 429.40L415.24 431.40M425.00 506.80L425.00 505.80M425.00 429.40L425.00 430.40M434.76 506.80L434.76 505.80M434.76 429.40L434.76 430.40M444.51 506.80L444.51 505.80M444.51 429.40L444.51 430.40M454.27 506.80L454.27 504.80M454.27 429.40L454.27 431.40M464.03 506.80L464.03 505.80M464.03 429.40L464.03 430.40M473.79 506.80L473.79 505.80M473.79 429.40L473.79 430.40M483.54 506.80L483.54 505.80M483.54 429.40L483.54 430.40M493.30 506.80L493.30 504.80M493.30 429.40L493.30 431.40M503.06 506.80L503.06 505.80M503.06 429.40L503.06 430.40M512.81 506.80L512.81 505.80M512.81 429.40L512.81 430.40M522.57 506.80L522.57 505.80M522.57 429.40L522.57 430.40M532.33 506.80L532.33 504.80M532.33 429.40L532.33 431.40M542.09 506.80L542.09 505.80M542.09 429.40L542.09 430.40M551.84 506.80L551.84 505.80M551.84 429.40L551.84 430.40M561.60 506.80L561.60 505.80M561.60 429.40L561.60 430.40M571.36 506.80L571.36 504.80M571.36 429.40L571.36 431.40M581.11 506.80L581.11 505.80M581.11 429.40L581.11 430.40M590.87 506.80L590.87 505.80M590.87 429.40L590.87 430.40M600.63 506.80L600.63 505.80M600.63 429.40L600.63 430.40M610.39 506.80L610.39 504.80M610.39 429.40L610.39 431.40M620.14 506.80L620.14 505.80M620.14 429.40L620.14 430.40M356.70 504.81L359.20 504.81M629.90 504.81L627.40 504.81M356.70 503.13L359.20 503.13M629.90 503.13L627.40 503.13M356.70 501.67L359.20 501.67M629.90 501.67L627.40 501.67M356.70 500.38L359.20 500.38M629.90 500.38L627.40 500.38M356.70 499.23L361.70 499.23M629.90 499.23L624.90 499.23M356.70 491.67L359.20 491.67M629.90 491.67L627.40 491.67M356.70 487.24L359.20 487.24M629.90 487.24L627.40 487.24M356.70 484.10L359.20 484.10M629.90 484.10L627.40 484.10M356.70 481.66L359.20 481.66M629.90 481.66L627.40 481.66M356.70 479.67L359.20 479.67M629.90 479.67L627.40 479.67M356.70 477.99L359.20 477.99M629.90 477.99L627.40 477.99M356.70 476.53L359.20 476.53M629.90 476.53L627.40 476.53M356.70 475.25L359.20 475.25M629.90 475.25L627.40 475.25M356.70 474.10L361.70 474.10M629.90 474.10L624.90 474.10M356.70 466.53L359.20 466.53M629.90 466.53L627.40 466.53M356.70 462.10L359.20 462.10M629.90 462.10L627.40 462.10M356.70 458.96L359.20 458.96M629.90 458.96L627.40 458.96M356.70 456.53L359.20 456.53M629.90 456.53L627.40 456.53M356.70 454.54L359.20 454.54M629.90 454.54L627.40 454.54M356.70 452.85L359.20 452.85M629.90 452.85L627.40 452.85M356.70 451.40L359.20 451.40M629.90 451.40L627.40 451.40M356.70 450.11L359.20 450.11M629.90 450.11L627.40 450.11M356.70 448.96L361.70 448.96M629.90 448.96L624.90 448.96M356.70 441.39L359.20 441.39M629.90 441.39L627.40 441.39M356.70 436.97L359.20 436.97M629.90 436.97L627.40 436.97M356.70 433.83L359.20 433.83M629.90 433.83L627.40 433.83M356.70 431.39L359.20 431.39M629.90 431.39L627.40 431.39" stroke="#111" stroke-width="1.1" fill="none"/>
<rect x="356.70" y="429.40" width="273.20" height="77.40" fill="none" stroke="#111" stroke-width="1.22"/>
<text x="68.60" y="24.60" font-size="12.9" text-anchor="end" fill="#111" textLength="20.2" lengthAdjust="spacingAndGlyphs" style="stroke:#111;stroke-width:0.40">200</text>
<text x="68.60" y="40.80" font-size="12.9" text-anchor="end" fill="#111" textLength="20.2" lengthAdjust="spacingAndGlyphs" style="stroke:#111;stroke-width:0.40">150</text>
<text x="68.60" y="59.80" font-size="12.9" text-anchor="end" fill="#111" textLength="20.2" lengthAdjust="spacingAndGlyphs" style="stroke:#111;stroke-width:0.40">100</text>
<text x="68.60" y="79.70" font-size="12.9" text-anchor="end" fill="#111" textLength="13.6" lengthAdjust="spacingAndGlyphs" style="stroke:#111;stroke-width:0.40">50</text>
<text x="68.60" y="94.10" font-size="12.9" text-anchor="end" fill="#111" textLength="6.9" lengthAdjust="spacingAndGlyphs" style="stroke:#111;stroke-width:0.40">0</text>
<text x="68.60" y="106.60" font-size="12.9" text-anchor="end" fill="#111" textLength="13.6" lengthAdjust="spacingAndGlyphs" style="stroke:#111;stroke-width:0.40">10</text>
<text x="68.60" y="137.00" font-size="12.9" text-anchor="end" fill="#111" textLength="6.9" lengthAdjust="spacingAndGlyphs" style="stroke:#111;stroke-width:0.40">1</text>
<text x="68.60" y="170.30" font-size="12.9" text-anchor="end" fill="#111" textLength="16.2" lengthAdjust="spacingAndGlyphs" style="stroke:#111;stroke-width:0.40">0.1</text>
<text x="68.60" y="204.50" font-size="12.9" text-anchor="end" fill="#111" textLength="20.2" lengthAdjust="spacingAndGlyphs" style="stroke:#111;stroke-width:0.40">100</text>
<text x="68.60" y="229.20" font-size="12.9" text-anchor="end" fill="#111" textLength="13.6" lengthAdjust="spacingAndGlyphs" style="stroke:#111;stroke-width:0.40">10</text>
<text x="68.60" y="254.20" font-size="12.9" text-anchor="end" fill="#111" textLength="6.9" lengthAdjust="spacingAndGlyphs" style="stroke:#111;stroke-width:0.40">1</text>
<text x="68.60" y="274.90" font-size="12.9" text-anchor="end" fill="#111" textLength="20.2" lengthAdjust="spacingAndGlyphs" style="stroke:#111;stroke-width:0.40">200</text>
<text x="68.60" y="291.10" font-size="12.9" text-anchor="end" fill="#111" textLength="20.2" lengthAdjust="spacingAndGlyphs" style="stroke:#111;stroke-width:0.40">150</text>
<text x="68.60" y="310.10" font-size="12.9" text-anchor="end" fill="#111" textLength="20.2" lengthAdjust="spacingAndGlyphs" style="stroke:#111;stroke-width:0.40">100</text>
<text x="68.60" y="330.00" font-size="12.9" text-anchor="end" fill="#111" textLength="13.6" lengthAdjust="spacingAndGlyphs" style="stroke:#111;stroke-width:0.40">50</text>
<text x="68.60" y="344.40" font-size="12.9" text-anchor="end" fill="#111" textLength="6.9" lengthAdjust="spacingAndGlyphs" style="stroke:#111;stroke-width:0.40">0</text>
<text x="68.60" y="356.90" font-size="12.9" text-anchor="end" fill="#111" textLength="13.6" lengthAdjust="spacingAndGlyphs" style="stroke:#111;stroke-width:0.40">10</text>
<text x="68.60" y="387.30" font-size="12.9" text-anchor="end" fill="#111" textLength="6.9" lengthAdjust="spacingAndGlyphs" style="stroke:#111;stroke-width:0.40">1</text>
<text x="68.60" y="420.60" font-size="12.9" text-anchor="end" fill="#111" textLength="16.2" lengthAdjust="spacingAndGlyphs" style="stroke:#111;stroke-width:0.40">0.1</text>
<text x="68.60" y="454.80" font-size="12.9" text-anchor="end" fill="#111" textLength="20.2" lengthAdjust="spacingAndGlyphs" style="stroke:#111;stroke-width:0.40">100</text>
<text x="68.60" y="479.50" font-size="12.9" text-anchor="end" fill="#111" textLength="13.6" lengthAdjust="spacingAndGlyphs" style="stroke:#111;stroke-width:0.40">10</text>
<text x="68.60" y="504.50" font-size="12.9" text-anchor="end" fill="#111" textLength="6.9" lengthAdjust="spacingAndGlyphs" style="stroke:#111;stroke-width:0.40">1</text>
<text x="90.59" y="520.90" font-size="12.9" text-anchor="middle" fill="#111" textLength="17.9" lengthAdjust="spacingAndGlyphs" style="stroke:#111;stroke-width:0.40">-60</text>
<text x="129.58" y="520.90" font-size="12.9" text-anchor="middle" fill="#111" textLength="17.9" lengthAdjust="spacingAndGlyphs" style="stroke:#111;stroke-width:0.40">-40</text>
<text x="168.56" y="520.90" font-size="12.9" text-anchor="middle" fill="#111" textLength="17.9" lengthAdjust="spacingAndGlyphs" style="stroke:#111;stroke-width:0.40">-20</text>
<text x="209.95" y="520.90" font-size="12.9" text-anchor="middle" fill="#111" textLength="6.9" lengthAdjust="spacingAndGlyphs" style="stroke:#111;stroke-width:0.40">0</text>
<text x="248.94" y="520.90" font-size="12.9" text-anchor="middle" fill="#111" textLength="13.6" lengthAdjust="spacingAndGlyphs" style="stroke:#111;stroke-width:0.40">20</text>
<text x="287.92" y="520.90" font-size="12.9" text-anchor="middle" fill="#111" textLength="13.6" lengthAdjust="spacingAndGlyphs" style="stroke:#111;stroke-width:0.40">40</text>
<text x="326.91" y="520.90" font-size="12.9" text-anchor="middle" fill="#111" textLength="13.6" lengthAdjust="spacingAndGlyphs" style="stroke:#111;stroke-width:0.40">60</text>
<text x="210.15" y="539.30" font-size="13.4" text-anchor="middle" fill="#111" textLength="105.5" lengthAdjust="spacingAndGlyphs" style="stroke:#111;stroke-width:0.40">Days from perihelion</text>
<text x="373.81" y="520.90" font-size="12.9" text-anchor="middle" fill="#111" textLength="17.9" lengthAdjust="spacingAndGlyphs" style="stroke:#111;stroke-width:0.40">-60</text>
<text x="412.84" y="520.90" font-size="12.9" text-anchor="middle" fill="#111" textLength="17.9" lengthAdjust="spacingAndGlyphs" style="stroke:#111;stroke-width:0.40">-40</text>
<text x="451.87" y="520.90" font-size="12.9" text-anchor="middle" fill="#111" textLength="17.9" lengthAdjust="spacingAndGlyphs" style="stroke:#111;stroke-width:0.40">-20</text>
<text x="493.30" y="520.90" font-size="12.9" text-anchor="middle" fill="#111" textLength="6.9" lengthAdjust="spacingAndGlyphs" style="stroke:#111;stroke-width:0.40">0</text>
<text x="532.33" y="520.90" font-size="12.9" text-anchor="middle" fill="#111" textLength="13.6" lengthAdjust="spacingAndGlyphs" style="stroke:#111;stroke-width:0.40">20</text>
<text x="571.36" y="520.90" font-size="12.9" text-anchor="middle" fill="#111" textLength="13.6" lengthAdjust="spacingAndGlyphs" style="stroke:#111;stroke-width:0.40">40</text>
<text x="610.39" y="520.90" font-size="12.9" text-anchor="middle" fill="#111" textLength="13.6" lengthAdjust="spacingAndGlyphs" style="stroke:#111;stroke-width:0.40">60</text>
<text x="493.50" y="539.30" font-size="13.4" text-anchor="middle" fill="#111" textLength="105.5" lengthAdjust="spacingAndGlyphs" style="stroke:#111;stroke-width:0.40">Days from perihelion</text>
<text x="341.40" y="28.30" font-size="14.4" text-anchor="end" fill="#111" textLength="51.5" lengthAdjust="spacingAndGlyphs" style="font-style:italic;stroke:#111;stroke-width:0.40">Orbits 8-9</text>
<text x="625.80" y="28.10" font-size="14.4" text-anchor="end" fill="#111" textLength="63.8" lengthAdjust="spacingAndGlyphs" style="font-style:italic;stroke:#111;stroke-width:0.40">Orbits 10-16</text>
<text x="340.80" y="279.40" font-size="14.4" text-anchor="end" fill="#111" textLength="63.8" lengthAdjust="spacingAndGlyphs" style="font-style:italic;stroke:#111;stroke-width:0.40">Orbits 17-21</text>
<text x="626.20" y="279.40" font-size="14.4" text-anchor="end" fill="#111" textLength="63.8" lengthAdjust="spacingAndGlyphs" style="font-style:italic;stroke:#111;stroke-width:0.40">Orbits 22-24</text>
<text x="89.80" y="30.30" font-size="14.3" text-anchor="start" fill="#7434a4" textLength="43.6" lengthAdjust="spacingAndGlyphs" style="stroke:#7434a4;stroke-width:0.25">Unbound</text>
<text x="137.30" y="30.20" font-size="13.8" text-anchor="start" fill="#7434a4" textLength="8.6" lengthAdjust="spacingAndGlyphs" style="font-style:italic;stroke:#7434a4;stroke-width:0.20">&#946;</text>
<text x="90.00" y="80.70" font-size="14.3" text-anchor="start" fill="#00893c" textLength="31.6" lengthAdjust="spacingAndGlyphs" style="stroke:#00893c;stroke-width:0.25">Bound</text>
<text x="124.60" y="80.80" font-size="15.0" text-anchor="start" fill="#00893c" style="font-style:italic;stroke:#00893c;stroke-width:0.15;font-family:'Liberation Serif',serif">&#945;</text>
<text transform="translate(18.90 55.30) rotate(-90)" font-size="13.2" text-anchor="middle" fill="#111" style="stroke:#111;stroke-width:0.42">v<tspan font-size="7.6" dy="4.7">imp</tspan></text>
<text transform="translate(35.40 55.70) rotate(-90)" font-size="12.6" text-anchor="middle" fill="#111" style="stroke:#111;stroke-width:0.42" textLength="36.0" lengthAdjust="spacingAndGlyphs">(km s<tspan font-size="6.3" dy="-5.6">-1</tspan><tspan dy="5.6">)</tspan></text>
<text transform="translate(18.70 137.30) rotate(-90)" font-size="13.2" text-anchor="middle" fill="#111" style="stroke:#111;stroke-width:0.42">a<tspan font-size="7.6" dy="4.7">th</tspan></text>
<text transform="translate(35.40 137.60) rotate(-90)" font-size="12.6" text-anchor="middle" fill="#111" style="stroke:#111;stroke-width:0.42" textLength="22.6" lengthAdjust="spacingAndGlyphs">(&#181;m)</text>
<text transform="translate(19.30 220.80) rotate(-90)" font-size="12.6" text-anchor="middle" fill="#111" style="stroke:#111;stroke-width:0.42" textLength="46.6" lengthAdjust="spacingAndGlyphs">Imp. Rate</text>
<text transform="translate(35.40 219.40) rotate(-90)" font-size="12.6" text-anchor="middle" fill="#111" style="stroke:#111;stroke-width:0.42" textLength="23.2" lengthAdjust="spacingAndGlyphs">(hr<tspan font-size="6.3" dy="-5.6">-1</tspan><tspan dy="5.6">)</tspan></text>
<text transform="translate(18.90 305.30) rotate(-90)" font-size="13.2" text-anchor="middle" fill="#111" style="stroke:#111;stroke-width:0.42">v<tspan font-size="7.6" dy="4.7">imp</tspan></text>
<text transform="translate(35.40 305.70) rotate(-90)" font-size="12.6" text-anchor="middle" fill="#111" style="stroke:#111;stroke-width:0.42" textLength="36.0" lengthAdjust="spacingAndGlyphs">(km s<tspan font-size="6.3" dy="-5.6">-1</tspan><tspan dy="5.6">)</tspan></text>
<text transform="translate(18.70 387.30) rotate(-90)" font-size="13.2" text-anchor="middle" fill="#111" style="stroke:#111;stroke-width:0.42">a<tspan font-size="7.6" dy="4.7">th</tspan></text>
<text transform="translate(35.40 387.60) rotate(-90)" font-size="12.6" text-anchor="middle" fill="#111" style="stroke:#111;stroke-width:0.42" textLength="22.6" lengthAdjust="spacingAndGlyphs">(&#181;m)</text>
<text transform="translate(19.30 470.80) rotate(-90)" font-size="12.6" text-anchor="middle" fill="#111" style="stroke:#111;stroke-width:0.42" textLength="46.6" lengthAdjust="spacingAndGlyphs">Imp. Rate</text>
<text transform="translate(35.40 469.40) rotate(-90)" font-size="12.6" text-anchor="middle" fill="#111" style="stroke:#111;stroke-width:0.42" textLength="23.2" lengthAdjust="spacingAndGlyphs">(hr<tspan font-size="6.3" dy="-5.6">-1</tspan><tspan dy="5.6">)</tspan></text></svg>
</body></html>
